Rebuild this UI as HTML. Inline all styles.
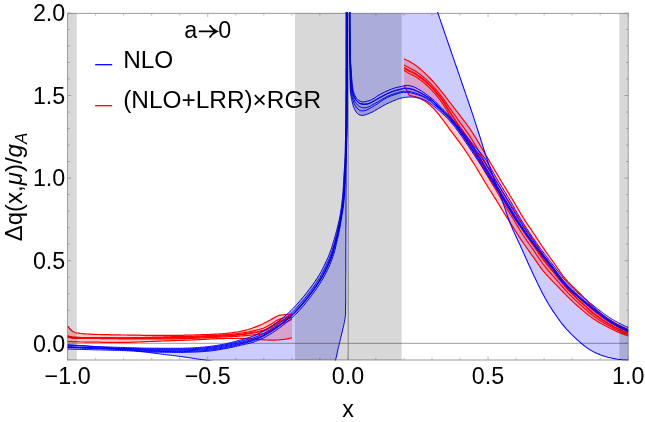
<!DOCTYPE html>
<html><head><meta charset="utf-8"><title>plot</title>
<style>html,body{margin:0;padding:0;background:#fff;width:645px;height:422px;overflow:hidden}</style></head>
<body>
<svg width="645" height="422" viewBox="0 0 645 422" style="position:absolute;left:0;top:0;will-change:transform">
<defs><clipPath id="cp"><rect x="67.50" y="12.10" width="560.80" height="348.30"/></clipPath><clipPath id="cf"><rect x="67.50" y="13.40" width="560.80" height="346.60"/></clipPath></defs>
<rect x="0" y="0" width="645" height="422" fill="#fff"/>
<line x1="67.50" y1="343.30" x2="628.30" y2="343.30" stroke="#909090" stroke-width="0.9"/>
<line x1="348.20" y1="13.40" x2="348.20" y2="360.00" stroke="#909090" stroke-width="0.9"/>
<path d="M67.10 13.40 H628.70 M67.10 360.00 H628.70" fill="none" stroke="#909090" stroke-width="0.9"/>
<path d="M67.50 13.40 V360.00 M628.30 13.40 V360.00" fill="none" stroke="#909090" stroke-width="0.75"/>
<line x1="67.60" y1="360.00" x2="67.60" y2="356.40" stroke="#a8a8a8" stroke-width="0.8"/>
<line x1="67.60" y1="13.40" x2="67.60" y2="17.00" stroke="#a8a8a8" stroke-width="0.8"/>
<line x1="95.63" y1="360.00" x2="95.63" y2="357.80" stroke="#a8a8a8" stroke-width="0.8"/>
<line x1="95.63" y1="13.40" x2="95.63" y2="15.60" stroke="#a8a8a8" stroke-width="0.8"/>
<line x1="123.66" y1="360.00" x2="123.66" y2="357.80" stroke="#a8a8a8" stroke-width="0.8"/>
<line x1="123.66" y1="13.40" x2="123.66" y2="15.60" stroke="#a8a8a8" stroke-width="0.8"/>
<line x1="151.69" y1="360.00" x2="151.69" y2="357.80" stroke="#a8a8a8" stroke-width="0.8"/>
<line x1="151.69" y1="13.40" x2="151.69" y2="15.60" stroke="#a8a8a8" stroke-width="0.8"/>
<line x1="179.72" y1="360.00" x2="179.72" y2="357.80" stroke="#a8a8a8" stroke-width="0.8"/>
<line x1="179.72" y1="13.40" x2="179.72" y2="15.60" stroke="#a8a8a8" stroke-width="0.8"/>
<line x1="207.75" y1="360.00" x2="207.75" y2="356.40" stroke="#a8a8a8" stroke-width="0.8"/>
<line x1="207.75" y1="13.40" x2="207.75" y2="17.00" stroke="#a8a8a8" stroke-width="0.8"/>
<line x1="235.78" y1="360.00" x2="235.78" y2="357.80" stroke="#a8a8a8" stroke-width="0.8"/>
<line x1="235.78" y1="13.40" x2="235.78" y2="15.60" stroke="#a8a8a8" stroke-width="0.8"/>
<line x1="263.81" y1="360.00" x2="263.81" y2="357.80" stroke="#a8a8a8" stroke-width="0.8"/>
<line x1="263.81" y1="13.40" x2="263.81" y2="15.60" stroke="#a8a8a8" stroke-width="0.8"/>
<line x1="291.84" y1="360.00" x2="291.84" y2="357.80" stroke="#a8a8a8" stroke-width="0.8"/>
<line x1="291.84" y1="13.40" x2="291.84" y2="15.60" stroke="#a8a8a8" stroke-width="0.8"/>
<line x1="319.87" y1="360.00" x2="319.87" y2="357.80" stroke="#a8a8a8" stroke-width="0.8"/>
<line x1="319.87" y1="13.40" x2="319.87" y2="15.60" stroke="#a8a8a8" stroke-width="0.8"/>
<line x1="347.90" y1="360.00" x2="347.90" y2="356.40" stroke="#a8a8a8" stroke-width="0.8"/>
<line x1="347.90" y1="13.40" x2="347.90" y2="17.00" stroke="#a8a8a8" stroke-width="0.8"/>
<line x1="375.93" y1="360.00" x2="375.93" y2="357.80" stroke="#a8a8a8" stroke-width="0.8"/>
<line x1="375.93" y1="13.40" x2="375.93" y2="15.60" stroke="#a8a8a8" stroke-width="0.8"/>
<line x1="403.96" y1="360.00" x2="403.96" y2="357.80" stroke="#a8a8a8" stroke-width="0.8"/>
<line x1="403.96" y1="13.40" x2="403.96" y2="15.60" stroke="#a8a8a8" stroke-width="0.8"/>
<line x1="431.99" y1="360.00" x2="431.99" y2="357.80" stroke="#a8a8a8" stroke-width="0.8"/>
<line x1="431.99" y1="13.40" x2="431.99" y2="15.60" stroke="#a8a8a8" stroke-width="0.8"/>
<line x1="460.02" y1="360.00" x2="460.02" y2="357.80" stroke="#a8a8a8" stroke-width="0.8"/>
<line x1="460.02" y1="13.40" x2="460.02" y2="15.60" stroke="#a8a8a8" stroke-width="0.8"/>
<line x1="488.05" y1="360.00" x2="488.05" y2="356.40" stroke="#a8a8a8" stroke-width="0.8"/>
<line x1="488.05" y1="13.40" x2="488.05" y2="17.00" stroke="#a8a8a8" stroke-width="0.8"/>
<line x1="516.08" y1="360.00" x2="516.08" y2="357.80" stroke="#a8a8a8" stroke-width="0.8"/>
<line x1="516.08" y1="13.40" x2="516.08" y2="15.60" stroke="#a8a8a8" stroke-width="0.8"/>
<line x1="544.11" y1="360.00" x2="544.11" y2="357.80" stroke="#a8a8a8" stroke-width="0.8"/>
<line x1="544.11" y1="13.40" x2="544.11" y2="15.60" stroke="#a8a8a8" stroke-width="0.8"/>
<line x1="572.14" y1="360.00" x2="572.14" y2="357.80" stroke="#a8a8a8" stroke-width="0.8"/>
<line x1="572.14" y1="13.40" x2="572.14" y2="15.60" stroke="#a8a8a8" stroke-width="0.8"/>
<line x1="600.17" y1="360.00" x2="600.17" y2="357.80" stroke="#a8a8a8" stroke-width="0.8"/>
<line x1="600.17" y1="13.40" x2="600.17" y2="15.60" stroke="#a8a8a8" stroke-width="0.8"/>
<line x1="628.20" y1="360.00" x2="628.20" y2="356.40" stroke="#a8a8a8" stroke-width="0.8"/>
<line x1="628.20" y1="13.40" x2="628.20" y2="17.00" stroke="#a8a8a8" stroke-width="0.8"/>
<line x1="67.50" y1="359.82" x2="69.70" y2="359.82" stroke="#a8a8a8" stroke-width="0.8"/>
<line x1="628.30" y1="359.82" x2="626.10" y2="359.82" stroke="#a8a8a8" stroke-width="0.8"/>
<line x1="67.50" y1="343.30" x2="71.10" y2="343.30" stroke="#a8a8a8" stroke-width="0.8"/>
<line x1="628.30" y1="343.30" x2="624.70" y2="343.30" stroke="#a8a8a8" stroke-width="0.8"/>
<line x1="67.50" y1="326.78" x2="69.70" y2="326.78" stroke="#a8a8a8" stroke-width="0.8"/>
<line x1="628.30" y1="326.78" x2="626.10" y2="326.78" stroke="#a8a8a8" stroke-width="0.8"/>
<line x1="67.50" y1="310.26" x2="69.70" y2="310.26" stroke="#a8a8a8" stroke-width="0.8"/>
<line x1="628.30" y1="310.26" x2="626.10" y2="310.26" stroke="#a8a8a8" stroke-width="0.8"/>
<line x1="67.50" y1="293.74" x2="69.70" y2="293.74" stroke="#a8a8a8" stroke-width="0.8"/>
<line x1="628.30" y1="293.74" x2="626.10" y2="293.74" stroke="#a8a8a8" stroke-width="0.8"/>
<line x1="67.50" y1="277.22" x2="69.70" y2="277.22" stroke="#a8a8a8" stroke-width="0.8"/>
<line x1="628.30" y1="277.22" x2="626.10" y2="277.22" stroke="#a8a8a8" stroke-width="0.8"/>
<line x1="67.50" y1="260.70" x2="71.10" y2="260.70" stroke="#a8a8a8" stroke-width="0.8"/>
<line x1="628.30" y1="260.70" x2="624.70" y2="260.70" stroke="#a8a8a8" stroke-width="0.8"/>
<line x1="67.50" y1="244.18" x2="69.70" y2="244.18" stroke="#a8a8a8" stroke-width="0.8"/>
<line x1="628.30" y1="244.18" x2="626.10" y2="244.18" stroke="#a8a8a8" stroke-width="0.8"/>
<line x1="67.50" y1="227.66" x2="69.70" y2="227.66" stroke="#a8a8a8" stroke-width="0.8"/>
<line x1="628.30" y1="227.66" x2="626.10" y2="227.66" stroke="#a8a8a8" stroke-width="0.8"/>
<line x1="67.50" y1="211.14" x2="69.70" y2="211.14" stroke="#a8a8a8" stroke-width="0.8"/>
<line x1="628.30" y1="211.14" x2="626.10" y2="211.14" stroke="#a8a8a8" stroke-width="0.8"/>
<line x1="67.50" y1="194.62" x2="69.70" y2="194.62" stroke="#a8a8a8" stroke-width="0.8"/>
<line x1="628.30" y1="194.62" x2="626.10" y2="194.62" stroke="#a8a8a8" stroke-width="0.8"/>
<line x1="67.50" y1="178.10" x2="71.10" y2="178.10" stroke="#a8a8a8" stroke-width="0.8"/>
<line x1="628.30" y1="178.10" x2="624.70" y2="178.10" stroke="#a8a8a8" stroke-width="0.8"/>
<line x1="67.50" y1="161.58" x2="69.70" y2="161.58" stroke="#a8a8a8" stroke-width="0.8"/>
<line x1="628.30" y1="161.58" x2="626.10" y2="161.58" stroke="#a8a8a8" stroke-width="0.8"/>
<line x1="67.50" y1="145.06" x2="69.70" y2="145.06" stroke="#a8a8a8" stroke-width="0.8"/>
<line x1="628.30" y1="145.06" x2="626.10" y2="145.06" stroke="#a8a8a8" stroke-width="0.8"/>
<line x1="67.50" y1="128.54" x2="69.70" y2="128.54" stroke="#a8a8a8" stroke-width="0.8"/>
<line x1="628.30" y1="128.54" x2="626.10" y2="128.54" stroke="#a8a8a8" stroke-width="0.8"/>
<line x1="67.50" y1="112.02" x2="69.70" y2="112.02" stroke="#a8a8a8" stroke-width="0.8"/>
<line x1="628.30" y1="112.02" x2="626.10" y2="112.02" stroke="#a8a8a8" stroke-width="0.8"/>
<line x1="67.50" y1="95.50" x2="71.10" y2="95.50" stroke="#a8a8a8" stroke-width="0.8"/>
<line x1="628.30" y1="95.50" x2="624.70" y2="95.50" stroke="#a8a8a8" stroke-width="0.8"/>
<line x1="67.50" y1="78.98" x2="69.70" y2="78.98" stroke="#a8a8a8" stroke-width="0.8"/>
<line x1="628.30" y1="78.98" x2="626.10" y2="78.98" stroke="#a8a8a8" stroke-width="0.8"/>
<line x1="67.50" y1="62.46" x2="69.70" y2="62.46" stroke="#a8a8a8" stroke-width="0.8"/>
<line x1="628.30" y1="62.46" x2="626.10" y2="62.46" stroke="#a8a8a8" stroke-width="0.8"/>
<line x1="67.50" y1="45.94" x2="69.70" y2="45.94" stroke="#a8a8a8" stroke-width="0.8"/>
<line x1="628.30" y1="45.94" x2="626.10" y2="45.94" stroke="#a8a8a8" stroke-width="0.8"/>
<line x1="67.50" y1="29.42" x2="69.70" y2="29.42" stroke="#a8a8a8" stroke-width="0.8"/>
<line x1="628.30" y1="29.42" x2="626.10" y2="29.42" stroke="#a8a8a8" stroke-width="0.8"/>
<line x1="67.50" y1="12.90" x2="71.10" y2="12.90" stroke="#a8a8a8" stroke-width="0.8"/>
<line x1="628.30" y1="12.90" x2="624.70" y2="12.90" stroke="#a8a8a8" stroke-width="0.8"/>
<g clip-path="url(#cp)" fill="none" stroke-linejoin="round">
<path d="M67.5 345.2L69.2 345.3L70.9 345.4L72.6 345.5L74.3 345.6L76.1 345.6L77.8 345.7L79.5 345.8L81.2 345.9L82.9 346.0L84.6 346.1L86.3 346.1L88.0 346.2L89.7 346.3L91.5 346.4L93.2 346.4L94.9 346.5L96.6 346.6L98.3 346.6L100.0 346.7L101.7 346.8L103.4 346.8L105.1 346.9L106.9 346.9L108.6 347.0L110.3 347.1L112.0 347.1L113.7 347.2L115.4 347.2L117.1 347.3L118.8 347.3L120.6 347.4L122.3 347.4L124.0 347.5L125.7 347.6L127.4 347.6L129.1 347.7L130.8 347.7L132.5 347.8L134.3 347.8L136.0 347.9L137.7 347.9L139.4 348.0L141.1 348.0L142.8 348.1L144.5 348.1L146.2 348.2L148.0 348.2L149.7 348.2L151.4 348.2L153.1 348.2L154.8 348.2L156.5 348.2L158.2 348.2L159.9 348.3L161.7 348.3L163.4 348.3L165.1 348.3L166.8 348.3L168.5 348.3L170.2 348.3L171.9 348.3L173.7 348.3L175.4 348.3L177.1 348.3L178.8 348.3L180.5 348.3L182.2 348.3L183.9 348.2L185.6 348.2L187.4 348.1L189.1 348.1L190.8 348.0L192.5 347.9L194.2 347.8L195.9 347.7L197.6 347.6L199.3 347.4L201.0 347.3L202.7 347.2L204.5 347.0L206.2 346.8L207.9 346.7L209.6 346.4L211.3 346.2L213.0 346.0L214.7 345.8L216.3 345.5L218.0 345.2L219.7 344.9L221.4 344.6L223.1 344.3L224.8 344.0L226.5 343.6L228.1 343.2L229.8 342.8L231.5 342.4L233.1 342.0L234.8 341.6L236.4 341.1L238.1 340.6L239.7 340.2L241.4 339.7L243.0 339.2L244.6 338.7L246.3 338.3L248.0 337.8L249.6 337.3L251.2 336.8L252.8 336.2L254.4 335.5L256.0 334.8L257.5 334.0L259.0 333.3L260.6 332.5L262.1 331.7L263.6 330.9L265.1 330.0L266.6 329.2L268.0 328.3L269.5 327.4L271.0 326.5L272.4 325.6L273.8 324.6L275.2 323.6L276.6 322.6L278.0 321.6L279.3 320.6L280.7 319.5L282.0 318.5L283.4 317.4L284.7 316.3L286.0 315.1L287.2 314.0L288.5 312.8L289.7 311.7L291.0 310.5L292.2 309.2L293.4 308.0L294.6 306.8L295.7 305.5L296.9 304.3L298.0 303.0L299.2 301.7L300.3 300.4L301.4 299.1L302.5 297.8L303.6 296.5L304.7 295.1L305.8 293.8L306.8 292.5L307.9 291.1L308.9 289.8L310.0 288.4L311.0 287.0L312.0 285.7L313.0 284.3L314.0 282.9L315.0 281.5L315.9 280.0L316.9 278.6L317.8 277.2L318.7 275.7L319.6 274.2L320.4 272.8L321.3 271.3L322.1 269.7L322.8 268.2L323.6 266.7L324.4 265.1L325.1 263.6L325.8 262.0L326.6 260.5L327.3 258.9L328.0 257.4L328.7 255.8L329.3 254.2L329.9 252.6L330.5 251.0L331.1 249.4L331.6 247.8L332.1 246.1L332.6 244.5L333.1 242.9L333.6 241.2L334.1 239.6L334.6 237.9L335.1 236.3L335.5 234.6L336.0 233.0L336.4 231.3L336.9 229.7L337.3 228.0L337.7 226.3L338.1 224.7L338.5 223.0L338.9 221.3L339.3 219.7L339.6 218.0L339.9 216.3L340.2 214.6L340.5 212.9L340.7 211.2L341.0 209.5L341.3 207.8L341.5 206.1L341.7 204.4L341.9 202.7L342.1 201.0L342.3 199.3L342.5 197.6L342.6 195.9L342.8 194.2L342.9 192.5L343.1 190.8L343.2 189.1L343.3 187.4L343.4 185.7L343.5 184.0L343.6 182.3L343.7 180.5L343.7 178.8L343.8 177.1L343.9 175.4L344.0 173.7L344.2 172.0L344.3 170.3L344.4 168.6L344.5 166.9L344.6 165.2L344.7 163.4L344.8 161.7L344.8 160.0L344.9 158.3L345.0 156.6L345.0 154.9L345.1 153.2L345.2 151.5L345.2 149.8L345.3 148.0L345.3 146.3L345.3 144.6L345.4 142.9L345.4 141.2L345.5 139.5L345.5 137.8L345.5 136.1L345.6 134.3L345.6 132.6L345.6 130.9L345.6 129.2L345.7 127.5L345.7 125.8L345.7 124.1L345.7 122.3L345.7 120.6L345.8 118.9L345.8 117.2L345.8 115.5L345.8 113.8L345.8 112.1L345.8 110.4L345.8 108.6L345.9 106.9L345.9 105.2L345.9 103.5L345.9 101.8L345.9 100.1L345.9 98.4L345.9 96.7L345.9 94.9L345.9 93.2L345.9 91.5L346.0 89.8L346.0 88.1L346.0 86.4L346.0 84.7L346.0 82.9L346.0 81.2L346.0 79.5L346.0 77.8L346.0 76.1L346.0 74.4L346.0 72.7L346.0 71.0L346.0 69.2L346.1 67.5L346.1 65.8L346.1 64.1L346.1 62.4L346.1 60.7L346.1 59.0L346.1 57.3L346.1 55.5L346.1 53.8L346.1 52.1L346.1 50.4L346.1 48.7L346.1 47.0L346.1 45.3L346.1 43.5L346.1 41.8L346.1 40.1L346.2 38.4L346.2 36.7L346.2 35.0L346.2 33.3L346.2 31.6L346.2 29.8L346.2 28.1L346.2 26.4L346.2 24.7L346.2 23.0L346.2 21.3L346.2 19.6L346.2 17.9L346.2 16.1L346.2 14.4L346.2 12.7L346.2 11.0L346.2 11.0L346.2 13.0L346.2 14.9L346.2 16.9L346.2 18.8L346.2 20.8L346.2 22.7L346.2 24.7L346.2 26.6L346.2 28.6L346.2 30.5L346.2 32.5L346.2 34.4L346.2 36.4L346.2 38.3L346.2 40.3L346.2 42.3L346.2 44.2L346.2 46.2L346.2 48.1L346.2 50.1L346.2 52.0L346.2 54.0L346.2 55.9L346.2 57.9L346.2 59.8L346.2 61.8L346.2 63.7L346.2 65.7L346.2 67.7L346.2 69.6L346.2 71.6L346.2 73.5L346.2 75.5L346.2 77.4L346.2 79.4L346.2 81.3L346.2 83.3L346.2 85.2L346.2 87.2L346.2 89.1L346.2 91.1L346.2 93.0L346.2 95.0L346.2 97.0L346.1 98.9L346.1 100.9L346.1 102.8L346.1 104.8L346.1 106.7L346.1 108.7L346.1 110.6L346.1 112.6L346.1 114.5L346.1 116.5L346.1 118.4L346.1 120.4L346.1 122.3L346.1 124.3L346.1 126.3L346.1 128.2L346.1 130.2L346.1 132.1L346.1 134.1L346.1 136.0L346.1 138.0L346.1 139.9L346.1 141.9L346.1 143.8L346.1 145.8L346.1 147.7L346.1 149.7L346.1 151.6L346.1 153.6L346.1 155.6L346.1 157.5L346.1 159.5L346.1 161.4L346.1 163.4L346.1 165.3L346.1 167.3L346.1 169.2L346.1 171.2L346.1 173.1L346.1 175.1L346.1 177.0L346.1 179.0L346.1 181.0L346.1 182.9L346.1 184.9L346.1 186.8L346.1 188.8L346.0 190.7L346.0 192.7L346.0 194.6L346.0 196.6L346.0 198.5L346.0 200.5L346.0 202.4L346.0 204.4L346.0 206.3L346.0 208.3L346.0 210.3L346.0 212.2L346.0 214.2L346.0 216.1L346.0 218.1L346.0 220.0L346.0 222.0L346.0 223.9L346.0 225.9L345.9 227.8L345.9 229.8L345.9 231.7L345.9 233.7L345.9 235.6L345.9 237.6L345.9 239.6L345.9 241.5L345.9 243.5L345.8 245.4L345.8 247.4L345.8 249.3L345.8 251.3L345.8 253.2L345.8 255.2L345.8 257.1L345.8 259.1L345.8 261.0L345.8 263.0L345.8 264.9L345.8 266.9L345.8 268.9L345.8 270.8L345.8 272.8L345.8 274.7L345.7 276.7L345.7 278.6L345.7 280.6L345.7 282.5L345.7 284.5L345.7 286.4L345.7 288.4L345.7 290.3L345.7 292.3L345.7 294.3L345.7 296.2L345.7 298.2L345.7 300.1L345.7 302.1L345.7 304.0L345.6 306.0L345.6 307.9L345.6 309.9L345.5 311.8L345.5 313.8L345.4 315.7L345.1 317.7L344.8 319.6L344.5 321.5L344.1 323.4L343.7 325.4L343.3 327.3L342.8 329.2L342.4 331.1L341.9 333.0L341.4 334.9L341.0 336.8L340.5 338.7L340.1 340.6L339.6 342.5L339.2 344.4L338.7 346.3L338.2 348.2L337.8 350.1L337.4 352.0L337.0 354.0L336.6 355.9L336.1 357.8L335.6 359.6L334.8 361.3L333.7 363.1L332.3 364.8L330.9 366.3L329.3 367.5L327.7 368.1L326.0 368.5L324.3 368.8L322.4 369.1L320.4 369.4L318.3 369.6L316.3 369.8L314.2 369.9L312.2 370.0L310.2 370.0L308.2 370.0L306.3 370.0L304.3 370.0L302.4 369.9L300.4 369.9L298.5 369.9L296.5 369.8L294.6 369.7L292.6 369.7L290.6 369.6L288.7 369.5L286.7 369.5L284.8 369.4L282.8 369.3L280.9 369.2L278.9 369.1L277.0 369.0L275.0 368.9L273.1 368.8L271.1 368.7L269.2 368.6L267.2 368.4L265.3 368.3L263.3 368.2L261.4 368.1L259.4 368.0L257.5 367.8L255.5 367.7L253.6 367.5L251.7 367.3L249.7 367.1L247.8 366.9L245.8 366.6L243.9 366.4L242.0 366.1L240.0 365.8L238.1 365.5L236.2 365.2L234.2 364.9L232.3 364.6L230.4 364.3L228.5 364.0L226.5 363.6L224.6 363.3L222.7 363.0L220.7 362.6L218.8 362.3L216.9 362.0L214.9 361.6L213.0 361.3L211.1 361.0L209.1 360.7L207.2 360.4L205.3 360.1L203.4 359.8L201.4 359.5L199.5 359.3L197.6 359.0L195.6 358.7L193.7 358.4L191.8 358.1L189.8 357.8L187.9 357.5L186.0 357.2L184.0 357.0L182.1 356.7L180.2 356.4L178.2 356.2L176.3 355.9L174.3 355.7L172.4 355.5L170.5 355.2L168.5 355.0L166.6 354.8L164.6 354.5L162.7 354.3L160.8 354.0L158.8 353.8L156.9 353.5L155.0 353.3L153.0 353.0L151.1 352.8L149.2 352.5L147.2 352.2L145.3 352.0L143.3 351.7L141.4 351.5L139.5 351.2L137.5 351.0L135.6 350.7L133.7 350.5L131.7 350.2L129.8 350.0L127.8 349.7L125.9 349.5L124.0 349.3L122.0 349.1L120.1 348.9L118.1 348.7L116.2 348.5L114.2 348.3L112.3 348.1L110.4 347.9L108.4 347.7L106.5 347.6L104.5 347.4L102.6 347.2L100.6 347.1L98.7 346.9L96.7 346.7L94.8 346.6L92.8 346.4L90.9 346.3L88.9 346.1L87.0 346.0L85.0 345.8L83.1 345.7L81.1 345.6L79.2 345.4L77.3 345.3L75.3 345.2L73.4 345.0L71.4 344.9L69.5 344.8L67.5 344.7 Z" fill="rgba(0,0,255,0.2)" stroke="none" clip-path="url(#cf)"/>
<path d="M349.4 11.0L349.4 12.5L349.4 14.1L349.4 15.6L349.4 17.1L349.4 18.7L349.4 20.2L349.5 21.7L349.5 23.2L349.5 24.8L349.5 26.3L349.5 27.8L349.5 29.4L349.5 30.9L349.5 32.4L349.5 34.0L349.6 35.5L349.6 37.0L349.6 38.6L349.6 40.1L349.6 41.6L349.6 43.1L349.6 44.7L349.7 46.2L349.7 47.7L349.7 49.3L349.7 50.8L349.7 52.3L349.7 53.9L349.8 55.4L349.8 56.9L349.8 58.5L349.8 60.0L349.8 61.5L349.8 63.1L349.8 64.6L349.8 66.1L349.9 67.7L349.9 69.2L349.9 70.7L349.9 72.3L349.9 73.8L350.0 75.3L350.0 76.9L350.0 78.4L350.0 79.9L350.1 81.4L350.1 83.0L350.1 84.5L350.2 86.0L350.2 87.5L350.3 89.1L350.3 90.6L350.4 92.1L350.6 93.6L350.9 95.2L351.1 96.7L351.4 98.2L351.7 99.7L352.0 101.2L352.4 102.7L352.8 104.2L353.2 105.7L353.7 107.1L354.3 108.5L354.9 109.9L355.7 111.3L356.6 112.7L357.7 113.8L358.8 114.5L360.3 115.1L361.8 115.4L363.3 115.3L364.8 115.0L366.3 114.5L367.8 114.0L369.2 113.4L370.6 112.8L372.0 112.2L373.4 111.5L374.7 110.7L376.0 109.9L377.4 109.2L378.7 108.4L380.0 107.6L381.3 106.8L382.7 106.1L384.0 105.3L385.3 104.6L386.7 103.9L388.1 103.2L389.4 102.6L390.9 102.0L392.3 101.3L393.7 100.8L395.1 100.2L396.5 99.6L397.9 99.0L399.4 98.6L400.9 98.2L402.4 97.8L403.9 97.5L405.4 97.3L406.9 97.2L408.4 97.1L410.0 97.0L411.5 97.0L413.0 97.0L414.6 97.2L416.1 97.5L417.6 97.8L419.1 98.1L420.5 98.5L422.0 99.0L423.5 99.6L424.9 100.2L426.2 100.8L427.5 101.6L428.8 102.4L430.1 103.3L431.3 104.3L432.5 105.2L433.7 106.1L434.9 107.1L436.1 108.0L437.3 109.0L438.5 110.0L439.6 111.0L440.8 112.0L441.9 113.0L443.0 114.1L444.1 115.1L445.2 116.2L446.3 117.3L447.4 118.4L448.4 119.5L449.4 120.7L450.5 121.8L451.5 123.0L452.4 124.1L453.4 125.3L454.4 126.5L455.3 127.7L456.3 128.9L457.2 130.2L458.1 131.4L459.0 132.6L459.9 133.9L460.8 135.1L461.7 136.4L462.5 137.6L463.4 138.9L464.3 140.1L465.1 141.4L466.0 142.7L466.8 144.0L467.7 145.2L468.5 146.5L469.4 147.8L470.2 149.1L471.1 150.3L471.9 151.6L472.8 152.9L473.6 154.2L474.4 155.4L475.3 156.7L476.1 158.0L477.0 159.3L477.8 160.5L478.7 161.8L479.5 163.1L480.4 164.4L481.2 165.6L482.0 166.9L482.9 168.2L483.7 169.5L484.6 170.8L485.4 172.0L486.3 173.3L487.1 174.6L487.9 175.9L488.8 177.2L489.6 178.4L490.4 179.7L491.3 181.0L492.1 182.3L492.9 183.6L493.7 184.9L494.6 186.2L495.4 187.5L496.2 188.8L497.0 190.0L497.8 191.3L498.7 192.6L499.5 193.9L500.3 195.2L501.1 196.5L501.9 197.8L502.7 199.1L503.6 200.4L504.4 201.7L505.2 203.0L505.9 204.3L506.7 205.6L507.5 207.0L508.3 208.3L509.1 209.6L509.9 210.9L510.7 212.2L511.5 213.5L512.3 214.8L513.1 216.1L513.9 217.4L514.7 218.7L515.6 220.0L516.4 221.2L517.3 222.5L518.2 223.8L519.0 225.0L519.9 226.3L520.8 227.5L521.7 228.8L522.6 230.0L523.5 231.2L524.4 232.5L525.3 233.7L526.2 234.9L527.1 236.2L528.0 237.4L529.0 238.6L529.9 239.8L530.8 241.1L531.7 242.3L532.7 243.5L533.6 244.7L534.5 245.9L535.4 247.2L536.4 248.4L537.3 249.6L538.2 250.8L539.2 252.0L540.1 253.2L541.0 254.4L542.0 255.7L542.9 256.9L543.9 258.1L544.8 259.3L545.8 260.5L546.7 261.7L547.7 262.9L548.6 264.1L549.6 265.3L550.5 266.5L551.4 267.7L552.4 268.9L553.3 270.1L554.2 271.4L555.1 272.6L556.0 273.9L556.8 275.1L557.7 276.4L558.6 277.6L559.5 278.9L560.4 280.1L561.4 281.3L562.4 282.4L563.4 283.6L564.4 284.7L565.5 285.8L566.5 286.9L567.6 287.9L568.7 289.0L569.9 290.0L571.0 291.1L572.1 292.1L573.3 293.1L574.4 294.2L575.6 295.2L576.8 296.2L577.9 297.2L579.1 298.2L580.2 299.2L581.4 300.2L582.6 301.2L583.7 302.2L584.9 303.1L586.1 304.1L587.3 305.1L588.5 306.0L589.7 307.0L590.9 307.9L592.1 308.9L593.3 309.8L594.5 310.7L595.7 311.7L597.0 312.6L598.2 313.5L599.4 314.5L600.6 315.4L601.8 316.3L603.0 317.3L604.3 318.2L605.5 319.1L606.8 320.0L608.0 320.8L609.3 321.7L610.6 322.5L611.9 323.3L613.2 324.1L614.5 324.9L615.8 325.6L617.2 326.4L618.5 327.1L619.9 327.8L621.3 328.4L622.7 329.1L624.1 329.7L625.5 330.3L626.9 330.9L628.3 331.5L630.3 331.0L630.3 362.0L628.3 360.3L627.0 360.2L625.7 360.1L624.4 360.0L623.1 359.9L621.8 359.8L620.5 359.6L619.2 359.4L617.9 359.3L616.6 359.1L615.3 358.9L614.1 358.6L612.8 358.4L611.5 358.1L610.2 357.8L608.9 357.5L607.7 357.2L606.4 356.8L605.1 356.5L603.9 356.1L602.7 355.7L601.5 355.3L600.2 354.8L599.0 354.3L597.8 353.8L596.6 353.3L595.4 352.7L594.2 352.1L593.1 351.5L591.9 350.9L590.8 350.2L589.7 349.6L588.6 348.9L587.5 348.2L586.5 347.4L585.4 346.7L584.4 345.9L583.4 345.0L582.3 344.2L581.3 343.3L580.3 342.5L579.4 341.6L578.4 340.7L577.4 339.9L576.4 339.0L575.5 338.1L574.5 337.2L573.6 336.3L572.6 335.4L571.7 334.5L570.8 333.6L569.9 332.6L569.0 331.7L568.1 330.7L567.2 329.8L566.3 328.8L565.5 327.8L564.6 326.8L563.8 325.8L563.0 324.8L562.1 323.8L561.3 322.8L560.5 321.7L559.8 320.7L559.0 319.6L558.2 318.6L557.5 317.5L556.7 316.5L556.0 315.4L555.2 314.3L554.5 313.2L553.7 312.2L553.0 311.1L552.3 310.0L551.6 308.9L550.9 307.8L550.2 306.7L549.5 305.6L548.8 304.5L548.1 303.3L547.5 302.2L546.8 301.1L546.2 300.0L545.5 298.8L544.9 297.7L544.3 296.5L543.7 295.4L543.0 294.2L542.4 293.1L541.8 291.9L541.2 290.8L540.7 289.6L540.1 288.4L539.5 287.3L538.9 286.1L538.3 284.9L537.8 283.7L537.2 282.6L536.6 281.4L536.1 280.2L535.5 279.0L535.0 277.8L534.4 276.7L533.8 275.5L533.3 274.3L532.7 273.1L532.2 272.0L531.6 270.8L531.1 269.6L530.5 268.4L530.0 267.2L529.4 266.0L528.9 264.8L528.4 263.7L527.8 262.5L527.3 261.3L526.8 260.1L526.2 258.9L525.7 257.7L525.2 256.5L524.6 255.3L524.1 254.1L523.6 252.9L523.0 251.7L522.5 250.5L522.0 249.4L521.4 248.2L520.9 247.0L520.4 245.8L519.8 244.6L519.3 243.4L518.7 242.2L518.2 241.0L517.6 239.9L517.1 238.7L516.5 237.5L515.9 236.3L515.4 235.1L514.8 233.9L514.3 232.8L513.8 231.6L513.2 230.4L512.7 229.2L512.2 228.0L511.7 226.8L511.2 225.6L510.7 224.4L510.2 223.2L509.7 222.0L509.3 220.8L508.8 219.5L508.4 218.3L507.9 217.1L507.5 215.8L507.1 214.6L506.6 213.4L506.2 212.1L505.8 210.9L505.4 209.7L505.0 208.4L504.5 207.2L504.1 206.0L503.7 204.7L503.3 203.5L502.8 202.3L502.4 201.0L501.9 199.8L501.5 198.6L501.0 197.4L500.6 196.1L500.1 194.9L499.6 193.7L499.2 192.5L498.7 191.3L498.2 190.1L497.7 188.8L497.3 187.6L496.8 186.4L496.3 185.2L495.9 184.0L495.4 182.8L494.9 181.5L494.5 180.3L494.0 179.1L493.6 177.9L493.1 176.6L492.7 175.4L492.3 174.2L491.8 172.9L491.4 171.7L491.0 170.5L490.5 169.2L490.1 168.0L489.7 166.8L489.3 165.5L488.8 164.3L488.4 163.1L488.0 161.8L487.6 160.6L487.2 159.4L486.7 158.1L486.3 156.9L485.9 155.7L485.5 154.4L485.1 153.2L484.7 151.9L484.3 150.7L483.9 149.5L483.5 148.2L483.1 147.0L482.7 145.7L482.3 144.5L481.9 143.2L481.5 142.0L481.1 140.7L480.8 139.5L480.4 138.3L480.0 137.0L479.6 135.8L479.2 134.5L478.8 133.3L478.4 132.0L478.0 130.8L477.6 129.5L477.2 128.3L476.8 127.1L476.4 125.8L476.0 124.6L475.6 123.3L475.2 122.1L474.8 120.9L474.4 119.6L474.0 118.4L473.6 117.1L473.2 115.9L472.8 114.7L472.4 113.4L471.9 112.2L471.5 111.0L471.1 109.7L470.7 108.5L470.3 107.2L469.8 106.0L469.4 104.8L469.0 103.5L468.6 102.3L468.2 101.1L467.7 99.8L467.3 98.6L466.9 97.4L466.5 96.1L466.0 94.9L465.6 93.7L465.2 92.4L464.8 91.2L464.4 90.0L463.9 88.7L463.5 87.5L463.1 86.3L462.7 85.0L462.2 83.8L461.8 82.6L461.4 81.3L461.0 80.1L460.6 78.9L460.1 77.6L459.7 76.4L459.3 75.2L458.9 73.9L458.4 72.7L458.0 71.5L457.6 70.2L457.2 69.0L456.7 67.8L456.3 66.5L455.9 65.3L455.4 64.1L455.0 62.8L454.6 61.6L454.2 60.4L453.7 59.1L453.3 57.9L452.9 56.7L452.5 55.4L452.0 54.2L451.6 53.0L451.2 51.7L450.8 50.5L450.3 49.3L449.9 48.0L449.5 46.8L449.1 45.5L448.6 44.3L448.2 43.1L447.8 41.8L447.4 40.6L446.9 39.4L446.5 38.1L446.1 36.9L445.7 35.7L445.3 34.4L444.8 33.2L444.4 32.0L444.0 30.7L443.6 29.5L443.1 28.3L442.7 27.0L442.3 25.8L441.9 24.6L441.4 23.3L441.0 22.1L440.6 20.9L440.2 19.6L439.7 18.4L439.3 17.2L438.9 15.9L438.5 14.7L438.0 13.5L437.6 12.2L437.2 11.0L437.0 5.0L349.0 5.0 Z" fill="rgba(0,0,255,0.2)" stroke="none" fill-rule="nonzero" clip-path="url(#cf)"/>
<path d="M67.5 345.2L69.2 345.3L70.9 345.4L72.6 345.5L74.3 345.6L76.1 345.6L77.8 345.7L79.5 345.8L81.2 345.9L82.9 346.0L84.6 346.1L86.3 346.1L88.0 346.2L89.7 346.3L91.5 346.4L93.2 346.4L94.9 346.5L96.6 346.6L98.3 346.6L100.0 346.7L101.7 346.8L103.4 346.8L105.1 346.9L106.9 346.9L108.6 347.0L110.3 347.1L112.0 347.1L113.7 347.2L115.4 347.2L117.1 347.3L118.8 347.3L120.6 347.4L122.3 347.4L124.0 347.5L125.7 347.6L127.4 347.6L129.1 347.7L130.8 347.7L132.5 347.8L134.3 347.8L136.0 347.9L137.7 347.9L139.4 348.0L141.1 348.0L142.8 348.1L144.5 348.1L146.2 348.2L148.0 348.2L149.7 348.2L151.4 348.2L153.1 348.2L154.8 348.2L156.5 348.2L158.2 348.2L159.9 348.3L161.7 348.3L163.4 348.3L165.1 348.3L166.8 348.3L168.5 348.3L170.2 348.3L171.9 348.3L173.7 348.3L175.4 348.3L177.1 348.3L178.8 348.3L180.5 348.3L182.2 348.3L183.9 348.2L185.6 348.2L187.4 348.1L189.1 348.1L190.8 348.0L192.5 347.9L194.2 347.8L195.9 347.7L197.6 347.6L199.3 347.4L201.0 347.3L202.7 347.2L204.5 347.0L206.2 346.8L207.9 346.7L209.6 346.4L211.3 346.2L213.0 346.0L214.7 345.8L216.3 345.5L218.0 345.2L219.7 344.9L221.4 344.6L223.1 344.3L224.8 344.0L226.5 343.6L228.1 343.2L229.8 342.8L231.5 342.4L233.1 342.0L234.8 341.6L236.4 341.1L238.1 340.6L239.7 340.2L241.4 339.7L243.0 339.2L244.6 338.7L246.3 338.3L248.0 337.8L249.6 337.3L251.2 336.8L252.8 336.2L254.4 335.5L256.0 334.8L257.5 334.0L259.0 333.3L260.6 332.5L262.1 331.7L263.6 330.9L265.1 330.0L266.6 329.2L268.0 328.3L269.5 327.4L271.0 326.5L272.4 325.6L273.8 324.6L275.2 323.6L276.6 322.6L278.0 321.6L279.3 320.6L280.7 319.5L282.0 318.5L283.4 317.4L284.7 316.3L286.0 315.1L287.2 314.0L288.5 312.8L289.7 311.7L291.0 310.5L292.2 309.2L293.4 308.0L294.6 306.8L295.7 305.5L296.9 304.3L298.0 303.0L299.2 301.7L300.3 300.4L301.4 299.1L302.5 297.8L303.6 296.5L304.7 295.1L305.8 293.8L306.8 292.5L307.9 291.1L308.9 289.8L310.0 288.4L311.0 287.0L312.0 285.7L313.0 284.3L314.0 282.9L315.0 281.5L315.9 280.0L316.9 278.6L317.8 277.2L318.7 275.7L319.6 274.2L320.4 272.8L321.3 271.3L322.1 269.7L322.8 268.2L323.6 266.7L324.4 265.1L325.1 263.6L325.8 262.0L326.6 260.5L327.3 258.9L328.0 257.4L328.7 255.8L329.3 254.2L329.9 252.6L330.5 251.0L331.1 249.4L331.6 247.8L332.1 246.1L332.6 244.5L333.1 242.9L333.6 241.2L334.1 239.6L334.6 237.9L335.1 236.3L335.5 234.6L336.0 233.0L336.4 231.3L336.9 229.7L337.3 228.0L337.7 226.3L338.1 224.7L338.5 223.0L338.9 221.3L339.3 219.7L339.6 218.0L339.9 216.3L340.2 214.6L340.5 212.9L340.7 211.2L341.0 209.5L341.3 207.8L341.5 206.1L341.7 204.4L341.9 202.7L342.1 201.0L342.3 199.3L342.5 197.6L342.6 195.9L342.8 194.2L342.9 192.5L343.1 190.8L343.2 189.1L343.3 187.4L343.4 185.7L343.5 184.0L343.6 182.3L343.7 180.5L343.7 178.8L343.8 177.1L343.9 175.4L344.0 173.7L344.2 172.0L344.3 170.3L344.4 168.6L344.5 166.9L344.6 165.2L344.7 163.4L344.8 161.7L344.8 160.0L344.9 158.3L345.0 156.6L345.0 154.9L345.1 153.2L345.2 151.5L345.2 149.8L345.3 148.0L345.3 146.3L345.3 144.6L345.4 142.9L345.4 141.2L345.5 139.5L345.5 137.8L345.5 136.1L345.6 134.3L345.6 132.6L345.6 130.9L345.6 129.2L345.7 127.5L345.7 125.8L345.7 124.1L345.7 122.3L345.7 120.6L345.8 118.9L345.8 117.2L345.8 115.5L345.8 113.8L345.8 112.1L345.8 110.4L345.8 108.6L345.9 106.9L345.9 105.2L345.9 103.5L345.9 101.8L345.9 100.1L345.9 98.4L345.9 96.7L345.9 94.9L345.9 93.2L345.9 91.5L346.0 89.8L346.0 88.1L346.0 86.4L346.0 84.7L346.0 82.9L346.0 81.2L346.0 79.5L346.0 77.8L346.0 76.1L346.0 74.4L346.0 72.7L346.0 71.0L346.0 69.2L346.1 67.5L346.1 65.8L346.1 64.1L346.1 62.4L346.1 60.7L346.1 59.0L346.1 57.3L346.1 55.5L346.1 53.8L346.1 52.1L346.1 50.4L346.1 48.7L346.1 47.0L346.1 45.3L346.1 43.5L346.1 41.8L346.1 40.1L346.2 38.4L346.2 36.7L346.2 35.0L346.2 33.3L346.2 31.6L346.2 29.8L346.2 28.1L346.2 26.4L346.2 24.7L346.2 23.0L346.2 21.3L346.2 19.6L346.2 17.9L346.2 16.1L346.2 14.4L346.2 12.7L346.2 11.0L347.6 11.0L347.6 12.7L347.6 14.5L347.6 16.2L347.6 17.9L347.6 19.7L347.6 21.4L347.6 23.2L347.6 24.9L347.6 26.6L347.6 28.4L347.6 30.1L347.6 31.8L347.5 33.6L347.5 35.3L347.5 37.0L347.5 38.8L347.5 40.5L347.5 42.3L347.5 44.0L347.5 45.7L347.5 47.5L347.5 49.2L347.5 50.9L347.5 52.7L347.5 54.4L347.5 56.1L347.5 57.9L347.5 59.6L347.5 61.4L347.5 63.1L347.5 64.8L347.4 66.6L347.4 68.3L347.4 70.0L347.4 71.8L347.4 73.5L347.4 75.3L347.4 77.0L347.4 78.7L347.4 80.5L347.4 82.2L347.4 83.9L347.4 85.7L347.4 87.4L347.4 89.1L347.4 90.9L347.4 92.6L347.4 94.4L347.3 96.1L347.3 97.8L347.3 99.6L347.3 101.3L347.3 103.0L347.3 104.8L347.3 106.5L347.3 108.2L347.3 110.0L347.3 111.7L347.3 113.5L347.3 115.2L347.3 116.9L347.2 118.7L347.2 120.4L347.2 122.1L347.2 123.9L347.2 125.6L347.2 127.3L347.1 129.1L347.1 130.8L347.1 132.6L347.0 134.3L347.0 136.0L346.9 137.8L346.8 139.5L346.8 141.2L346.7 143.0L346.7 144.7L346.6 146.4L346.6 148.2L346.5 149.9L346.5 151.6L346.4 153.4L346.4 155.1L346.3 156.9L346.2 158.6L346.2 160.3L346.1 162.1L346.1 163.8L346.0 165.5L345.9 167.3L345.8 169.0L345.8 170.7L345.7 172.5L345.6 174.2L345.5 175.9L345.4 177.7L345.3 179.4L345.2 181.1L345.1 182.9L345.1 184.6L345.0 186.3L344.9 188.1L344.8 189.8L344.6 191.5L344.5 193.3L344.4 195.0L344.3 196.7L344.2 198.5L344.1 200.2L343.9 201.9L343.7 203.7L343.5 205.4L343.3 207.1L343.1 208.8L342.8 210.5L342.5 212.3L342.2 214.0L341.9 215.7L341.7 217.4L341.4 219.1L341.1 220.8L340.8 222.5L340.5 224.3L340.2 226.0L339.9 227.7L339.6 229.4L339.3 231.1L338.9 232.8L338.6 234.5L338.2 236.2L337.8 237.9L337.4 239.6L337.0 241.3L336.6 242.9L336.2 244.6L335.8 246.3L335.4 248.0L335.0 249.7L334.5 251.4L334.0 253.1L333.5 254.7L333.0 256.4L332.4 258.0L331.8 259.6L331.2 261.2L330.6 262.9L329.9 264.5L329.3 266.1L328.6 267.7L327.8 269.3L327.1 270.8L326.3 272.4L325.5 273.9L324.7 275.4L323.8 277.0L323.0 278.5L322.1 280.0L321.2 281.5L320.3 282.9L319.4 284.4L318.4 285.9L317.4 287.3L316.5 288.7L315.5 290.2L314.5 291.6L313.4 293.0L312.4 294.4L311.4 295.8L310.3 297.2L309.3 298.5L308.2 299.9L307.1 301.3L306.0 302.6L304.9 304.0L303.8 305.3L302.7 306.6L301.6 307.9L300.4 309.3L299.3 310.5L298.1 311.8L296.9 313.1L295.7 314.3L294.4 315.5L293.2 316.7L291.9 317.9L290.6 319.1L289.3 320.2L288.0 321.3L286.6 322.4L285.3 323.5L283.9 324.6L282.5 325.6L281.1 326.7L279.7 327.7L278.3 328.7L276.9 329.7L275.5 330.7L274.0 331.7L272.6 332.6L271.1 333.6L269.6 334.5L268.1 335.4L266.6 336.3L265.1 337.1L263.6 337.9L262.0 338.6L260.4 339.3L258.8 340.0L257.2 340.7L255.6 341.3L254.0 342.0L252.3 342.5L250.7 343.0L249.0 343.4L247.3 343.8L245.6 344.1L243.9 344.5L242.2 344.9L240.5 345.3L238.8 345.7L237.1 346.1L235.4 346.5L233.7 346.9L232.0 347.3L230.3 347.6L228.6 348.0L226.9 348.3L225.2 348.6L223.5 348.9L221.8 349.2L220.1 349.5L218.4 349.8L216.7 350.1L215.0 350.3L213.2 350.6L211.5 350.8L209.8 351.0L208.1 351.2L206.3 351.3L204.6 351.5L202.9 351.6L201.1 351.7L199.4 351.8L197.7 351.9L195.9 352.0L194.2 352.1L192.5 352.1L190.7 352.2L189.0 352.2L187.3 352.3L185.5 352.3L183.8 352.4L182.0 352.4L180.3 352.4L178.6 352.4L176.8 352.4L175.1 352.4L173.4 352.4L171.6 352.4L169.9 352.3L168.2 352.3L166.4 352.3L164.7 352.3L162.9 352.2L161.2 352.2L159.5 352.2L157.7 352.2L156.0 352.1L154.3 352.1L152.5 352.1L150.8 352.0L149.1 352.0L147.3 351.9L145.6 351.8L143.9 351.8L142.1 351.7L140.4 351.6L138.7 351.5L136.9 351.3L135.2 351.2L133.5 351.1L131.7 351.0L130.0 350.9L128.3 350.8L126.5 350.7L124.8 350.6L123.0 350.6L121.3 350.5L119.6 350.4L117.8 350.4L116.1 350.3L114.4 350.3L112.6 350.3L110.9 350.2L109.2 350.2L107.4 350.1L105.7 350.1L104.0 350.0L102.2 350.0L100.5 349.9L98.7 349.9L97.0 349.9L95.3 349.8L93.5 349.8L91.8 349.7L90.1 349.7L88.3 349.6L86.6 349.6L84.9 349.5L83.1 349.5L81.4 349.4L79.7 349.4L77.9 349.3L76.2 349.3L74.4 349.2L72.7 349.2L71.0 349.1L69.2 349.1L67.5 349.0 Z" fill="rgba(0,0,255,0.10)" stroke="none" clip-path="url(#cf)"/>
<path d="M349.9 11.0L349.9 12.5L349.9 14.0L349.9 15.5L349.9 17.0L349.9 18.5L349.9 20.0L349.9 21.5L349.9 23.0L349.9 24.5L349.9 26.0L350.0 27.5L350.0 29.0L350.0 30.5L350.0 31.9L350.0 33.4L350.0 34.9L350.0 36.4L350.1 37.9L350.1 39.4L350.1 40.9L350.1 42.4L350.1 43.9L350.1 45.4L350.2 46.9L350.2 48.4L350.2 49.9L350.2 51.4L350.3 52.9L350.3 54.4L350.4 55.9L350.4 57.4L350.5 58.9L350.6 60.4L350.6 61.9L350.7 63.3L350.8 64.8L350.9 66.3L351.0 67.8L351.1 69.3L351.2 70.8L351.3 72.3L351.4 73.8L351.5 75.3L351.6 76.8L351.7 78.3L351.9 79.8L352.0 81.3L352.1 82.8L352.3 84.3L352.5 85.8L352.7 87.2L352.9 88.7L353.1 90.2L353.5 91.6L353.9 93.1L354.5 94.5L355.1 95.8L355.8 97.1L356.7 98.4L357.7 99.5L358.8 100.4L360.2 101.2L361.6 101.8L363.0 102.0L364.5 101.8L366.0 101.5L367.4 101.1L368.9 100.7L370.3 100.2L371.6 99.6L372.9 98.9L374.2 98.1L375.5 97.3L376.7 96.4L378.0 95.6L379.3 94.8L380.6 94.1L382.0 93.4L383.3 92.7L384.6 92.0L386.0 91.4L387.3 90.8L388.7 90.2L390.1 89.6L391.5 89.1L392.9 88.6L394.3 88.1L395.7 87.7L397.2 87.3L398.7 87.0L400.1 86.7L401.6 86.4L403.1 86.0L404.5 85.7L406.0 85.4L407.5 85.4L409.0 85.6L410.5 85.9L411.9 86.2L413.3 86.6L414.7 87.2L416.0 87.9L417.4 88.6L418.7 89.4L420.0 90.1L421.3 90.9L422.5 91.7L423.8 92.5L425.0 93.4L426.2 94.3L427.4 95.1L428.6 96.0L429.8 96.9L431.0 97.8L432.2 98.8L433.3 99.7L434.4 100.7L435.5 101.8L436.5 102.8L437.6 103.9L438.6 105.0L439.6 106.1L440.7 107.2L441.7 108.2L442.8 109.3L443.9 110.3L444.9 111.4L446.0 112.5L447.0 113.5L448.1 114.6L449.1 115.7L450.1 116.8L451.1 117.9L452.1 119.0L453.1 120.1L454.1 121.2L455.1 122.3L456.1 123.5L457.1 124.6L458.0 125.8L459.0 126.9L459.9 128.1L460.9 129.2L461.8 130.4L462.7 131.6L463.7 132.8L464.6 133.9L465.5 135.1L466.4 136.3L467.4 137.5L468.3 138.6L469.2 139.8L470.2 141.0L471.1 142.1L472.1 143.3L473.0 144.4L474.0 145.5L475.0 146.6L476.1 147.8L477.1 148.9L478.1 150.0L479.1 151.1L480.1 152.2L481.0 153.4L482.0 154.5L482.9 155.7L483.8 156.9L484.7 158.1L485.5 159.3L486.3 160.5L487.1 161.8L487.9 163.1L488.7 164.3L489.4 165.6L490.2 166.9L490.9 168.2L491.6 169.5L492.4 170.9L493.1 172.2L493.8 173.5L494.6 174.8L495.3 176.1L496.1 177.4L496.8 178.7L497.6 180.0L498.4 181.3L499.1 182.5L499.9 183.8L500.7 185.1L501.5 186.4L502.3 187.6L503.1 188.9L503.8 190.2L504.6 191.5L505.4 192.7L506.2 194.0L507.0 195.3L507.7 196.6L508.5 197.8L509.3 199.1L510.0 200.4L510.8 201.7L511.5 203.0L512.3 204.3L513.0 205.6L513.8 206.9L514.5 208.2L515.2 209.5L515.9 210.8L516.7 212.1L517.4 213.4L518.2 214.7L518.9 216.0L519.7 217.3L520.4 218.6L521.2 219.9L522.0 221.1L522.8 222.4L523.6 223.7L524.4 224.9L525.2 226.2L526.0 227.4L526.8 228.7L527.7 229.9L528.5 231.2L529.3 232.4L530.2 233.7L531.0 234.9L531.8 236.2L532.7 237.4L533.5 238.6L534.4 239.9L535.3 241.1L536.1 242.3L537.0 243.5L537.8 244.8L538.7 246.0L539.6 247.2L540.4 248.4L541.3 249.6L542.2 250.8L543.1 252.0L544.0 253.2L544.9 254.4L545.8 255.6L546.7 256.8L547.6 258.0L548.5 259.2L549.4 260.4L550.3 261.5L551.3 262.7L552.2 263.9L553.1 265.1L554.0 266.2L555.0 267.4L555.9 268.6L556.8 269.8L557.7 271.0L558.7 272.1L559.6 273.3L560.5 274.5L561.4 275.7L562.3 276.9L563.2 278.1L564.2 279.2L565.2 280.4L566.2 281.5L567.2 282.6L568.2 283.6L569.2 284.7L570.3 285.8L571.3 286.8L572.4 287.9L573.5 288.9L574.6 289.9L575.7 291.0L576.8 292.0L577.9 293.0L579.0 294.0L580.2 294.9L581.3 295.9L582.5 296.9L583.6 297.8L584.8 298.7L586.0 299.7L587.1 300.6L588.3 301.5L589.5 302.5L590.6 303.4L591.8 304.3L593.0 305.3L594.2 306.2L595.3 307.1L596.5 308.0L597.7 309.0L598.9 309.9L600.1 310.8L601.3 311.7L602.4 312.6L603.6 313.5L604.8 314.4L606.1 315.3L607.3 316.1L608.5 316.9L609.8 317.8L611.0 318.6L612.3 319.4L613.6 320.1L614.9 320.9L616.2 321.6L617.5 322.3L618.8 323.0L620.2 323.7L621.5 324.4L622.8 325.0L624.2 325.7L625.5 326.3L626.9 326.9L628.3 327.5L628.3 331.5L626.9 330.9L625.5 330.3L624.1 329.7L622.7 329.1L621.3 328.4L619.9 327.8L618.5 327.1L617.2 326.4L615.8 325.6L614.5 324.9L613.2 324.1L611.9 323.3L610.6 322.5L609.3 321.7L608.0 320.8L606.8 320.0L605.5 319.1L604.3 318.2L603.0 317.3L601.8 316.3L600.6 315.4L599.4 314.5L598.2 313.5L597.0 312.6L595.7 311.7L594.5 310.7L593.3 309.8L592.1 308.9L590.9 307.9L589.7 307.0L588.5 306.0L587.3 305.1L586.1 304.1L584.9 303.1L583.7 302.2L582.6 301.2L581.4 300.2L580.2 299.2L579.1 298.2L577.9 297.2L576.8 296.2L575.6 295.2L574.4 294.2L573.3 293.1L572.1 292.1L571.0 291.1L569.9 290.0L568.7 289.0L567.6 287.9L566.5 286.9L565.5 285.8L564.4 284.7L563.4 283.6L562.4 282.4L561.4 281.3L560.4 280.1L559.5 278.9L558.6 277.6L557.7 276.4L556.8 275.1L556.0 273.9L555.1 272.6L554.2 271.4L553.3 270.1L552.4 268.9L551.4 267.7L550.5 266.5L549.6 265.3L548.6 264.1L547.7 262.9L546.7 261.7L545.8 260.5L544.8 259.3L543.9 258.1L542.9 256.9L542.0 255.7L541.0 254.4L540.1 253.2L539.2 252.0L538.2 250.8L537.3 249.6L536.4 248.4L535.4 247.2L534.5 245.9L533.6 244.7L532.7 243.5L531.7 242.3L530.8 241.1L529.9 239.8L529.0 238.6L528.0 237.4L527.1 236.2L526.2 234.9L525.3 233.7L524.4 232.5L523.5 231.2L522.6 230.0L521.7 228.8L520.8 227.5L519.9 226.3L519.0 225.0L518.2 223.8L517.3 222.5L516.4 221.2L515.6 220.0L514.7 218.7L513.9 217.4L513.1 216.1L512.3 214.8L511.5 213.5L510.7 212.2L509.9 210.9L509.1 209.6L508.3 208.3L507.5 207.0L506.7 205.6L505.9 204.3L505.2 203.0L504.4 201.7L503.6 200.4L502.7 199.1L501.9 197.8L501.1 196.5L500.3 195.2L499.5 193.9L498.7 192.6L497.8 191.3L497.0 190.0L496.2 188.8L495.4 187.5L494.6 186.2L493.7 184.9L492.9 183.6L492.1 182.3L491.3 181.0L490.4 179.7L489.6 178.4L488.8 177.2L487.9 175.9L487.1 174.6L486.3 173.3L485.4 172.0L484.6 170.8L483.7 169.5L482.9 168.2L482.0 166.9L481.2 165.6L480.4 164.4L479.5 163.1L478.7 161.8L477.8 160.5L477.0 159.3L476.1 158.0L475.3 156.7L474.4 155.4L473.6 154.2L472.8 152.9L471.9 151.6L471.1 150.3L470.2 149.1L469.4 147.8L468.5 146.5L467.7 145.2L466.8 144.0L466.0 142.7L465.1 141.4L464.3 140.1L463.4 138.9L462.5 137.6L461.7 136.4L460.8 135.1L459.9 133.9L459.0 132.6L458.1 131.4L457.2 130.2L456.3 128.9L455.3 127.7L454.4 126.5L453.4 125.3L452.4 124.1L451.5 123.0L450.5 121.8L449.4 120.7L448.4 119.5L447.4 118.4L446.3 117.3L445.2 116.2L444.1 115.1L443.0 114.1L441.9 113.0L440.8 112.0L439.6 111.0L438.5 110.0L437.3 109.0L436.1 108.0L434.9 107.1L433.7 106.1L432.5 105.2L431.3 104.3L430.1 103.3L428.8 102.4L427.5 101.6L426.2 100.8L424.9 100.2L423.5 99.6L422.0 99.0L420.5 98.5L419.1 98.1L417.6 97.8L416.1 97.5L414.6 97.2L413.0 97.0L411.5 97.0L410.0 97.0L408.4 97.1L406.9 97.2L405.4 97.3L403.9 97.5L402.4 97.8L400.9 98.2L399.4 98.6L397.9 99.0L396.5 99.6L395.1 100.2L393.7 100.8L392.3 101.3L390.9 102.0L389.4 102.6L388.1 103.2L386.7 103.9L385.3 104.6L384.0 105.3L382.7 106.1L381.3 106.8L380.0 107.6L378.7 108.4L377.4 109.2L376.0 109.9L374.7 110.7L373.4 111.5L372.0 112.2L370.6 112.8L369.2 113.4L367.8 114.0L366.3 114.5L364.8 115.0L363.3 115.3L361.8 115.4L360.3 115.1L358.8 114.5L357.7 113.8L356.6 112.7L355.7 111.3L354.9 109.9L354.3 108.5L353.7 107.1L353.2 105.7L352.8 104.2L352.4 102.7L352.0 101.2L351.7 99.7L351.4 98.2L351.1 96.7L350.9 95.2L350.6 93.6L350.4 92.1L350.3 90.6L350.3 89.1L350.2 87.5L350.2 86.0L350.1 84.5L350.1 83.0L350.1 81.4L350.0 79.9L350.0 78.4L350.0 76.9L350.0 75.3L349.9 73.8L349.9 72.3L349.9 70.7L349.9 69.2L349.9 67.7L349.8 66.1L349.8 64.6L349.8 63.1L349.8 61.5L349.8 60.0L349.8 58.5L349.8 56.9L349.8 55.4L349.7 53.9L349.7 52.3L349.7 50.8L349.7 49.3L349.7 47.7L349.7 46.2L349.6 44.7L349.6 43.1L349.6 41.6L349.6 40.1L349.6 38.6L349.6 37.0L349.6 35.5L349.5 34.0L349.5 32.4L349.5 30.9L349.5 29.4L349.5 27.8L349.5 26.3L349.5 24.8L349.5 23.2L349.5 21.7L349.4 20.2L349.4 18.7L349.4 17.1L349.4 15.6L349.4 14.1L349.4 12.5L349.4 11.0 Z" fill="rgba(0,0,255,0.10)" stroke="none" clip-path="url(#cf)"/>
<path d="M67.5 326.1L68.8 327.7L70.0 329.0L71.3 330.2L72.5 331.3L73.8 332.0L75.0 332.5L76.3 332.8L77.5 333.0L78.8 333.2L80.0 333.4L81.3 333.5L82.6 333.7L83.8 333.8L85.1 333.9L86.3 334.0L87.6 334.0L88.8 334.1L90.1 334.2L91.3 334.2L92.6 334.3L93.8 334.3L95.1 334.4L96.3 334.4L97.6 334.5L98.9 334.5L100.1 334.5L101.4 334.6L102.6 334.6L103.9 334.6L105.1 334.7L106.4 334.7L107.6 334.7L108.9 334.7L110.1 334.8L111.4 334.8L112.7 334.8L113.9 334.8L115.2 334.9L116.4 334.9L117.7 334.9L118.9 334.9L120.2 334.9L121.4 335.0L122.7 335.0L123.9 335.0L125.2 335.0L126.4 335.0L127.7 335.1L129.0 335.1L130.2 335.1L131.5 335.1L132.7 335.1L134.0 335.1L135.2 335.2L136.5 335.2L137.7 335.2L139.0 335.2L140.2 335.2L141.5 335.3L142.8 335.3L144.0 335.3L145.3 335.3L146.5 335.3L147.8 335.3L149.0 335.3L150.3 335.3L151.5 335.4L152.8 335.4L154.0 335.4L155.3 335.4L156.5 335.4L157.8 335.4L159.1 335.4L160.3 335.4L161.6 335.4L162.8 335.4L164.1 335.4L165.3 335.4L166.6 335.4L167.8 335.4L169.1 335.4L170.3 335.4L171.6 335.4L172.9 335.4L174.1 335.3L175.4 335.3L176.6 335.3L177.9 335.3L179.1 335.3L180.4 335.3L181.6 335.3L182.9 335.3L184.1 335.2L185.4 335.2L186.6 335.2L187.9 335.2L189.2 335.1L190.4 335.1L191.7 335.1L192.9 335.0L194.2 335.0L195.4 334.9L196.7 334.9L197.9 334.9L199.2 334.8L200.4 334.8L201.7 334.7L203.0 334.7L204.2 334.7L205.5 334.6L206.7 334.6L208.0 334.5L209.2 334.5L210.5 334.4L211.7 334.4L213.0 334.3L214.2 334.2L215.5 334.2L216.7 334.1L218.0 334.0L219.3 333.9L220.5 333.9L221.8 333.8L223.0 333.7L224.3 333.6L225.5 333.5L226.8 333.3L228.0 333.2L229.3 333.1L230.5 332.9L231.8 332.8L233.1 332.6L234.3 332.4L235.6 332.2L236.8 332.0L238.1 331.8L239.3 331.5L240.6 331.3L241.8 331.0L243.1 330.7L244.3 330.5L245.6 330.2L246.8 329.8L248.1 329.5L249.4 329.1L250.6 328.7L251.9 328.3L253.1 327.8L254.4 327.4L255.6 326.9L256.9 326.4L258.1 325.9L259.4 325.4L260.6 324.9L261.9 324.3L263.2 323.7L264.4 323.0L265.7 322.4L266.9 321.8L268.2 321.1L269.4 320.5L270.7 319.8L271.9 319.1L273.2 318.4L274.4 317.6L275.7 316.9L276.9 316.2L278.2 315.7L279.5 315.4L280.7 315.1L282.0 315.0L283.2 314.8L284.5 314.7L285.7 314.6L287.0 314.5L288.2 314.4L289.5 314.3L290.7 314.3L292.0 314.2L292.0 337.7L290.7 338.0L289.5 338.3L288.2 338.6L287.0 338.9L285.7 339.1L284.5 339.3L283.2 339.5L282.0 339.6L280.7 339.7L279.5 339.8L278.2 340.0L276.9 340.0L275.7 340.1L274.4 340.2L273.2 340.2L271.9 340.2L270.7 340.2L269.4 340.1L268.2 340.1L266.9 340.0L265.7 340.0L264.4 339.9L263.2 339.8L261.9 339.7L260.6 339.6L259.4 339.6L258.1 339.5L256.9 339.4L255.6 339.2L254.4 339.1L253.1 339.0L251.9 338.9L250.6 338.8L249.4 338.7L248.1 338.6L246.8 338.6L245.6 338.6L244.3 338.6L243.1 338.6L241.8 338.5L240.6 338.5L239.3 338.5L238.1 338.5L236.8 338.5L235.6 338.5L234.3 338.5L233.1 338.5L231.8 338.5L230.5 338.5L229.3 338.5L228.0 338.5L226.8 338.5L225.5 338.5L224.3 338.6L223.0 338.6L221.8 338.6L220.5 338.6L219.3 338.7L218.0 338.7L216.7 338.7L215.5 338.8L214.2 338.8L213.0 338.9L211.7 338.9L210.5 339.0L209.2 339.1L208.0 339.1L206.7 339.2L205.5 339.3L204.2 339.4L203.0 339.4L201.7 339.5L200.4 339.6L199.2 339.6L197.9 339.7L196.7 339.7L195.4 339.8L194.2 339.9L192.9 339.9L191.7 340.0L190.4 340.0L189.2 340.1L187.9 340.1L186.6 340.2L185.4 340.2L184.1 340.2L182.9 340.3L181.6 340.3L180.4 340.4L179.1 340.4L177.9 340.5L176.6 340.5L175.4 340.6L174.1 340.6L172.9 340.6L171.6 340.7L170.3 340.7L169.1 340.8L167.8 340.8L166.6 340.8L165.3 340.9L164.1 340.9L162.8 341.0L161.6 341.0L160.3 341.1L159.1 341.1L157.8 341.2L156.5 341.2L155.3 341.3L154.0 341.3L152.8 341.4L151.5 341.4L150.3 341.5L149.0 341.5L147.8 341.6L146.5 341.7L145.3 341.7L144.0 341.8L142.8 341.8L141.5 341.9L140.2 341.9L139.0 342.0L137.7 342.0L136.5 342.1L135.2 342.1L134.0 342.1L132.7 342.2L131.5 342.2L130.2 342.2L129.0 342.3L127.7 342.3L126.4 342.3L125.2 342.3L123.9 342.3L122.7 342.3L121.4 342.3L120.2 342.3L118.9 342.3L117.7 342.3L116.4 342.3L115.2 342.3L113.9 342.3L112.7 342.3L111.4 342.3L110.1 342.3L108.9 342.3L107.6 342.3L106.4 342.3L105.1 342.3L103.9 342.3L102.6 342.3L101.4 342.3L100.1 342.2L98.9 342.2L97.6 342.2L96.3 342.2L95.1 342.2L93.8 342.2L92.6 342.2L91.3 342.2L90.1 342.1L88.8 342.1L87.6 342.1L86.3 342.1L85.1 342.1L83.8 342.0L82.6 342.0L81.3 342.0L80.0 342.0L78.8 341.9L77.5 341.9L76.3 341.9L75.0 341.8L73.8 341.8L72.5 341.8L71.3 341.7L70.0 341.7L68.8 341.6L67.5 341.6 Z" fill="rgba(255,0,0,0.2)" stroke="none" clip-path="url(#cf)"/>
<path d="M404.0 58.9L404.9 59.3L405.9 59.8L406.8 60.2L407.8 60.6L408.7 61.1L409.6 61.6L410.6 62.1L411.5 62.7L412.4 63.2L413.4 63.8L414.3 64.4L415.3 65.1L416.2 65.7L417.1 66.4L418.1 67.2L419.0 68.0L420.0 68.8L420.9 69.6L421.8 70.4L422.8 71.2L423.7 72.1L424.6 72.9L425.6 73.8L426.5 74.7L427.5 75.6L428.4 76.6L429.3 77.5L430.3 78.5L431.2 79.5L432.2 80.5L433.1 81.5L434.0 82.6L435.0 83.6L435.9 84.7L436.8 85.8L437.8 87.0L438.7 88.1L439.7 89.3L440.6 90.5L441.5 91.6L442.5 92.8L443.4 94.0L444.4 95.2L445.3 96.4L446.2 97.6L447.2 98.8L448.1 100.0L449.0 101.3L450.0 102.5L450.9 103.7L451.9 105.0L452.8 106.2L453.7 107.4L454.7 108.6L455.6 109.8L456.6 111.0L457.5 112.2L458.4 113.4L459.4 114.6L460.3 115.9L461.2 117.1L462.2 118.3L463.1 119.6L464.1 120.8L465.0 122.0L465.9 123.2L466.9 124.5L467.8 125.8L468.8 127.1L469.7 128.4L470.6 129.8L471.6 131.2L472.5 132.7L473.4 134.1L474.4 135.6L475.3 137.2L476.3 138.7L477.2 140.3L478.1 141.9L479.1 143.4L480.0 145.1L481.0 146.7L481.9 148.3L482.8 149.9L483.8 151.5L484.7 153.1L485.6 154.7L486.6 156.3L487.5 157.9L488.5 159.5L489.4 161.1L490.3 162.7L491.3 164.3L492.2 165.8L493.2 167.4L494.1 169.0L495.0 170.6L496.0 172.2L496.9 173.8L497.8 175.4L498.8 177.0L499.7 178.5L500.7 180.1L501.6 181.7L502.5 183.2L503.5 184.7L504.4 186.3L505.4 187.8L506.3 189.3L507.2 190.9L508.2 192.4L509.1 193.9L510.0 195.5L511.0 197.0L511.9 198.5L512.9 200.1L513.8 201.7L514.7 203.3L515.7 204.9L516.6 206.5L517.6 208.2L518.5 209.8L519.4 211.4L520.4 213.0L521.3 214.6L522.3 216.1L523.2 217.7L524.1 219.1L525.1 220.6L526.0 222.0L526.9 223.4L527.9 224.8L528.8 226.1L529.8 227.5L530.7 228.9L531.6 230.3L532.6 231.7L533.5 233.1L534.5 234.5L535.4 235.9L536.3 237.4L537.3 238.8L538.2 240.3L539.1 241.7L540.1 243.1L541.0 244.5L542.0 246.0L542.9 247.4L543.8 248.7L544.8 250.1L545.7 251.5L546.7 252.8L547.6 254.1L548.5 255.4L549.5 256.7L550.4 258.0L551.3 259.3L552.3 260.6L553.2 261.9L554.2 263.2L555.1 264.5L556.0 265.9L557.0 267.2L557.9 268.6L558.9 269.9L559.8 271.3L560.7 272.6L561.7 274.0L562.6 275.3L563.5 276.5L564.5 277.7L565.4 278.9L566.4 280.0L567.3 281.0L568.2 282.1L569.2 283.0L570.1 284.0L571.1 285.0L572.0 285.9L572.9 286.8L573.9 287.7L574.8 288.6L575.7 289.5L576.7 290.4L577.6 291.3L578.6 292.2L579.5 293.1L580.4 294.0L581.4 295.0L582.3 295.9L583.3 296.9L584.2 297.8L585.1 298.8L586.1 299.7L587.0 300.6L587.9 301.6L588.9 302.5L589.8 303.5L590.8 304.4L591.7 305.3L592.6 306.2L593.6 307.1L594.5 307.9L595.5 308.8L596.4 309.6L597.3 310.4L598.3 311.2L599.2 312.0L600.1 312.8L601.1 313.5L602.0 314.3L603.0 315.0L603.9 315.7L604.8 316.4L605.8 317.1L606.7 317.7L607.7 318.4L608.6 319.0L609.5 319.6L610.5 320.2L611.4 320.8L612.3 321.4L613.3 321.9L614.2 322.5L615.2 323.0L616.1 323.6L617.0 324.1L618.0 324.6L618.9 325.1L619.9 325.6L620.8 326.0L621.7 326.5L622.7 327.0L623.6 327.4L624.5 327.8L625.5 328.3L626.4 328.7L627.4 329.1L628.3 329.5L628.3 336.0L627.4 335.7L626.4 335.3L625.5 335.0L624.5 334.6L623.6 334.3L622.7 333.9L621.7 333.5L620.8 333.2L619.9 332.8L618.9 332.4L618.0 332.0L617.0 331.6L616.1 331.2L615.2 330.7L614.2 330.3L613.3 329.8L612.3 329.4L611.4 328.9L610.5 328.5L609.5 328.0L608.6 327.5L607.7 327.0L606.7 326.5L605.8 326.0L604.8 325.5L603.9 325.0L603.0 324.5L602.0 324.0L601.1 323.5L600.1 323.0L599.2 322.4L598.3 321.9L597.3 321.3L596.4 320.7L595.5 320.1L594.5 319.5L593.6 318.9L592.6 318.2L591.7 317.5L590.8 316.9L589.8 316.1L588.9 315.4L587.9 314.7L587.0 313.9L586.1 313.2L585.1 312.4L584.2 311.6L583.3 310.9L582.3 310.1L581.4 309.3L580.4 308.5L579.5 307.7L578.6 306.8L577.6 306.0L576.7 305.2L575.7 304.3L574.8 303.5L573.9 302.6L572.9 301.7L572.0 300.8L571.1 300.0L570.1 299.1L569.2 298.1L568.2 297.2L567.3 296.3L566.4 295.4L565.4 294.4L564.5 293.4L563.5 292.5L562.6 291.5L561.7 290.5L560.7 289.6L559.8 288.6L558.9 287.6L557.9 286.6L557.0 285.7L556.0 284.7L555.1 283.8L554.2 282.8L553.2 281.8L552.3 280.9L551.3 279.9L550.4 278.9L549.5 277.9L548.5 276.9L547.6 275.9L546.7 274.9L545.7 273.8L544.8 272.7L543.8 271.6L542.9 270.5L542.0 269.3L541.0 268.1L540.1 266.8L539.1 265.5L538.2 264.2L537.3 262.8L536.3 261.4L535.4 260.1L534.5 258.7L533.5 257.4L532.6 256.1L531.6 254.8L530.7 253.5L529.8 252.1L528.8 250.8L527.9 249.5L526.9 248.2L526.0 246.9L525.1 245.5L524.1 244.2L523.2 242.8L522.3 241.4L521.3 240.1L520.4 238.7L519.4 237.2L518.5 235.8L517.6 234.3L516.6 232.8L515.7 231.3L514.7 229.8L513.8 228.3L512.9 226.8L511.9 225.3L511.0 223.8L510.0 222.4L509.1 220.9L508.2 219.5L507.2 218.0L506.3 216.6L505.4 215.1L504.4 213.6L503.5 212.0L502.5 210.5L501.6 208.9L500.7 207.4L499.7 205.8L498.8 204.2L497.8 202.7L496.9 201.2L496.0 199.6L495.0 198.1L494.1 196.7L493.2 195.2L492.2 193.7L491.3 192.2L490.3 190.8L489.4 189.3L488.5 187.8L487.5 186.3L486.6 184.8L485.6 183.2L484.7 181.7L483.8 180.1L482.8 178.5L481.9 176.9L481.0 175.3L480.0 173.8L479.1 172.2L478.1 170.6L477.2 169.1L476.3 167.5L475.3 166.0L474.4 164.5L473.4 163.0L472.5 161.6L471.6 160.1L470.6 158.6L469.7 157.2L468.8 155.7L467.8 154.3L466.9 152.9L465.9 151.5L465.0 150.1L464.1 148.7L463.1 147.4L462.2 146.0L461.2 144.7L460.3 143.4L459.4 142.2L458.4 140.9L457.5 139.6L456.6 138.4L455.6 137.1L454.7 135.9L453.7 134.6L452.8 133.4L451.9 132.1L450.9 130.9L450.0 129.6L449.0 128.3L448.1 127.0L447.2 125.7L446.2 124.4L445.3 123.1L444.4 121.8L443.4 120.5L442.5 119.3L441.5 118.1L440.6 116.9L439.7 115.7L438.7 114.4L437.8 113.3L436.8 112.1L435.9 111.0L435.0 110.0L434.0 108.9L433.1 108.0L432.2 107.1L431.2 106.2L430.3 105.3L429.3 104.5L428.4 103.7L427.5 102.9L426.5 102.2L425.6 101.5L424.6 100.9L423.7 100.4L422.8 99.9L421.8 99.4L420.9 98.9L420.0 98.5L419.0 98.1L418.1 97.7L417.1 97.4L416.2 97.0L415.3 96.7L414.3 96.5L413.4 96.3L412.4 96.0L411.5 95.9L410.6 95.7L409.6 95.6L408.7 94.5L407.8 92.6L406.8 90.6L405.9 88.9L404.9 87.3L404.0 85.6 Z" fill="rgba(255,0,0,0.2)" stroke="none" clip-path="url(#cf)"/>
<path d="M67.5 326.1L68.8 327.7L70.0 329.0L71.3 330.2L72.5 331.3L73.8 332.0L75.0 332.5L76.3 332.8L77.5 333.0L78.8 333.2L80.0 333.4L81.3 333.5L82.6 333.7L83.8 333.8L85.1 333.9L86.3 334.0L87.6 334.0L88.8 334.1L90.1 334.2L91.3 334.2L92.6 334.3L93.8 334.3L95.1 334.4L96.3 334.4L97.6 334.5L98.9 334.5L100.1 334.5L101.4 334.6L102.6 334.6L103.9 334.6L105.1 334.7L106.4 334.7L107.6 334.7L108.9 334.7L110.1 334.8L111.4 334.8L112.7 334.8L113.9 334.8L115.2 334.9L116.4 334.9L117.7 334.9L118.9 334.9L120.2 334.9L121.4 335.0L122.7 335.0L123.9 335.0L125.2 335.0L126.4 335.0L127.7 335.1L129.0 335.1L130.2 335.1L131.5 335.1L132.7 335.1L134.0 335.1L135.2 335.2L136.5 335.2L137.7 335.2L139.0 335.2L140.2 335.2L141.5 335.3L142.8 335.3L144.0 335.3L145.3 335.3L146.5 335.3L147.8 335.3L149.0 335.3L150.3 335.3L151.5 335.4L152.8 335.4L154.0 335.4L155.3 335.4L156.5 335.4L157.8 335.4L159.1 335.4L160.3 335.4L161.6 335.4L162.8 335.4L164.1 335.4L165.3 335.4L166.6 335.4L167.8 335.4L169.1 335.4L170.3 335.4L171.6 335.4L172.9 335.4L174.1 335.3L175.4 335.3L176.6 335.3L177.9 335.3L179.1 335.3L180.4 335.3L181.6 335.3L182.9 335.3L184.1 335.2L185.4 335.2L186.6 335.2L187.9 335.2L189.2 335.1L190.4 335.1L191.7 335.1L192.9 335.0L194.2 335.0L195.4 334.9L196.7 334.9L197.9 334.9L199.2 334.8L200.4 334.8L201.7 334.7L203.0 334.7L204.2 334.7L205.5 334.6L206.7 334.6L208.0 334.5L209.2 334.5L210.5 334.4L211.7 334.4L213.0 334.3L214.2 334.2L215.5 334.2L216.7 334.1L218.0 334.0L219.3 333.9L220.5 333.9L221.8 333.8L223.0 333.7L224.3 333.6L225.5 333.5L226.8 333.3L228.0 333.2L229.3 333.1L230.5 332.9L231.8 332.8L233.1 332.6L234.3 332.4L235.6 332.2L236.8 332.0L238.1 331.8L239.3 331.5L240.6 331.3L241.8 331.0L243.1 330.7L244.3 330.5L245.6 330.2L246.8 329.8L248.1 329.5L249.4 329.1L250.6 328.7L251.9 328.3L253.1 327.8L254.4 327.4L255.6 326.9L256.9 326.4L258.1 325.9L259.4 325.4L260.6 324.9L261.9 324.3L263.2 323.7L264.4 323.0L265.7 322.4L266.9 321.8L268.2 321.1L269.4 320.5L270.7 319.8L271.9 319.1L273.2 318.4L274.4 317.6L275.7 316.9L276.9 316.2L278.2 315.7L279.5 315.4L280.7 315.1L282.0 315.0L283.2 314.8L284.5 314.7L285.7 314.6L287.0 314.5L288.2 314.4L289.5 314.3L290.7 314.3L292.0 314.2" stroke="#ff0000" stroke-width="1.20"/>
<path d="M67.5 341.6L68.8 341.6L70.0 341.7L71.3 341.7L72.5 341.8L73.8 341.8L75.0 341.8L76.3 341.9L77.5 341.9L78.8 341.9L80.0 342.0L81.3 342.0L82.6 342.0L83.8 342.0L85.1 342.1L86.3 342.1L87.6 342.1L88.8 342.1L90.1 342.1L91.3 342.2L92.6 342.2L93.8 342.2L95.1 342.2L96.3 342.2L97.6 342.2L98.9 342.2L100.1 342.2L101.4 342.3L102.6 342.3L103.9 342.3L105.1 342.3L106.4 342.3L107.6 342.3L108.9 342.3L110.1 342.3L111.4 342.3L112.7 342.3L113.9 342.3L115.2 342.3L116.4 342.3L117.7 342.3L118.9 342.3L120.2 342.3L121.4 342.3L122.7 342.3L123.9 342.3L125.2 342.3L126.4 342.3L127.7 342.3L129.0 342.3L130.2 342.2L131.5 342.2L132.7 342.2L134.0 342.1L135.2 342.1L136.5 342.1L137.7 342.0L139.0 342.0L140.2 341.9L141.5 341.9L142.8 341.8L144.0 341.8L145.3 341.7L146.5 341.7L147.8 341.6L149.0 341.5L150.3 341.5L151.5 341.4L152.8 341.4L154.0 341.3L155.3 341.3L156.5 341.2L157.8 341.2L159.1 341.1L160.3 341.1L161.6 341.0L162.8 341.0L164.1 340.9L165.3 340.9L166.6 340.8L167.8 340.8L169.1 340.8L170.3 340.7L171.6 340.7L172.9 340.6L174.1 340.6L175.4 340.6L176.6 340.5L177.9 340.5L179.1 340.4L180.4 340.4L181.6 340.3L182.9 340.3L184.1 340.2L185.4 340.2L186.6 340.2L187.9 340.1L189.2 340.1L190.4 340.0L191.7 340.0L192.9 339.9L194.2 339.9L195.4 339.8L196.7 339.7L197.9 339.7L199.2 339.6L200.4 339.6L201.7 339.5L203.0 339.4L204.2 339.4L205.5 339.3L206.7 339.2L208.0 339.1L209.2 339.1L210.5 339.0L211.7 338.9L213.0 338.9L214.2 338.8L215.5 338.8L216.7 338.7L218.0 338.7L219.3 338.7L220.5 338.6L221.8 338.6L223.0 338.6L224.3 338.6L225.5 338.5L226.8 338.5L228.0 338.5L229.3 338.5L230.5 338.5L231.8 338.5L233.1 338.5L234.3 338.5L235.6 338.5L236.8 338.5L238.1 338.5L239.3 338.5L240.6 338.5L241.8 338.5L243.1 338.6L244.3 338.6L245.6 338.6L246.8 338.6L248.1 338.6L249.4 338.7L250.6 338.8L251.9 338.9L253.1 339.0L254.4 339.1L255.6 339.2L256.9 339.4L258.1 339.5L259.4 339.6L260.6 339.6L261.9 339.7L263.2 339.8L264.4 339.9L265.7 340.0L266.9 340.0L268.2 340.1L269.4 340.1L270.7 340.2L271.9 340.2L273.2 340.2L274.4 340.2L275.7 340.1L276.9 340.0L278.2 340.0L279.5 339.8L280.7 339.7L282.0 339.6L283.2 339.5L284.5 339.3L285.7 339.1L287.0 338.9L288.2 338.6L289.5 338.3L290.7 338.0L292.0 337.7" stroke="#ff0000" stroke-width="1.20"/>
<path d="M67.5 335.9L68.8 336.2L70.0 336.5L71.3 336.7L72.5 337.0L73.8 337.2L75.0 337.2L76.3 337.2L77.5 337.3L78.8 337.4L80.0 337.4L81.3 337.5L82.6 337.5L83.8 337.5L85.1 337.5L86.3 337.5L87.6 337.6L88.8 337.6L90.1 337.6L91.3 337.5L92.6 337.5L93.8 337.5L95.1 337.6L96.3 337.6L97.6 337.6L98.9 337.6L100.1 337.6L101.4 337.7L102.6 337.7L103.9 337.7L105.1 337.7L106.4 337.7L107.6 337.7L108.9 337.7L110.1 337.7L111.4 337.8L112.7 337.8L113.9 337.8L115.2 337.8L116.4 337.8L117.7 337.8L118.9 337.8L120.2 337.8L121.4 337.8L122.7 337.8L123.9 337.8L125.2 337.8L126.4 337.8L127.7 337.8L129.0 337.8L130.2 337.8L131.5 337.8L132.7 337.7L134.0 337.7L135.2 337.7L136.5 337.7L137.7 337.6L139.0 337.6L140.2 337.6L141.5 337.5L142.8 337.5L144.0 337.5L145.3 337.4L146.5 337.4L147.8 337.4L149.0 337.3L150.3 337.3L151.5 337.3L152.8 337.2L154.0 337.2L155.3 337.2L156.5 337.1L157.8 337.1L159.1 337.1L160.3 337.0L161.6 337.0L162.8 337.0L164.1 336.9L165.3 336.9L166.6 336.9L167.8 336.8L169.1 336.8L170.3 336.8L171.6 336.7L172.9 336.7L174.1 336.7L175.4 336.7L176.6 336.7L177.9 336.7L179.1 336.6L180.4 336.6L181.6 336.6L182.9 336.6L184.1 336.5L185.4 336.5L186.6 336.5L187.9 336.4L189.2 336.4L190.4 336.3L191.7 336.3L192.9 336.3L194.2 336.2L195.4 336.2L196.7 336.1L197.9 336.1L199.2 336.0L200.4 336.0L201.7 336.0L203.0 335.9L204.2 335.9L205.5 335.8L206.7 335.7L208.0 335.7L209.2 335.6L210.5 335.6L211.7 335.5L213.0 335.4L214.2 335.4L215.5 335.3L216.7 335.3L218.0 335.2L219.3 335.1L220.5 335.1L221.8 335.0L223.0 334.9L224.3 334.8L225.5 334.8L226.8 334.7L228.0 334.6L229.3 334.5L230.5 334.4L231.8 334.3L233.1 334.1L234.3 334.0L235.6 333.9L236.8 333.7L238.1 333.6L239.3 333.4L240.6 333.2L241.8 333.0L243.1 332.8L244.3 332.6L245.6 332.4L246.8 332.2L248.1 332.0L249.4 331.7L250.6 331.4L251.9 331.2L253.1 330.9L254.4 330.6L255.6 330.3L256.9 330.0L258.1 329.7L259.4 329.3L260.6 329.0L261.9 328.6L263.2 328.2L264.4 327.7L265.7 327.1L266.9 326.4L268.2 325.8L269.4 325.1L270.7 324.4L271.9 323.7L273.2 322.8L274.4 322.0L275.7 321.1L276.9 320.4L278.2 319.7L279.5 319.1L280.7 318.7L282.0 318.3L283.2 317.9L284.5 317.5L285.7 317.1L287.0 316.8L288.2 316.4L289.5 316.1L290.7 315.7L292.0 315.4" stroke="#ff0000" stroke-width="1.20"/>
<path d="M67.5 336.3L68.8 336.6L70.0 336.9L71.3 337.1L72.5 337.4L73.8 337.6L75.0 337.6L76.3 337.6L77.5 337.7L78.8 337.7L80.0 337.8L81.3 337.8L82.6 337.8L83.8 337.8L85.1 337.9L86.3 337.9L87.6 337.9L88.8 337.9L90.1 337.9L91.3 337.9L92.6 337.9L93.8 337.9L95.1 337.9L96.3 337.9L97.6 337.9L98.9 338.0L100.1 338.0L101.4 338.0L102.6 338.0L103.9 338.0L105.1 338.1L106.4 338.1L107.6 338.1L108.9 338.1L110.1 338.1L111.4 338.1L112.7 338.1L113.9 338.2L115.2 338.2L116.4 338.2L117.7 338.2L118.9 338.2L120.2 338.2L121.4 338.2L122.7 338.2L123.9 338.2L125.2 338.2L126.4 338.2L127.7 338.2L129.0 338.2L130.2 338.2L131.5 338.2L132.7 338.2L134.0 338.2L135.2 338.2L136.5 338.2L137.7 338.2L139.0 338.2L140.2 338.1L141.5 338.1L142.8 338.1L144.0 338.1L145.3 338.1L146.5 338.0L147.8 338.0L149.0 338.0L150.3 338.0L151.5 338.0L152.8 337.9L154.0 337.9L155.3 337.9L156.5 337.9L157.8 337.8L159.1 337.8L160.3 337.8L161.6 337.8L162.8 337.8L164.1 337.7L165.3 337.7L166.6 337.7L167.8 337.7L169.1 337.6L170.3 337.6L171.6 337.6L172.9 337.6L174.1 337.6L175.4 337.5L176.6 337.5L177.9 337.5L179.1 337.5L180.4 337.4L181.6 337.4L182.9 337.4L184.1 337.3L185.4 337.3L186.6 337.3L187.9 337.2L189.2 337.2L190.4 337.2L191.7 337.1L192.9 337.1L194.2 337.0L195.4 337.0L196.7 336.9L197.9 336.9L199.2 336.8L200.4 336.8L201.7 336.7L203.0 336.7L204.2 336.6L205.5 336.6L206.7 336.5L208.0 336.5L209.2 336.4L210.5 336.3L211.7 336.3L213.0 336.2L214.2 336.2L215.5 336.1L216.7 336.1L218.0 336.0L219.3 335.9L220.5 335.9L221.8 335.8L223.0 335.7L224.3 335.7L225.5 335.6L226.8 335.5L228.0 335.4L229.3 335.3L230.5 335.3L231.8 335.2L233.1 335.1L234.3 335.0L235.6 334.8L236.8 334.7L238.1 334.6L239.3 334.4L240.6 334.3L241.8 334.1L243.1 334.0L244.3 333.8L245.6 333.6L246.8 333.5L248.1 333.3L249.4 333.1L250.6 332.9L251.9 332.7L253.1 332.4L254.4 332.2L255.6 332.0L256.9 331.8L258.1 331.5L259.4 331.2L260.6 330.9L261.9 330.6L263.2 330.3L264.4 329.9L265.7 329.3L266.9 328.7L268.2 328.1L269.4 327.4L270.7 326.7L271.9 326.0L273.2 325.2L274.4 324.3L275.7 323.5L276.9 322.7L278.2 322.0L279.5 321.4L280.7 320.8L282.0 320.4L283.2 319.9L284.5 319.5L285.7 319.0L287.0 318.6L288.2 318.1L289.5 317.7L290.7 317.2L292.0 316.8" stroke="#ff0000" stroke-width="1.20"/>
<path d="M67.5 336.8L68.8 337.1L70.0 337.3L71.3 337.5L72.5 337.7L73.8 337.8L75.0 337.9L76.3 337.9L77.5 337.9L78.8 338.0L80.0 338.0L81.3 338.1L82.6 338.1L83.8 338.1L85.1 338.1L86.3 338.1L87.6 338.1L88.8 338.1L90.1 338.1L91.3 338.1L92.6 338.1L93.8 338.1L95.1 338.1L96.3 338.2L97.6 338.2L98.9 338.2L100.1 338.2L101.4 338.2L102.6 338.3L103.9 338.3L105.1 338.3L106.4 338.3L107.6 338.3L108.9 338.3L110.1 338.3L111.4 338.4L112.7 338.4L113.9 338.4L115.2 338.4L116.4 338.4L117.7 338.4L118.9 338.4L120.2 338.4L121.4 338.4L122.7 338.4L123.9 338.4L125.2 338.4L126.4 338.5L127.7 338.5L129.0 338.5L130.2 338.4L131.5 338.4L132.7 338.4L134.0 338.4L135.2 338.4L136.5 338.4L137.7 338.4L139.0 338.4L140.2 338.4L141.5 338.4L142.8 338.3L144.0 338.3L145.3 338.3L146.5 338.3L147.8 338.3L149.0 338.3L150.3 338.2L151.5 338.2L152.8 338.2L154.0 338.2L155.3 338.1L156.5 338.1L157.8 338.1L159.1 338.1L160.3 338.1L161.6 338.0L162.8 338.0L164.1 338.0L165.3 338.0L166.6 338.0L167.8 337.9L169.1 337.9L170.3 337.9L171.6 337.9L172.9 337.8L174.1 337.8L175.4 337.8L176.6 337.8L177.9 337.8L179.1 337.7L180.4 337.7L181.6 337.7L182.9 337.6L184.1 337.6L185.4 337.6L186.6 337.5L187.9 337.5L189.2 337.5L190.4 337.4L191.7 337.4L192.9 337.3L194.2 337.3L195.4 337.3L196.7 337.2L197.9 337.2L199.2 337.1L200.4 337.1L201.7 337.0L203.0 337.0L204.2 336.9L205.5 336.9L206.7 336.8L208.0 336.7L209.2 336.7L210.5 336.6L211.7 336.6L213.0 336.5L214.2 336.4L215.5 336.4L216.7 336.3L218.0 336.3L219.3 336.2L220.5 336.1L221.8 336.1L223.0 336.0L224.3 335.9L225.5 335.9L226.8 335.8L228.0 335.7L229.3 335.6L230.5 335.6L231.8 335.5L233.1 335.4L234.3 335.3L235.6 335.2L236.8 335.1L238.1 335.0L239.3 334.8L240.6 334.7L241.8 334.5L243.1 334.4L244.3 334.3L245.6 334.1L246.8 333.9L248.1 333.7L249.4 333.6L250.6 333.4L251.9 333.2L253.1 333.0L254.4 332.8L255.6 332.6L256.9 332.4L258.1 332.2L259.4 332.0L260.6 331.7L261.9 331.4L263.2 331.1L264.4 330.7L265.7 330.1L266.9 329.5L268.2 328.9L269.4 328.3L270.7 327.6L271.9 326.9L273.2 326.1L274.4 325.2L275.7 324.4L276.9 323.6L278.2 322.8L279.5 322.2L280.7 321.6L282.0 321.1L283.2 320.6L284.5 320.1L285.7 319.7L287.0 319.2L288.2 318.7L289.5 318.2L290.7 317.8L292.0 317.3" stroke="#ff0000" stroke-width="1.20"/>
<path d="M67.5 337.3L68.8 337.5L70.0 337.7L71.3 337.9L72.5 338.1L73.8 338.2L75.0 338.2L76.3 338.2L77.5 338.3L78.8 338.3L80.0 338.4L81.3 338.4L82.6 338.4L83.8 338.4L85.1 338.4L86.3 338.4L87.6 338.4L88.8 338.4L90.1 338.4L91.3 338.4L92.6 338.4L93.8 338.4L95.1 338.4L96.3 338.5L97.6 338.5L98.9 338.5L100.1 338.5L101.4 338.6L102.6 338.6L103.9 338.6L105.1 338.6L106.4 338.6L107.6 338.7L108.9 338.7L110.1 338.7L111.4 338.7L112.7 338.7L113.9 338.7L115.2 338.7L116.4 338.7L117.7 338.7L118.9 338.8L120.2 338.8L121.4 338.8L122.7 338.8L123.9 338.8L125.2 338.8L126.4 338.8L127.7 338.8L129.0 338.8L130.2 338.8L131.5 338.8L132.7 338.9L134.0 338.9L135.2 338.9L136.5 338.9L137.7 338.9L139.0 338.9L140.2 339.0L141.5 339.0L142.8 339.0L144.0 339.0L145.3 339.0L146.5 339.0L147.8 339.0L149.0 339.0L150.3 339.0L151.5 339.0L152.8 339.0L154.0 339.0L155.3 339.0L156.5 339.0L157.8 339.0L159.1 338.9L160.3 338.9L161.6 338.9L162.8 338.9L164.1 338.9L165.3 338.9L166.6 338.9L167.8 338.9L169.1 338.9L170.3 338.9L171.6 338.9L172.9 338.9L174.1 338.8L175.4 338.8L176.6 338.8L177.9 338.7L179.1 338.7L180.4 338.7L181.6 338.6L182.9 338.6L184.1 338.6L185.4 338.5L186.6 338.5L187.9 338.5L189.2 338.4L190.4 338.4L191.7 338.3L192.9 338.3L194.2 338.3L195.4 338.2L196.7 338.2L197.9 338.1L199.2 338.1L200.4 338.0L201.7 338.0L203.0 337.9L204.2 337.8L205.5 337.8L206.7 337.7L208.0 337.6L209.2 337.6L210.5 337.5L211.7 337.5L213.0 337.4L214.2 337.4L215.5 337.3L216.7 337.3L218.0 337.2L219.3 337.1L220.5 337.1L221.8 337.0L223.0 337.0L224.3 336.9L225.5 336.8L226.8 336.8L228.0 336.7L229.3 336.7L230.5 336.6L231.8 336.6L233.1 336.5L234.3 336.4L235.6 336.3L236.8 336.3L238.1 336.2L239.3 336.1L240.6 336.0L241.8 335.9L243.1 335.8L244.3 335.7L245.6 335.6L246.8 335.5L248.1 335.3L249.4 335.2L250.6 335.1L251.9 335.0L253.1 334.9L254.4 334.8L255.6 334.7L256.9 334.6L258.1 334.4L259.4 334.3L260.6 334.1L261.9 333.9L263.2 333.7L264.4 333.4L265.7 332.9L266.9 332.3L268.2 331.8L269.4 331.2L270.7 330.5L271.9 329.8L273.2 329.1L274.4 328.2L275.7 327.4L276.9 326.6L278.2 325.9L279.5 325.2L280.7 324.6L282.0 324.0L283.2 323.4L284.5 322.8L285.7 322.3L287.0 321.7L288.2 321.1L289.5 320.5L290.7 320.0L292.0 319.4" stroke="#ff0000" stroke-width="1.20"/>
<path d="M404.0 58.9L404.9 59.3L405.9 59.8L406.8 60.2L407.8 60.6L408.7 61.1L409.6 61.6L410.6 62.1L411.5 62.7L412.4 63.2L413.4 63.8L414.3 64.4L415.3 65.1L416.2 65.7L417.1 66.4L418.1 67.2L419.0 68.0L420.0 68.8L420.9 69.6L421.8 70.4L422.8 71.2L423.7 72.1L424.6 72.9L425.6 73.8L426.5 74.7L427.5 75.6L428.4 76.6L429.3 77.5L430.3 78.5L431.2 79.5L432.2 80.5L433.1 81.5L434.0 82.6L435.0 83.6L435.9 84.7L436.8 85.8L437.8 87.0L438.7 88.1L439.7 89.3L440.6 90.5L441.5 91.6L442.5 92.8L443.4 94.0L444.4 95.2L445.3 96.4L446.2 97.6L447.2 98.8L448.1 100.0L449.0 101.3L450.0 102.5L450.9 103.7L451.9 105.0L452.8 106.2L453.7 107.4L454.7 108.6L455.6 109.8L456.6 111.0L457.5 112.2L458.4 113.4L459.4 114.6L460.3 115.9L461.2 117.1L462.2 118.3L463.1 119.6L464.1 120.8L465.0 122.0L465.9 123.2L466.9 124.5L467.8 125.8L468.8 127.1L469.7 128.4L470.6 129.8L471.6 131.2L472.5 132.7L473.4 134.1L474.4 135.6L475.3 137.2L476.3 138.7L477.2 140.3L478.1 141.9L479.1 143.4L480.0 145.1L481.0 146.7L481.9 148.3L482.8 149.9L483.8 151.5L484.7 153.1L485.6 154.7L486.6 156.3L487.5 157.9L488.5 159.5L489.4 161.1L490.3 162.7L491.3 164.3L492.2 165.8L493.2 167.4L494.1 169.0L495.0 170.6L496.0 172.2L496.9 173.8L497.8 175.4L498.8 177.0L499.7 178.5L500.7 180.1L501.6 181.7L502.5 183.2L503.5 184.7L504.4 186.3L505.4 187.8L506.3 189.3L507.2 190.9L508.2 192.4L509.1 193.9L510.0 195.5L511.0 197.0L511.9 198.5L512.9 200.1L513.8 201.7L514.7 203.3L515.7 204.9L516.6 206.5L517.6 208.2L518.5 209.8L519.4 211.4L520.4 213.0L521.3 214.6L522.3 216.1L523.2 217.7L524.1 219.1L525.1 220.6L526.0 222.0L526.9 223.4L527.9 224.8L528.8 226.1L529.8 227.5L530.7 228.9L531.6 230.3L532.6 231.7L533.5 233.1L534.5 234.5L535.4 235.9L536.3 237.4L537.3 238.8L538.2 240.3L539.1 241.7L540.1 243.1L541.0 244.5L542.0 246.0L542.9 247.4L543.8 248.7L544.8 250.1L545.7 251.5L546.7 252.8L547.6 254.1L548.5 255.4L549.5 256.7L550.4 258.0L551.3 259.3L552.3 260.6L553.2 261.9L554.2 263.2L555.1 264.5L556.0 265.9L557.0 267.2L557.9 268.6L558.9 269.9L559.8 271.3L560.7 272.6L561.7 274.0L562.6 275.3L563.5 276.5L564.5 277.7L565.4 278.9L566.4 280.0L567.3 281.0L568.2 282.1L569.2 283.0L570.1 284.0L571.1 285.0L572.0 285.9L572.9 286.8L573.9 287.7L574.8 288.6L575.7 289.5L576.7 290.4L577.6 291.3L578.6 292.2L579.5 293.1L580.4 294.0L581.4 295.0L582.3 295.9L583.3 296.9L584.2 297.8L585.1 298.8L586.1 299.7L587.0 300.6L587.9 301.6L588.9 302.5L589.8 303.5L590.8 304.4L591.7 305.3L592.6 306.2L593.6 307.1L594.5 307.9L595.5 308.8L596.4 309.6L597.3 310.4L598.3 311.2L599.2 312.0L600.1 312.8L601.1 313.5L602.0 314.3L603.0 315.0L603.9 315.7L604.8 316.4L605.8 317.1L606.7 317.7L607.7 318.4L608.6 319.0L609.5 319.6L610.5 320.2L611.4 320.8L612.3 321.4L613.3 321.9L614.2 322.5L615.2 323.0L616.1 323.6L617.0 324.1L618.0 324.6L618.9 325.1L619.9 325.6L620.8 326.0L621.7 326.5L622.7 327.0L623.6 327.4L624.5 327.8L625.5 328.3L626.4 328.7L627.4 329.1L628.3 329.5" stroke="#ff0000" stroke-width="1.20"/>
<path d="M404.0 85.6L404.9 87.3L405.9 88.9L406.8 90.6L407.8 92.6L408.7 94.5L409.6 95.6L410.6 95.7L411.5 95.9L412.4 96.0L413.4 96.3L414.3 96.5L415.3 96.7L416.2 97.0L417.1 97.4L418.1 97.7L419.0 98.1L420.0 98.5L420.9 98.9L421.8 99.4L422.8 99.9L423.7 100.4L424.6 100.9L425.6 101.5L426.5 102.2L427.5 102.9L428.4 103.7L429.3 104.5L430.3 105.3L431.2 106.2L432.2 107.1L433.1 108.0L434.0 108.9L435.0 110.0L435.9 111.0L436.8 112.1L437.8 113.3L438.7 114.4L439.7 115.7L440.6 116.9L441.5 118.1L442.5 119.3L443.4 120.5L444.4 121.8L445.3 123.1L446.2 124.4L447.2 125.7L448.1 127.0L449.0 128.3L450.0 129.6L450.9 130.9L451.9 132.1L452.8 133.4L453.7 134.6L454.7 135.9L455.6 137.1L456.6 138.4L457.5 139.6L458.4 140.9L459.4 142.2L460.3 143.4L461.2 144.7L462.2 146.0L463.1 147.4L464.1 148.7L465.0 150.1L465.9 151.5L466.9 152.9L467.8 154.3L468.8 155.7L469.7 157.2L470.6 158.6L471.6 160.1L472.5 161.6L473.4 163.0L474.4 164.5L475.3 166.0L476.3 167.5L477.2 169.1L478.1 170.6L479.1 172.2L480.0 173.8L481.0 175.3L481.9 176.9L482.8 178.5L483.8 180.1L484.7 181.7L485.6 183.2L486.6 184.8L487.5 186.3L488.5 187.8L489.4 189.3L490.3 190.8L491.3 192.2L492.2 193.7L493.2 195.2L494.1 196.7L495.0 198.1L496.0 199.6L496.9 201.2L497.8 202.7L498.8 204.2L499.7 205.8L500.7 207.4L501.6 208.9L502.5 210.5L503.5 212.0L504.4 213.6L505.4 215.1L506.3 216.6L507.2 218.0L508.2 219.5L509.1 220.9L510.0 222.4L511.0 223.8L511.9 225.3L512.9 226.8L513.8 228.3L514.7 229.8L515.7 231.3L516.6 232.8L517.6 234.3L518.5 235.8L519.4 237.2L520.4 238.7L521.3 240.1L522.3 241.4L523.2 242.8L524.1 244.2L525.1 245.5L526.0 246.9L526.9 248.2L527.9 249.5L528.8 250.8L529.8 252.1L530.7 253.5L531.6 254.8L532.6 256.1L533.5 257.4L534.5 258.7L535.4 260.1L536.3 261.4L537.3 262.8L538.2 264.2L539.1 265.5L540.1 266.8L541.0 268.1L542.0 269.3L542.9 270.5L543.8 271.6L544.8 272.7L545.7 273.8L546.7 274.9L547.6 275.9L548.5 276.9L549.5 277.9L550.4 278.9L551.3 279.9L552.3 280.9L553.2 281.8L554.2 282.8L555.1 283.8L556.0 284.7L557.0 285.7L557.9 286.6L558.9 287.6L559.8 288.6L560.7 289.6L561.7 290.5L562.6 291.5L563.5 292.5L564.5 293.4L565.4 294.4L566.4 295.4L567.3 296.3L568.2 297.2L569.2 298.1L570.1 299.1L571.1 300.0L572.0 300.8L572.9 301.7L573.9 302.6L574.8 303.5L575.7 304.3L576.7 305.2L577.6 306.0L578.6 306.8L579.5 307.7L580.4 308.5L581.4 309.3L582.3 310.1L583.3 310.9L584.2 311.6L585.1 312.4L586.1 313.2L587.0 313.9L587.9 314.7L588.9 315.4L589.8 316.1L590.8 316.9L591.7 317.5L592.6 318.2L593.6 318.9L594.5 319.5L595.5 320.1L596.4 320.7L597.3 321.3L598.3 321.9L599.2 322.4L600.1 323.0L601.1 323.5L602.0 324.0L603.0 324.5L603.9 325.0L604.8 325.5L605.8 326.0L606.7 326.5L607.7 327.0L608.6 327.5L609.5 328.0L610.5 328.5L611.4 328.9L612.3 329.4L613.3 329.8L614.2 330.3L615.2 330.7L616.1 331.2L617.0 331.6L618.0 332.0L618.9 332.4L619.9 332.8L620.8 333.2L621.7 333.5L622.7 333.9L623.6 334.3L624.5 334.6L625.5 335.0L626.4 335.3L627.4 335.7L628.3 336.0" stroke="#ff0000" stroke-width="1.20"/>
<path d="M404.0 65.1L404.9 65.6L405.9 66.0L406.8 66.5L407.8 67.0L408.7 67.5L409.6 68.0L410.6 68.5L411.5 68.9L412.4 69.4L413.4 69.9L414.3 70.4L415.3 71.0L416.2 71.6L417.1 72.2L418.1 72.9L419.0 73.6L420.0 74.3L420.9 75.0L421.8 75.8L422.8 76.5L423.7 77.3L424.6 78.1L425.6 78.9L426.5 79.8L427.5 80.6L428.4 81.5L429.3 82.5L430.3 83.4L431.2 84.4L432.2 85.3L433.1 86.3L434.0 87.4L435.0 88.4L435.9 89.5L436.8 90.6L437.8 91.7L438.7 92.9L439.7 94.0L440.6 95.2L441.5 96.4L442.5 97.6L443.4 98.9L444.4 100.2L445.3 101.6L446.2 102.9L447.2 104.3L448.1 105.6L449.0 107.0L450.0 108.3L450.9 109.7L451.9 111.0L452.8 112.3L453.7 113.7L454.7 115.0L455.6 116.3L456.6 117.7L457.5 119.0L458.4 120.3L459.4 121.6L460.3 122.9L461.2 124.1L462.2 125.4L463.1 126.7L464.1 128.0L465.0 129.3L465.9 130.6L466.9 132.0L467.8 133.3L468.8 134.7L469.7 136.1L470.6 137.6L471.6 139.0L472.5 140.5L473.4 142.1L474.4 143.6L475.3 145.2L476.3 146.7L477.2 148.3L478.1 150.0L479.1 151.6L480.0 153.2L481.0 154.9L481.9 156.5L482.8 158.2L483.8 159.8L484.7 161.5L485.6 163.1L486.6 164.7L487.5 166.3L488.5 167.9L489.4 169.5L490.3 171.1L491.3 172.6L492.2 174.2L493.2 175.8L494.1 177.3L495.0 178.9L496.0 180.4L496.9 182.0L497.8 183.6L498.8 185.2L499.7 186.7L500.7 188.3L501.6 189.8L502.5 191.4L503.5 192.9L504.4 194.5L505.4 196.0L506.3 197.5L507.2 199.0L508.2 200.5L509.1 202.0L510.0 203.5L511.0 205.0L511.9 206.6L512.9 208.1L513.8 209.7L514.7 211.2L515.7 212.8L516.6 214.4L517.6 216.0L518.5 217.6L519.4 219.2L520.4 220.7L521.3 222.2L522.3 223.7L523.2 225.2L524.1 226.6L525.1 228.1L526.0 229.4L526.9 230.8L527.9 232.2L528.8 233.5L529.8 234.9L530.7 236.2L531.6 237.6L532.6 239.0L533.5 240.4L534.5 241.8L535.4 243.2L536.3 244.6L537.3 246.0L538.2 247.4L539.1 248.8L540.1 250.2L541.0 251.6L542.0 253.0L542.9 254.3L543.8 255.6L544.8 256.9L545.7 258.2L546.7 259.4L547.6 260.7L548.5 261.9L549.5 263.1L550.4 264.3L551.3 265.5L552.3 266.7L553.2 267.9L554.2 269.1L555.1 270.3L556.0 271.5L557.0 272.8L557.9 274.0L558.9 275.2L559.8 276.5L560.7 277.7L561.7 278.9L562.6 280.1L563.5 281.3L564.5 282.4L565.4 283.5L566.4 284.6L567.3 285.6L568.2 286.6L569.2 287.6L570.1 288.5L571.1 289.5L572.0 290.4L572.9 291.3L573.9 292.2L574.8 293.1L575.7 293.9L576.7 294.8L577.6 295.7L578.6 296.6L579.5 297.5L580.4 298.4L581.4 299.3L582.3 300.2L583.3 301.1L584.2 302.0L585.1 302.8L586.1 303.7L587.0 304.6L587.9 305.5L588.9 306.4L589.8 307.3L590.8 308.1L591.7 309.0L592.6 309.8L593.6 310.6L594.5 311.4L595.5 312.2L596.4 312.9L597.3 313.7L598.3 314.4L599.2 315.1L600.1 315.8L601.1 316.5L602.0 317.2L603.0 317.8L603.9 318.5L604.8 319.1L605.8 319.8L606.7 320.4L607.7 321.0L608.6 321.5L609.5 322.1L610.5 322.7L611.4 323.2L612.3 323.8L613.3 324.3L614.2 324.8L615.2 325.3L616.1 325.8L617.0 326.3L618.0 326.8L618.9 327.3L619.9 327.7L620.8 328.2L621.7 328.6L622.7 329.1L623.6 329.5L624.5 329.9L625.5 330.3L626.4 330.7L627.4 331.1L628.3 331.4" stroke="#ff0000" stroke-width="1.20"/>
<path d="M404.0 67.6L404.9 68.0L405.9 68.5L406.8 69.1L407.8 69.6L408.7 70.1L409.6 70.6L410.6 71.0L411.5 71.4L412.4 71.9L413.4 72.4L414.3 72.9L415.3 73.4L416.2 74.0L417.1 74.6L418.1 75.2L419.0 75.9L420.0 76.6L420.9 77.3L421.8 78.0L422.8 78.8L423.7 79.5L424.6 80.3L425.6 81.1L426.5 81.9L427.5 82.8L428.4 83.7L429.3 84.6L430.3 85.5L431.2 86.5L432.2 87.4L433.1 88.4L434.0 89.4L435.0 90.5L435.9 91.6L436.8 92.7L437.8 93.8L438.7 95.0L439.7 96.2L440.6 97.3L441.5 98.5L442.5 99.8L443.4 101.2L444.4 102.7L445.3 104.1L446.2 105.6L447.2 107.1L448.1 108.6L449.0 110.1L450.0 111.6L450.9 113.1L451.9 114.5L452.8 116.0L453.7 117.5L454.7 118.9L455.6 120.4L456.6 121.9L457.5 123.3L458.4 124.7L459.4 126.0L460.3 127.3L461.2 128.6L462.2 129.9L463.1 131.2L464.1 132.5L465.0 133.8L465.9 135.2L466.9 136.5L467.8 137.9L468.8 139.3L469.7 140.7L470.6 142.2L471.6 143.7L472.5 145.2L473.4 146.7L474.4 148.2L475.3 149.8L476.3 151.3L477.2 152.9L478.1 154.6L479.1 156.2L480.0 157.8L481.0 159.5L481.9 161.1L482.8 162.7L483.8 164.4L484.7 166.0L485.6 167.7L486.6 169.3L487.5 170.9L488.5 172.4L489.4 174.0L490.3 175.6L491.3 177.2L492.2 178.7L493.2 180.3L494.1 181.8L495.0 183.4L496.0 185.0L496.9 186.6L497.8 188.1L498.8 189.7L499.7 191.3L500.7 192.9L501.6 194.5L502.5 196.0L503.5 197.6L504.4 199.2L505.4 200.7L506.3 202.2L507.2 203.7L508.2 205.3L509.1 206.8L510.0 208.3L511.0 209.8L511.9 211.3L512.9 212.9L513.8 214.5L514.7 216.0L515.7 217.6L516.6 219.2L517.6 220.8L518.5 222.4L519.4 224.0L520.4 225.5L521.3 227.0L522.3 228.5L523.2 229.9L524.1 231.4L525.1 232.8L526.0 234.2L526.9 235.5L527.9 236.8L528.8 238.2L529.8 239.5L530.7 240.8L531.6 242.2L532.6 243.5L533.5 244.9L534.5 246.2L535.4 247.6L536.3 249.0L537.3 250.4L538.2 251.8L539.1 253.2L540.1 254.5L541.0 255.9L542.0 257.2L542.9 258.5L543.8 259.7L544.8 260.9L545.7 262.1L546.7 263.3L547.6 264.5L548.5 265.7L549.5 266.8L550.4 268.0L551.3 269.1L552.3 270.2L553.2 271.4L554.2 272.5L555.1 273.6L556.0 274.8L557.0 275.9L557.9 277.1L558.9 278.3L559.8 279.4L560.7 280.6L561.7 281.8L562.6 282.9L563.5 284.1L564.5 285.2L565.4 286.3L566.4 287.3L567.3 288.3L568.2 289.3L569.2 290.3L570.1 291.3L571.1 292.2L572.0 293.1L572.9 294.0L573.9 294.9L574.8 295.8L575.7 296.7L576.7 297.6L577.6 298.5L578.6 299.4L579.5 300.3L580.4 301.2L581.4 302.1L582.3 302.9L583.3 303.8L584.2 304.7L585.1 305.6L586.1 306.4L587.0 307.3L587.9 308.2L588.9 309.0L589.8 309.9L590.8 310.7L591.7 311.5L592.6 312.3L593.6 313.1L594.5 313.8L595.5 314.6L596.4 315.3L597.3 316.0L598.3 316.7L599.2 317.4L600.1 318.0L601.1 318.7L602.0 319.3L603.0 319.9L603.9 320.6L604.8 321.2L605.8 321.8L606.7 322.3L607.7 322.9L608.6 323.5L609.5 324.0L610.5 324.6L611.4 325.1L612.3 325.6L613.3 326.2L614.2 326.7L615.2 327.2L616.1 327.6L617.0 328.1L618.0 328.6L618.9 329.0L619.9 329.5L620.8 329.9L621.7 330.3L622.7 330.7L623.6 331.2L624.5 331.6L625.5 331.9L626.4 332.3L627.4 332.7L628.3 333.1" stroke="#ff0000" stroke-width="1.20"/>
<path d="M404.0 68.4L404.9 68.9L405.9 69.4L406.8 69.9L407.8 70.4L408.7 71.0L409.6 71.5L410.6 71.9L411.5 72.3L412.4 72.7L413.4 73.2L414.3 73.7L415.3 74.2L416.2 74.8L417.1 75.4L418.1 76.0L419.0 76.7L420.0 77.4L420.9 78.1L421.8 78.8L422.8 79.5L423.7 80.3L424.6 81.1L425.6 81.9L426.5 82.7L427.5 83.5L428.4 84.4L429.3 85.3L430.3 86.3L431.2 87.2L432.2 88.2L433.1 89.2L434.0 90.2L435.0 91.3L435.9 92.4L436.8 93.5L437.8 94.6L438.7 95.8L439.7 96.9L440.6 98.1L441.5 99.3L442.5 100.6L443.4 102.1L444.4 103.5L445.3 105.0L446.2 106.5L447.2 108.0L448.1 109.5L449.0 111.0L450.0 112.5L450.9 114.0L451.9 115.5L452.8 117.0L453.7 118.5L454.7 120.0L455.6 121.4L456.6 122.9L457.5 124.4L458.4 125.8L459.4 127.1L460.3 128.4L461.2 129.7L462.2 131.0L463.1 132.3L464.1 133.6L465.0 134.9L465.9 136.3L466.9 137.7L467.8 139.0L468.8 140.4L469.7 141.9L470.6 143.3L471.6 144.8L472.5 146.3L473.4 147.8L474.4 149.4L475.3 150.9L476.3 152.5L477.2 154.1L478.1 155.7L479.1 157.3L480.0 159.0L481.0 160.6L481.9 162.2L482.8 163.9L483.8 165.5L484.7 167.2L485.6 168.8L486.6 170.4L487.5 172.0L488.5 173.6L489.4 175.2L490.3 176.7L491.3 178.3L492.2 179.8L493.2 181.4L494.1 182.9L495.0 184.5L496.0 186.1L496.9 187.6L497.8 189.2L498.8 190.8L499.7 192.4L500.7 194.0L501.6 195.6L502.5 197.1L503.5 198.7L504.4 200.3L505.4 201.8L506.3 203.3L507.2 204.8L508.2 206.3L509.1 207.9L510.0 209.4L511.0 210.9L511.9 212.4L512.9 214.0L513.8 215.5L514.7 217.1L515.7 218.7L516.6 220.3L517.6 221.9L518.5 223.4L519.4 225.0L520.4 226.5L521.3 228.0L522.3 229.5L523.2 231.0L524.1 232.4L525.1 233.8L526.0 235.2L526.9 236.5L527.9 237.8L528.8 239.2L529.8 240.5L530.7 241.8L531.6 243.2L532.6 244.5L533.5 245.9L534.5 247.2L535.4 248.6L536.3 250.0L537.3 251.4L538.2 252.7L539.1 254.1L540.1 255.5L541.0 256.8L542.0 258.1L542.9 259.4L543.8 260.6L544.8 261.8L545.7 263.0L546.7 264.2L547.6 265.4L548.5 266.5L549.5 267.7L550.4 268.8L551.3 269.9L552.3 271.0L553.2 272.2L554.2 273.3L555.1 274.4L556.0 275.5L557.0 276.7L557.9 277.8L558.9 279.0L559.8 280.1L560.7 281.3L561.7 282.5L562.6 283.6L563.5 284.7L564.5 285.8L565.4 286.9L566.4 288.0L567.3 289.0L568.2 290.0L569.2 291.0L570.1 291.9L571.1 292.9L572.0 293.8L572.9 294.7L573.9 295.6L574.8 296.5L575.7 297.4L576.7 298.3L577.6 299.2L578.6 300.1L579.5 301.0L580.4 301.9L581.4 302.8L582.3 303.6L583.3 304.5L584.2 305.4L585.1 306.3L586.1 307.1L587.0 308.0L587.9 308.9L588.9 309.7L589.8 310.5L590.8 311.4L591.7 312.2L592.6 313.0L593.6 313.7L594.5 314.5L595.5 315.2L596.4 315.9L597.3 316.6L598.3 317.3L599.2 318.0L600.1 318.6L601.1 319.3L602.0 319.9L603.0 320.5L603.9 321.1L604.8 321.7L605.8 322.3L606.7 322.9L607.7 323.4L608.6 324.0L609.5 324.6L610.5 325.1L611.4 325.6L612.3 326.1L613.3 326.7L614.2 327.2L615.2 327.6L616.1 328.1L617.0 328.6L618.0 329.1L618.9 329.5L619.9 329.9L620.8 330.4L621.7 330.8L622.7 331.2L623.6 331.6L624.5 332.0L625.5 332.4L626.4 332.8L627.4 333.2L628.3 333.5" stroke="#ff0000" stroke-width="1.20"/>
<path d="M404.0 70.3L404.9 70.9L405.9 71.4L406.8 72.0L407.8 72.6L408.7 73.2L409.6 73.7L410.6 74.1L411.5 74.6L412.4 75.0L413.4 75.5L414.3 76.0L415.3 76.5L416.2 77.1L417.1 77.7L418.1 78.3L419.0 79.0L420.0 79.7L420.9 80.4L421.8 81.1L422.8 81.8L423.7 82.6L424.6 83.3L425.6 84.2L426.5 85.0L427.5 85.9L428.4 86.8L429.3 87.7L430.3 88.6L431.2 89.6L432.2 90.6L433.1 91.6L434.0 92.6L435.0 93.7L435.9 94.8L436.8 96.0L437.8 97.1L438.7 98.3L439.7 99.5L440.6 100.7L441.5 101.9L442.5 103.3L443.4 104.8L444.4 106.3L445.3 107.8L446.2 109.4L447.2 110.9L448.1 112.5L449.0 114.1L450.0 115.6L450.9 117.2L451.9 118.7L452.8 120.3L453.7 121.8L454.7 123.3L455.6 124.9L456.6 126.4L457.5 128.0L458.4 129.4L459.4 130.7L460.3 132.0L461.2 133.3L462.2 134.6L463.1 136.0L464.1 137.3L465.0 138.7L465.9 140.0L466.9 141.4L467.8 142.8L468.8 144.3L469.7 145.7L470.6 147.2L471.6 148.7L472.5 150.2L473.4 151.7L474.4 153.3L475.3 154.8L476.3 156.4L477.2 158.0L478.1 159.6L479.1 161.3L480.0 162.9L481.0 164.5L481.9 166.2L482.8 167.8L483.8 169.5L484.7 171.1L485.6 172.7L486.6 174.4L487.5 176.0L488.5 177.5L489.4 179.1L490.3 180.7L491.3 182.2L492.2 183.8L493.2 185.3L494.1 186.9L495.0 188.5L496.0 190.0L496.9 191.6L497.8 193.2L498.8 194.8L499.7 196.4L500.7 198.1L501.6 199.7L502.5 201.3L503.5 202.8L504.4 204.4L505.4 206.0L506.3 207.5L507.2 209.0L508.2 210.6L509.1 212.1L510.0 213.6L511.0 215.1L511.9 216.7L512.9 218.2L513.8 219.8L514.7 221.4L515.7 223.0L516.6 224.6L517.6 226.1L518.5 227.7L519.4 229.3L520.4 230.8L521.3 232.3L522.3 233.7L523.2 235.2L524.1 236.6L525.1 238.0L526.0 239.4L526.9 240.8L527.9 242.1L528.8 243.5L529.8 244.8L530.7 246.2L531.6 247.5L532.6 248.9L533.5 250.2L534.5 251.6L535.4 253.0L536.3 254.4L537.3 255.8L538.2 257.2L539.1 258.6L540.1 259.9L541.0 261.2L542.0 262.5L542.9 263.8L543.8 265.0L544.8 266.2L545.7 267.4L546.7 268.5L547.6 269.6L548.5 270.8L549.5 271.9L550.4 273.0L551.3 274.0L552.3 275.1L553.2 276.2L554.2 277.3L555.1 278.3L556.0 279.4L557.0 280.5L557.9 281.6L558.9 282.7L559.8 283.7L560.7 284.8L561.7 285.9L562.6 287.0L563.5 288.1L564.5 289.1L565.4 290.1L566.4 291.2L567.3 292.1L568.2 293.1L569.2 294.1L570.1 295.0L571.1 295.9L572.0 296.9L572.9 297.8L573.9 298.7L574.8 299.6L575.7 300.4L576.7 301.3L577.6 302.2L578.6 303.1L579.5 303.9L580.4 304.8L581.4 305.6L582.3 306.5L583.3 307.3L584.2 308.2L585.1 309.0L586.1 309.8L587.0 310.6L587.9 311.4L588.9 312.2L589.8 313.0L590.8 313.8L591.7 314.6L592.6 315.3L593.6 316.0L594.5 316.7L595.5 317.4L596.4 318.1L597.3 318.7L598.3 319.4L599.2 320.0L600.1 320.6L601.1 321.2L602.0 321.8L603.0 322.3L603.9 322.9L604.8 323.5L605.8 324.0L606.7 324.5L607.7 325.1L608.6 325.6L609.5 326.1L610.5 326.6L611.4 327.1L612.3 327.6L613.3 328.1L614.2 328.6L615.2 329.1L616.1 329.5L617.0 330.0L618.0 330.4L618.9 330.8L619.9 331.3L620.8 331.7L621.7 332.1L622.7 332.5L623.6 332.9L624.5 333.3L625.5 333.6L626.4 334.0L627.4 334.4L628.3 334.7" stroke="#ff0000" stroke-width="1.20"/>
<path d="M67.5 344.7L69.5 344.8L71.4 344.9L73.4 345.0L75.3 345.2L77.3 345.3L79.2 345.4L81.1 345.6L83.1 345.7L85.0 345.8L87.0 346.0L88.9 346.1L90.9 346.3L92.8 346.4L94.8 346.6L96.7 346.7L98.7 346.9L100.6 347.1L102.6 347.2L104.5 347.4L106.5 347.6L108.4 347.7L110.4 347.9L112.3 348.1L114.2 348.3L116.2 348.5L118.1 348.7L120.1 348.9L122.0 349.1L124.0 349.3L125.9 349.5L127.8 349.7L129.8 350.0L131.7 350.2L133.7 350.5L135.6 350.7L137.5 351.0L139.5 351.2L141.4 351.5L143.3 351.7L145.3 352.0L147.2 352.2L149.2 352.5L151.1 352.8L153.0 353.0L155.0 353.3L156.9 353.5L158.8 353.8L160.8 354.0L162.7 354.3L164.6 354.5L166.6 354.8L168.5 355.0L170.5 355.2L172.4 355.5L174.3 355.7L176.3 355.9L178.2 356.2L180.2 356.4L182.1 356.7L184.0 357.0L186.0 357.2L187.9 357.5L189.8 357.8L191.8 358.1L193.7 358.4L195.6 358.7L197.6 359.0L199.5 359.3L201.4 359.5L203.4 359.8L205.3 360.1L207.2 360.4L209.1 360.7L211.1 361.0L213.0 361.3L214.9 361.6L216.9 362.0L218.8 362.3L220.7 362.6L222.7 363.0L224.6 363.3L226.5 363.6L228.5 364.0L230.4 364.3L232.3 364.6L234.2 364.9L236.2 365.2L238.1 365.5L240.0 365.8L242.0 366.1L243.9 366.4L245.8 366.6L247.8 366.9L249.7 367.1L251.7 367.3L253.6 367.5L255.5 367.7L257.5 367.8L259.4 368.0L261.4 368.1L263.3 368.2L265.3 368.3L267.2 368.4L269.2 368.6L271.1 368.7L273.1 368.8L275.0 368.9L277.0 369.0L278.9 369.1L280.9 369.2L282.8 369.3L284.8 369.4L286.7 369.5L288.7 369.5L290.6 369.6L292.6 369.7L294.6 369.7L296.5 369.8L298.5 369.9L300.4 369.9L302.4 369.9L304.3 370.0L306.3 370.0L308.2 370.0L310.2 370.0L312.2 370.0L314.2 369.9L316.3 369.8L318.3 369.6L320.4 369.4L322.4 369.1L324.3 368.8L326.0 368.5L327.7 368.1L329.3 367.5L330.9 366.3L332.3 364.8L333.7 363.1L334.8 361.3L335.6 359.6L336.1 357.8L336.6 355.9L337.0 354.0L337.4 352.0L337.8 350.1L338.2 348.2L338.7 346.3L339.2 344.4L339.6 342.5L340.1 340.6L340.5 338.7L341.0 336.8L341.4 334.9L341.9 333.0L342.4 331.1L342.8 329.2L343.3 327.3L343.7 325.4L344.1 323.4L344.5 321.5L344.8 319.6L345.1 317.7L345.4 315.7L345.5 313.8L345.5 311.8L345.6 309.9L345.6 307.9L345.6 306.0L345.7 304.0L345.7 302.1L345.7 300.1L345.7 298.2L345.7 296.2L345.7 294.3L345.7 292.3L345.7 290.3L345.7 288.4L345.7 286.4L345.7 284.5L345.7 282.5L345.7 280.6L345.7 278.6L345.7 276.7L345.8 274.7L345.8 272.8L345.8 270.8L345.8 268.9L345.8 266.9L345.8 264.9L345.8 263.0L345.8 261.0L345.8 259.1L345.8 257.1L345.8 255.2L345.8 253.2L345.8 251.3L345.8 249.3L345.8 247.4L345.8 245.4L345.9 243.5L345.9 241.5L345.9 239.6L345.9 237.6L345.9 235.6L345.9 233.7L345.9 231.7L345.9 229.8L345.9 227.8L346.0 225.9L346.0 223.9L346.0 222.0L346.0 220.0L346.0 218.1L346.0 216.1L346.0 214.2L346.0 212.2L346.0 210.3L346.0 208.3L346.0 206.3L346.0 204.4L346.0 202.4L346.0 200.5L346.0 198.5L346.0 196.6L346.0 194.6L346.0 192.7L346.0 190.7L346.1 188.8L346.1 186.8L346.1 184.9L346.1 182.9L346.1 181.0L346.1 179.0L346.1 177.0L346.1 175.1L346.1 173.1L346.1 171.2L346.1 169.2L346.1 167.3L346.1 165.3L346.1 163.4L346.1 161.4L346.1 159.5L346.1 157.5L346.1 155.6L346.1 153.6L346.1 151.6L346.1 149.7L346.1 147.7L346.1 145.8L346.1 143.8L346.1 141.9L346.1 139.9L346.1 138.0L346.1 136.0L346.1 134.1L346.1 132.1L346.1 130.2L346.1 128.2L346.1 126.3L346.1 124.3L346.1 122.3L346.1 120.4L346.1 118.4L346.1 116.5L346.1 114.5L346.1 112.6L346.1 110.6L346.1 108.7L346.1 106.7L346.1 104.8L346.1 102.8L346.1 100.9L346.1 98.9L346.2 97.0L346.2 95.0L346.2 93.0L346.2 91.1L346.2 89.1L346.2 87.2L346.2 85.2L346.2 83.3L346.2 81.3L346.2 79.4L346.2 77.4L346.2 75.5L346.2 73.5L346.2 71.6L346.2 69.6L346.2 67.7L346.2 65.7L346.2 63.7L346.2 61.8L346.2 59.8L346.2 57.9L346.2 55.9L346.2 54.0L346.2 52.0L346.2 50.1L346.2 48.1L346.2 46.2L346.2 44.2L346.2 42.3L346.2 40.3L346.2 38.3L346.2 36.4L346.2 34.4L346.2 32.5L346.2 30.5L346.2 28.6L346.2 26.6L346.2 24.7L346.2 22.7L346.2 20.8L346.2 18.8L346.2 16.9L346.2 14.9L346.2 13.0L346.2 11.0" stroke="#0000ff" stroke-width="1.00"/>
<path d="M437.2 11.0L437.6 12.2L438.0 13.5L438.5 14.7L438.9 15.9L439.3 17.2L439.7 18.4L440.2 19.6L440.6 20.9L441.0 22.1L441.4 23.3L441.9 24.6L442.3 25.8L442.7 27.0L443.1 28.3L443.6 29.5L444.0 30.7L444.4 32.0L444.8 33.2L445.3 34.4L445.7 35.7L446.1 36.9L446.5 38.1L446.9 39.4L447.4 40.6L447.8 41.8L448.2 43.1L448.6 44.3L449.1 45.5L449.5 46.8L449.9 48.0L450.3 49.3L450.8 50.5L451.2 51.7L451.6 53.0L452.0 54.2L452.5 55.4L452.9 56.7L453.3 57.9L453.7 59.1L454.2 60.4L454.6 61.6L455.0 62.8L455.4 64.1L455.9 65.3L456.3 66.5L456.7 67.8L457.2 69.0L457.6 70.2L458.0 71.5L458.4 72.7L458.9 73.9L459.3 75.2L459.7 76.4L460.1 77.6L460.6 78.9L461.0 80.1L461.4 81.3L461.8 82.6L462.2 83.8L462.7 85.0L463.1 86.3L463.5 87.5L463.9 88.7L464.4 90.0L464.8 91.2L465.2 92.4L465.6 93.7L466.0 94.9L466.5 96.1L466.9 97.4L467.3 98.6L467.7 99.8L468.2 101.1L468.6 102.3L469.0 103.5L469.4 104.8L469.8 106.0L470.3 107.2L470.7 108.5L471.1 109.7L471.5 111.0L471.9 112.2L472.4 113.4L472.8 114.7L473.2 115.9L473.6 117.1L474.0 118.4L474.4 119.6L474.8 120.9L475.2 122.1L475.6 123.3L476.0 124.6L476.4 125.8L476.8 127.1L477.2 128.3L477.6 129.5L478.0 130.8L478.4 132.0L478.8 133.3L479.2 134.5L479.6 135.8L480.0 137.0L480.4 138.3L480.8 139.5L481.1 140.7L481.5 142.0L481.9 143.2L482.3 144.5L482.7 145.7L483.1 147.0L483.5 148.2L483.9 149.5L484.3 150.7L484.7 151.9L485.1 153.2L485.5 154.4L485.9 155.7L486.3 156.9L486.7 158.1L487.2 159.4L487.6 160.6L488.0 161.8L488.4 163.1L488.8 164.3L489.3 165.5L489.7 166.8L490.1 168.0L490.5 169.2L491.0 170.5L491.4 171.7L491.8 172.9L492.3 174.2L492.7 175.4L493.1 176.6L493.6 177.9L494.0 179.1L494.5 180.3L494.9 181.5L495.4 182.8L495.9 184.0L496.3 185.2L496.8 186.4L497.3 187.6L497.7 188.8L498.2 190.1L498.7 191.3L499.2 192.5L499.6 193.7L500.1 194.9L500.6 196.1L501.0 197.4L501.5 198.6L501.9 199.8L502.4 201.0L502.8 202.3L503.3 203.5L503.7 204.7L504.1 206.0L504.5 207.2L505.0 208.4L505.4 209.7L505.8 210.9L506.2 212.1L506.6 213.4L507.1 214.6L507.5 215.8L507.9 217.1L508.4 218.3L508.8 219.5L509.3 220.8L509.7 222.0L510.2 223.2L510.7 224.4L511.2 225.6L511.7 226.8L512.2 228.0L512.7 229.2L513.2 230.4L513.8 231.6L514.3 232.8L514.8 233.9L515.4 235.1L515.9 236.3L516.5 237.5L517.1 238.7L517.6 239.9L518.2 241.0L518.7 242.2L519.3 243.4L519.8 244.6L520.4 245.8L520.9 247.0L521.4 248.2L522.0 249.4L522.5 250.5L523.0 251.7L523.6 252.9L524.1 254.1L524.6 255.3L525.2 256.5L525.7 257.7L526.2 258.9L526.8 260.1L527.3 261.3L527.8 262.5L528.4 263.7L528.9 264.8L529.4 266.0L530.0 267.2L530.5 268.4L531.1 269.6L531.6 270.8L532.2 272.0L532.7 273.1L533.3 274.3L533.8 275.5L534.4 276.7L535.0 277.8L535.5 279.0L536.1 280.2L536.6 281.4L537.2 282.6L537.8 283.7L538.3 284.9L538.9 286.1L539.5 287.3L540.1 288.4L540.7 289.6L541.2 290.8L541.8 291.9L542.4 293.1L543.0 294.2L543.7 295.4L544.3 296.5L544.9 297.7L545.5 298.8L546.2 300.0L546.8 301.1L547.5 302.2L548.1 303.3L548.8 304.5L549.5 305.6L550.2 306.7L550.9 307.8L551.6 308.9L552.3 310.0L553.0 311.1L553.7 312.2L554.5 313.2L555.2 314.3L556.0 315.4L556.7 316.5L557.5 317.5L558.2 318.6L559.0 319.6L559.8 320.7L560.5 321.7L561.3 322.8L562.1 323.8L563.0 324.8L563.8 325.8L564.6 326.8L565.5 327.8L566.3 328.8L567.2 329.8L568.1 330.7L569.0 331.7L569.9 332.6L570.8 333.6L571.7 334.5L572.6 335.4L573.6 336.3L574.5 337.2L575.5 338.1L576.4 339.0L577.4 339.9L578.4 340.7L579.4 341.6L580.3 342.5L581.3 343.3L582.3 344.2L583.4 345.0L584.4 345.9L585.4 346.7L586.5 347.4L587.5 348.2L588.6 348.9L589.7 349.6L590.8 350.2L591.9 350.9L593.1 351.5L594.2 352.1L595.4 352.7L596.6 353.3L597.8 353.8L599.0 354.3L600.2 354.8L601.5 355.3L602.7 355.7L603.9 356.1L605.1 356.5L606.4 356.8L607.7 357.2L608.9 357.5L610.2 357.8L611.5 358.1L612.8 358.4L614.1 358.6L615.3 358.9L616.6 359.1L617.9 359.3L619.2 359.4L620.5 359.6L621.8 359.8L623.1 359.9L624.4 360.0L625.7 360.1L627.0 360.2L628.3 360.3" stroke="#0000ff" stroke-width="1.05"/>
<path d="M67.5 345.2L69.2 345.3L70.9 345.4L72.6 345.5L74.3 345.6L76.1 345.6L77.8 345.7L79.5 345.8L81.2 345.9L82.9 346.0L84.6 346.1L86.3 346.1L88.0 346.2L89.7 346.3L91.5 346.4L93.2 346.4L94.9 346.5L96.6 346.6L98.3 346.6L100.0 346.7L101.7 346.8L103.4 346.8L105.1 346.9L106.9 346.9L108.6 347.0L110.3 347.1L112.0 347.1L113.7 347.2L115.4 347.2L117.1 347.3L118.8 347.3L120.6 347.4L122.3 347.4L124.0 347.5L125.7 347.6L127.4 347.6L129.1 347.7L130.8 347.7L132.5 347.8L134.3 347.8L136.0 347.9L137.7 347.9L139.4 348.0L141.1 348.0L142.8 348.1L144.5 348.1L146.2 348.2L148.0 348.2L149.7 348.2L151.4 348.2L153.1 348.2L154.8 348.2L156.5 348.2L158.2 348.2L159.9 348.3L161.7 348.3L163.4 348.3L165.1 348.3L166.8 348.3L168.5 348.3L170.2 348.3L171.9 348.3L173.7 348.3L175.4 348.3L177.1 348.3L178.8 348.3L180.5 348.3L182.2 348.3L183.9 348.2L185.6 348.2L187.4 348.1L189.1 348.1L190.8 348.0L192.5 347.9L194.2 347.8L195.9 347.7L197.6 347.6L199.3 347.4L201.0 347.3L202.7 347.2L204.5 347.0L206.2 346.8L207.9 346.7L209.6 346.4L211.3 346.2L213.0 346.0L214.7 345.8L216.3 345.5L218.0 345.2L219.7 344.9L221.4 344.6L223.1 344.3L224.8 344.0L226.5 343.6L228.1 343.2L229.8 342.8L231.5 342.4L233.1 342.0L234.8 341.6L236.4 341.1L238.1 340.6L239.7 340.2L241.4 339.7L243.0 339.2L244.6 338.7L246.3 338.3L248.0 337.8L249.6 337.3L251.2 336.8L252.8 336.2L254.4 335.5L256.0 334.8L257.5 334.0L259.0 333.3L260.6 332.5L262.1 331.7L263.6 330.9L265.1 330.0L266.6 329.2L268.0 328.3L269.5 327.4L271.0 326.5L272.4 325.6L273.8 324.6L275.2 323.6L276.6 322.6L278.0 321.6L279.3 320.6L280.7 319.5L282.0 318.5L283.4 317.4L284.7 316.3L286.0 315.1L287.2 314.0L288.5 312.8L289.7 311.7L291.0 310.5L292.2 309.2L293.4 308.0L294.6 306.8L295.7 305.5L296.9 304.3L298.0 303.0L299.2 301.7L300.3 300.4L301.4 299.1L302.5 297.8L303.6 296.5L304.7 295.1L305.8 293.8L306.8 292.5L307.9 291.1L308.9 289.8L310.0 288.4L311.0 287.0L312.0 285.7L313.0 284.3L314.0 282.9L315.0 281.5L315.9 280.0L316.9 278.6L317.8 277.2L318.7 275.7L319.6 274.2L320.4 272.8L321.3 271.3L322.1 269.7L322.8 268.2L323.6 266.7L324.4 265.1L325.1 263.6L325.8 262.0L326.6 260.5L327.3 258.9L328.0 257.4L328.7 255.8L329.3 254.2L329.9 252.6L330.5 251.0L331.1 249.4L331.6 247.8L332.1 246.1L332.6 244.5L333.1 242.9L333.6 241.2L334.1 239.6L334.6 237.9L335.1 236.3L335.5 234.6L336.0 233.0L336.4 231.3L336.9 229.7L337.3 228.0L337.7 226.3L338.1 224.7L338.5 223.0L338.9 221.3L339.3 219.7L339.6 218.0L339.9 216.3L340.2 214.6L340.5 212.9L340.7 211.2L341.0 209.5L341.3 207.8L341.5 206.1L341.7 204.4L341.9 202.7L342.1 201.0L342.3 199.3L342.5 197.6L342.6 195.9L342.8 194.2L342.9 192.5L343.1 190.8L343.2 189.1L343.3 187.4L343.4 185.7L343.5 184.0L343.6 182.3L343.7 180.5L343.7 178.8L343.8 177.1L343.9 175.4L344.0 173.7L344.2 172.0L344.3 170.3L344.4 168.6L344.5 166.9L344.6 165.2L344.7 163.4L344.8 161.7L344.8 160.0L344.9 158.3L345.0 156.6L345.0 154.9L345.1 153.2L345.2 151.5L345.2 149.8L345.3 148.0L345.3 146.3L345.3 144.6L345.4 142.9L345.4 141.2L345.5 139.5L345.5 137.8L345.5 136.1L345.6 134.3L345.6 132.6L345.6 130.9L345.6 129.2L345.7 127.5L345.7 125.8L345.7 124.1L345.7 122.3L345.7 120.6L345.8 118.9L345.8 117.2L345.8 115.5L345.8 113.8L345.8 112.1L345.8 110.4L345.8 108.6L345.9 106.9L345.9 105.2L345.9 103.5L345.9 101.8L345.9 100.1L345.9 98.4L345.9 96.7L345.9 94.9L345.9 93.2L345.9 91.5L346.0 89.8L346.0 88.1L346.0 86.4L346.0 84.7L346.0 82.9L346.0 81.2L346.0 79.5L346.0 77.8L346.0 76.1L346.0 74.4L346.0 72.7L346.0 71.0L346.0 69.2L346.1 67.5L346.1 65.8L346.1 64.1L346.1 62.4L346.1 60.7L346.1 59.0L346.1 57.3L346.1 55.5L346.1 53.8L346.1 52.1L346.1 50.4L346.1 48.7L346.1 47.0L346.1 45.3L346.1 43.5L346.1 41.8L346.1 40.1L346.2 38.4L346.2 36.7L346.2 35.0L346.2 33.3L346.2 31.6L346.2 29.8L346.2 28.1L346.2 26.4L346.2 24.7L346.2 23.0L346.2 21.3L346.2 19.6L346.2 17.9L346.2 16.1L346.2 14.4L346.2 12.7L346.2 11.0" stroke="#0000ff" stroke-width="1.00"/>
<path d="M67.5 346.7L69.2 346.8L70.9 346.8L72.7 346.9L74.4 347.0L76.1 347.1L77.8 347.1L79.5 347.2L81.3 347.3L83.0 347.3L84.7 347.4L86.4 347.5L88.1 347.5L89.9 347.6L91.6 347.6L93.3 347.7L95.0 347.8L96.7 347.8L98.5 347.9L100.2 347.9L101.9 348.0L103.6 348.0L105.3 348.0L107.1 348.0L108.8 348.1L110.5 348.1L112.2 348.1L113.9 348.2L115.6 348.2L117.3 348.2L119.1 348.3L120.8 348.3L122.5 348.3L124.2 348.3L125.9 348.4L127.6 348.4L129.3 348.5L131.0 348.5L132.8 348.6L134.5 348.6L136.2 348.6L137.9 348.7L139.6 348.7L141.3 348.8L143.0 348.8L144.7 348.9L146.5 348.9L148.2 348.9L149.9 349.0L151.6 349.0L153.3 349.0L155.0 349.0L156.8 349.0L158.5 349.0L160.2 349.0L161.9 349.1L163.6 349.1L165.4 349.1L167.1 349.1L168.8 349.1L170.5 349.1L172.2 349.1L173.9 349.1L175.7 349.1L177.4 349.1L179.1 349.1L180.8 349.1L182.5 349.1L184.2 349.1L186.0 349.0L187.7 349.0L189.4 348.9L191.1 348.8L192.8 348.7L194.5 348.6L196.3 348.5L198.0 348.4L199.7 348.3L201.4 348.2L203.1 348.0L204.8 347.9L206.5 347.7L208.2 347.5L210.0 347.3L211.7 347.1L213.4 346.9L215.1 346.6L216.8 346.4L218.5 346.1L220.1 345.8L221.8 345.5L223.5 345.2L225.2 344.8L226.9 344.5L228.6 344.1L230.3 343.8L231.9 343.4L233.6 343.0L235.3 342.6L237.0 342.2L238.7 341.8L240.3 341.4L242.0 340.9L243.7 340.5L245.4 340.1L247.1 339.7L248.8 339.3L250.4 338.9L252.1 338.4L253.7 337.8L255.3 337.2L256.9 336.6L258.5 335.9L260.1 335.2L261.6 334.4L263.2 333.7L264.7 332.9L266.2 332.0L267.7 331.1L269.2 330.3L270.6 329.4L272.1 328.4L273.5 327.5L275.0 326.5L276.4 325.5L277.8 324.5L279.1 323.5L280.5 322.5L281.9 321.4L283.2 320.3L284.6 319.2L285.9 318.1L287.2 317.0L288.5 315.9L289.8 314.7L291.0 313.5L292.3 312.3L293.5 311.1L294.7 309.9L295.9 308.6L297.0 307.4L298.2 306.1L299.3 304.8L300.5 303.5L301.6 302.2L302.7 300.9L303.8 299.6L304.9 298.3L306.0 296.9L307.1 295.6L308.1 294.2L309.2 292.8L310.2 291.5L311.3 290.1L312.3 288.7L313.3 287.3L314.3 285.9L315.3 284.5L316.3 283.1L317.2 281.7L318.1 280.2L319.1 278.8L320.0 277.3L320.8 275.8L321.7 274.3L322.5 272.8L323.3 271.3L324.1 269.8L324.9 268.2L325.6 266.7L326.4 265.1L327.1 263.5L327.8 262.0L328.5 260.4L329.2 258.8L329.8 257.2L330.5 255.6L331.1 254.0L331.6 252.4L332.2 250.7L332.7 249.1L333.2 247.4L333.7 245.8L334.1 244.1L334.6 242.5L335.1 240.8L335.5 239.2L335.9 237.5L336.4 235.8L336.8 234.2L337.2 232.5L337.6 230.8L338.0 229.1L338.4 227.5L338.8 225.8L339.2 224.1L339.5 222.4L339.8 220.7L340.1 219.0L340.4 217.3L340.7 215.6L341.0 213.9L341.3 212.2L341.6 210.5L341.8 208.8L342.1 207.1L342.3 205.4L342.5 203.7L342.7 202.0L342.9 200.3L343.1 198.6L343.2 196.9L343.4 195.2L343.5 193.4L343.6 191.7L343.7 190.0L343.8 188.3L343.9 186.6L344.0 184.8L344.1 183.1L344.2 181.4L344.3 179.7L344.4 178.0L344.5 176.3L344.6 174.5L344.7 172.8L344.8 171.1L344.9 169.4L345.0 167.7L345.1 165.9L345.2 164.2L345.2 162.5L345.3 160.8L345.4 159.1L345.4 157.3L345.5 155.6L345.6 153.9L345.6 152.2L345.7 150.5L345.7 148.7L345.8 147.0L345.8 145.3L345.9 143.6L345.9 141.8L346.0 140.1L346.0 138.4L346.0 136.7L346.1 135.0L346.1 133.2L346.2 131.5L346.2 129.8L346.2 128.1L346.2 126.4L346.3 124.6L346.3 122.9L346.3 121.2L346.3 119.5L346.3 117.7L346.3 116.0L346.3 114.3L346.4 112.6L346.4 110.9L346.4 109.1L346.4 107.4L346.4 105.7L346.4 104.0L346.4 102.3L346.4 100.5L346.4 98.8L346.4 97.1L346.5 95.4L346.5 93.6L346.5 91.9L346.5 90.2L346.5 88.5L346.5 86.8L346.5 85.0L346.5 83.3L346.5 81.6L346.5 79.9L346.5 78.1L346.5 76.4L346.5 74.7L346.5 73.0L346.6 71.3L346.6 69.5L346.6 67.8L346.6 66.1L346.6 64.4L346.6 62.7L346.6 60.9L346.6 59.2L346.6 57.5L346.6 55.8L346.6 54.0L346.6 52.3L346.6 50.6L346.6 48.9L346.6 47.2L346.6 45.4L346.6 43.7L346.7 42.0L346.7 40.3L346.7 38.5L346.7 36.8L346.7 35.1L346.7 33.4L346.7 31.7L346.7 29.9L346.7 28.2L346.7 26.5L346.7 24.8L346.7 23.1L346.7 21.3L346.7 19.6L346.7 17.9L346.7 16.2L346.7 14.4L346.7 12.7L346.7 11.0" stroke="#0000ff" stroke-width="1.00"/>
<path d="M67.5 347.0L69.2 347.0L70.9 347.1L72.7 347.2L74.4 347.3L76.1 347.3L77.8 347.4L79.6 347.5L81.3 347.5L83.0 347.6L84.7 347.7L86.4 347.7L88.2 347.8L89.9 347.8L91.6 347.9L93.3 348.0L95.1 348.0L96.8 348.1L98.5 348.1L100.2 348.2L101.9 348.2L103.7 348.3L105.4 348.3L107.1 348.4L108.8 348.4L110.6 348.5L112.3 348.5L114.0 348.5L115.7 348.6L117.4 348.6L119.2 348.7L120.9 348.7L122.6 348.8L124.3 348.8L126.0 348.9L127.8 348.9L129.5 349.0L131.2 349.1L132.9 349.1L134.6 349.2L136.4 349.3L138.1 349.4L139.8 349.4L141.5 349.5L143.2 349.6L145.0 349.6L146.7 349.7L148.4 349.7L150.1 349.7L151.8 349.7L153.6 349.8L155.3 349.8L157.0 349.8L158.7 349.8L160.5 349.8L162.2 349.9L163.9 349.9L165.6 349.9L167.3 349.9L169.1 349.9L170.8 349.9L172.5 349.9L174.2 349.9L176.0 349.9L177.7 349.9L179.4 349.9L181.1 349.9L182.8 349.9L184.6 349.9L186.3 349.8L188.0 349.8L189.7 349.7L191.5 349.6L193.2 349.5L194.9 349.5L196.6 349.4L198.3 349.3L200.1 349.2L201.8 349.0L203.5 348.9L205.2 348.7L206.9 348.6L208.6 348.4L210.3 348.2L212.1 348.0L213.8 347.7L215.5 347.5L217.2 347.2L218.9 346.9L220.6 346.6L222.3 346.3L223.9 346.0L225.6 345.7L227.3 345.4L229.0 345.0L230.7 344.6L232.4 344.3L234.1 343.9L235.8 343.5L237.5 343.2L239.2 342.8L240.9 342.4L242.6 342.0L244.3 341.6L245.9 341.2L247.7 340.8L249.3 340.4L251.0 340.0L252.7 339.5L254.3 339.0L256.0 338.4L257.6 337.7L259.2 337.1L260.8 336.4L262.3 335.7L263.9 334.9L265.4 334.1L266.9 333.3L268.4 332.4L269.9 331.5L271.3 330.6L272.8 329.6L274.2 328.7L275.7 327.7L277.1 326.7L278.5 325.7L279.9 324.7L281.3 323.6L282.6 322.6L284.0 321.5L285.3 320.4L286.7 319.3L288.0 318.2L289.3 317.0L290.5 315.9L291.8 314.7L293.1 313.5L294.3 312.3L295.5 311.1L296.7 309.8L297.8 308.5L299.0 307.3L300.2 306.0L301.3 304.7L302.4 303.4L303.5 302.0L304.6 300.7L305.7 299.4L306.8 298.0L307.9 296.7L308.9 295.3L310.0 293.9L311.0 292.5L312.1 291.2L313.1 289.8L314.1 288.4L315.1 286.9L316.1 285.5L317.0 284.1L318.0 282.7L318.9 281.2L319.8 279.7L320.7 278.3L321.6 276.8L322.5 275.3L323.3 273.8L324.1 272.2L324.9 270.7L325.7 269.2L326.4 267.6L327.2 266.0L327.9 264.5L328.6 262.9L329.3 261.3L329.9 259.7L330.6 258.1L331.2 256.5L331.8 254.9L332.3 253.2L332.8 251.6L333.3 249.9L333.8 248.3L334.3 246.6L334.7 244.9L335.2 243.3L335.6 241.6L336.1 239.9L336.5 238.3L336.9 236.6L337.3 234.9L337.7 233.2L338.1 231.5L338.5 229.9L338.8 228.2L339.2 226.5L339.5 224.8L339.9 223.1L340.2 221.4L340.5 219.7L340.8 218.0L341.1 216.3L341.4 214.6L341.6 212.9L341.9 211.2L342.2 209.5L342.4 207.8L342.7 206.0L342.9 204.3L343.1 202.6L343.3 200.9L343.4 199.2L343.6 197.5L343.7 195.7L343.8 194.0L344.0 192.3L344.1 190.6L344.2 188.8L344.3 187.1L344.4 185.4L344.5 183.7L344.6 181.9L344.6 180.2L344.7 178.5L344.8 176.8L344.9 175.0L345.0 173.3L345.1 171.6L345.2 169.9L345.3 168.1L345.4 166.4L345.5 164.7L345.5 163.0L345.6 161.2L345.7 159.5L345.7 157.8L345.8 156.1L345.9 154.3L345.9 152.6L346.0 150.9L346.0 149.2L346.1 147.4L346.1 145.7L346.2 144.0L346.2 142.3L346.3 140.5L346.3 138.8L346.4 137.1L346.4 135.4L346.4 133.6L346.5 131.9L346.5 130.2L346.6 128.4L346.6 126.7L346.6 125.0L346.6 123.3L346.6 121.5L346.6 119.8L346.7 118.1L346.7 116.4L346.7 114.6L346.7 112.9L346.7 111.2L346.7 109.4L346.7 107.7L346.7 106.0L346.7 104.3L346.8 102.5L346.8 100.8L346.8 99.1L346.8 97.4L346.8 95.6L346.8 93.9L346.8 92.2L346.8 90.4L346.8 88.7L346.8 87.0L346.8 85.3L346.8 83.5L346.8 81.8L346.8 80.1L346.8 78.4L346.9 76.6L346.9 74.9L346.9 73.2L346.9 71.4L346.9 69.7L346.9 68.0L346.9 66.3L346.9 64.5L346.9 62.8L346.9 61.1L346.9 59.4L346.9 57.6L346.9 55.9L346.9 54.2L346.9 52.5L346.9 50.7L346.9 49.0L347.0 47.3L347.0 45.5L347.0 43.8L347.0 42.1L347.0 40.4L347.0 38.6L347.0 36.9L347.0 35.2L347.0 33.5L347.0 31.7L347.0 30.0L347.0 28.3L347.0 26.5L347.0 24.8L347.0 23.1L347.0 21.4L347.0 19.6L347.0 17.9L347.0 16.2L347.0 14.5L347.0 12.7L347.0 11.0" stroke="#0000ff" stroke-width="1.00"/>
<path d="M67.5 347.2L69.2 347.3L70.9 347.4L72.7 347.4L74.4 347.5L76.1 347.6L77.8 347.6L79.6 347.7L81.3 347.8L83.0 347.8L84.7 347.9L86.5 348.0L88.2 348.0L89.9 348.1L91.6 348.2L93.4 348.2L95.1 348.3L96.8 348.3L98.5 348.4L100.3 348.5L102.0 348.5L103.7 348.6L105.4 348.6L107.2 348.7L108.9 348.8L110.6 348.8L112.4 348.9L114.1 348.9L115.8 349.0L117.5 349.0L119.3 349.1L121.0 349.2L122.7 349.2L124.4 349.3L126.2 349.4L127.9 349.5L129.6 349.6L131.4 349.6L133.1 349.7L134.8 349.8L136.5 349.9L138.3 350.0L140.0 350.1L141.7 350.2L143.4 350.3L145.2 350.4L146.9 350.4L148.6 350.5L150.3 350.5L152.1 350.5L153.8 350.5L155.5 350.6L157.2 350.6L159.0 350.6L160.7 350.6L162.4 350.7L164.2 350.7L165.9 350.7L167.6 350.7L169.3 350.7L171.1 350.7L172.8 350.7L174.5 350.7L176.2 350.8L178.0 350.8L179.7 350.8L181.4 350.8L183.2 350.7L184.9 350.7L186.6 350.7L188.3 350.6L190.1 350.5L191.8 350.5L193.5 350.4L195.2 350.3L197.0 350.2L198.7 350.1L200.4 350.0L202.1 349.9L203.9 349.8L205.6 349.6L207.3 349.4L209.0 349.2L210.7 349.0L212.4 348.8L214.2 348.6L215.9 348.4L217.6 348.1L219.3 347.8L221.0 347.5L222.7 347.2L224.4 346.9L226.1 346.6L227.8 346.2L229.5 345.9L231.2 345.5L232.8 345.1L234.5 344.8L236.2 344.4L237.9 344.0L239.6 343.6L241.3 343.1L243.0 342.7L244.6 342.3L246.3 341.9L248.0 341.5L249.7 341.1L251.4 340.7L253.0 340.2L254.7 339.6L256.3 338.9L257.9 338.3L259.4 337.6L261.0 336.9L262.6 336.1L264.1 335.3L265.7 334.5L267.2 333.7L268.7 332.8L270.1 331.9L271.6 331.0L273.0 330.0L274.5 329.1L275.9 328.1L277.3 327.1L278.7 326.1L280.1 325.1L281.5 324.0L282.9 323.0L284.2 321.9L285.6 320.8L286.9 319.7L288.2 318.6L289.5 317.5L290.8 316.3L292.1 315.1L293.3 313.9L294.6 312.7L295.8 311.5L297.0 310.2L298.1 308.9L299.3 307.7L300.4 306.4L301.6 305.1L302.7 303.7L303.8 302.4L304.9 301.1L306.0 299.7L307.1 298.4L308.2 297.0L309.2 295.7L310.3 294.3L311.3 292.9L312.3 291.5L313.4 290.1L314.4 288.7L315.4 287.3L316.3 285.9L317.3 284.4L318.3 283.0L319.2 281.6L320.1 280.1L321.0 278.6L321.9 277.1L322.8 275.6L323.6 274.1L324.4 272.6L325.2 271.0L326.0 269.5L326.7 267.9L327.5 266.4L328.2 264.8L328.8 263.2L329.5 261.6L330.2 260.0L330.8 258.4L331.4 256.8L332.0 255.2L332.6 253.5L333.1 251.9L333.6 250.2L334.0 248.6L334.5 246.9L335.0 245.2L335.4 243.5L335.8 241.9L336.2 240.2L336.7 238.5L337.1 236.8L337.5 235.2L337.9 233.5L338.3 231.8L338.6 230.1L339.0 228.4L339.3 226.7L339.7 225.0L340.0 223.3L340.3 221.6L340.6 219.9L340.9 218.2L341.2 216.5L341.5 214.8L341.8 213.1L342.0 211.4L342.3 209.7L342.6 208.0L342.8 206.3L343.0 204.5L343.2 202.8L343.4 201.1L343.5 199.4L343.7 197.7L343.8 195.9L344.0 194.2L344.1 192.5L344.2 190.8L344.3 189.0L344.4 187.3L344.5 185.6L344.6 183.9L344.7 182.1L344.8 180.4L344.9 178.7L344.9 177.0L345.0 175.2L345.1 173.5L345.2 171.8L345.3 170.0L345.4 168.3L345.5 166.6L345.6 164.9L345.7 163.1L345.7 161.4L345.8 159.7L345.8 158.0L345.9 156.2L346.0 154.5L346.0 152.8L346.1 151.0L346.1 149.3L346.2 147.6L346.2 145.9L346.3 144.1L346.3 142.4L346.4 140.7L346.4 138.9L346.5 137.2L346.5 135.5L346.6 133.8L346.6 132.0L346.6 130.3L346.7 128.6L346.7 126.8L346.7 125.1L346.7 123.4L346.7 121.7L346.8 119.9L346.8 118.2L346.8 116.5L346.8 114.7L346.8 113.0L346.8 111.3L346.8 109.6L346.8 107.8L346.8 106.1L346.9 104.4L346.9 102.6L346.9 100.9L346.9 99.2L346.9 97.5L346.9 95.7L346.9 94.0L346.9 92.3L346.9 90.5L346.9 88.8L346.9 87.1L346.9 85.3L346.9 83.6L346.9 81.9L347.0 80.2L347.0 78.4L347.0 76.7L347.0 75.0L347.0 73.2L347.0 71.5L347.0 69.8L347.0 68.1L347.0 66.3L347.0 64.6L347.0 62.9L347.0 61.1L347.0 59.4L347.0 57.7L347.0 56.0L347.0 54.2L347.0 52.5L347.1 50.8L347.1 49.0L347.1 47.3L347.1 45.6L347.1 43.9L347.1 42.1L347.1 40.4L347.1 38.7L347.1 36.9L347.1 35.2L347.1 33.5L347.1 31.7L347.1 30.0L347.1 28.3L347.1 26.6L347.1 24.8L347.1 23.1L347.1 21.4L347.1 19.6L347.1 17.9L347.1 16.2L347.1 14.5L347.1 12.7L347.2 11.0" stroke="#0000ff" stroke-width="1.00"/>
<path d="M67.5 347.5L69.2 347.6L71.0 347.6L72.7 347.7L74.4 347.8L76.1 347.8L77.9 347.9L79.6 348.0L81.3 348.0L83.0 348.1L84.8 348.2L86.5 348.2L88.2 348.3L89.9 348.4L91.7 348.4L93.4 348.5L95.1 348.5L96.8 348.6L98.6 348.7L100.3 348.7L102.0 348.8L103.8 348.9L105.5 348.9L107.2 349.0L109.0 349.1L110.7 349.2L112.4 349.2L114.2 349.3L115.9 349.4L117.6 349.5L119.4 349.5L121.1 349.6L122.8 349.7L124.6 349.8L126.3 349.9L128.0 350.0L129.8 350.1L131.5 350.2L133.2 350.3L135.0 350.5L136.7 350.6L138.5 350.7L140.2 350.9L141.9 350.9L143.6 351.0L145.4 351.1L147.1 351.2L148.8 351.2L150.6 351.3L152.3 351.3L154.0 351.3L155.8 351.3L157.5 351.4L159.2 351.4L161.0 351.4L162.7 351.5L164.4 351.5L166.2 351.5L167.9 351.5L169.6 351.5L171.3 351.5L173.1 351.6L174.8 351.6L176.5 351.6L178.3 351.6L180.0 351.6L181.7 351.6L183.5 351.6L185.2 351.5L186.9 351.5L188.7 351.4L190.4 351.4L192.1 351.3L193.9 351.2L195.6 351.1L197.3 351.1L199.0 351.0L200.8 350.9L202.5 350.8L204.2 350.6L206.0 350.5L207.7 350.3L209.4 350.1L211.1 349.9L212.8 349.7L214.6 349.5L216.3 349.2L218.0 349.0L219.7 348.7L221.4 348.4L223.1 348.1L224.8 347.8L226.5 347.4L228.2 347.1L229.9 346.7L231.6 346.4L233.3 346.0L234.9 345.6L236.6 345.1L238.3 344.7L240.0 344.3L241.6 343.8L243.3 343.4L245.0 343.0L246.7 342.6L248.3 342.1L250.0 341.7L251.6 341.2L253.3 340.6L254.9 340.0L256.5 339.3L258.1 338.6L259.6 337.9L261.2 337.2L262.7 336.4L264.3 335.6L265.8 334.7L267.3 333.9L268.8 333.0L270.3 332.1L271.7 331.2L273.2 330.2L274.6 329.3L276.0 328.3L277.5 327.3L278.9 326.3L280.3 325.3L281.6 324.2L283.0 323.2L284.4 322.1L285.7 321.0L287.0 319.9L288.4 318.8L289.7 317.7L291.0 316.5L292.2 315.3L293.5 314.1L294.7 312.9L295.9 311.7L297.1 310.4L298.3 309.1L299.4 307.9L300.6 306.6L301.7 305.3L302.8 303.9L304.0 302.6L305.1 301.3L306.1 299.9L307.2 298.6L308.3 297.2L309.3 295.8L310.4 294.5L311.4 293.1L312.5 291.7L313.5 290.3L314.5 288.9L315.5 287.5L316.5 286.1L317.5 284.6L318.4 283.2L319.3 281.7L320.2 280.3L321.1 278.8L322.0 277.3L322.9 275.8L323.7 274.3L324.6 272.7L325.3 271.2L326.1 269.7L326.9 268.1L327.6 266.5L328.3 265.0L329.0 263.4L329.6 261.8L330.3 260.2L330.9 258.6L331.6 256.9L332.1 255.3L332.7 253.7L333.2 252.0L333.7 250.4L334.2 248.7L334.6 247.0L335.1 245.4L335.5 243.7L335.9 242.0L336.3 240.3L336.8 238.6L337.2 237.0L337.6 235.3L338.0 233.6L338.3 231.9L338.7 230.2L339.1 228.5L339.4 226.8L339.8 225.1L340.1 223.4L340.4 221.7L340.7 220.0L341.0 218.3L341.2 216.6L341.5 214.9L341.8 213.2L342.1 211.5L342.4 209.8L342.6 208.1L342.9 206.4L343.1 204.6L343.3 202.9L343.5 201.2L343.6 199.5L343.8 197.8L343.9 196.0L344.0 194.3L344.1 192.6L344.2 190.9L344.3 189.1L344.4 187.4L344.5 185.7L344.6 184.0L344.7 182.2L344.8 180.5L344.9 178.8L345.0 177.0L345.1 175.3L345.2 173.6L345.3 171.9L345.4 170.1L345.5 168.4L345.5 166.7L345.6 164.9L345.7 163.2L345.8 161.5L345.8 159.8L345.9 158.0L345.9 156.3L346.0 154.6L346.1 152.8L346.1 151.1L346.2 149.4L346.2 147.7L346.3 145.9L346.3 144.2L346.4 142.5L346.4 140.7L346.5 139.0L346.5 137.3L346.6 135.6L346.6 133.8L346.7 132.1L346.7 130.4L346.7 128.6L346.8 126.9L346.8 125.2L346.8 123.4L346.8 121.7L346.8 120.0L346.8 118.3L346.8 116.5L346.9 114.8L346.9 113.1L346.9 111.3L346.9 109.6L346.9 107.9L346.9 106.1L346.9 104.4L346.9 102.7L346.9 101.0L346.9 99.2L346.9 97.5L347.0 95.8L347.0 94.0L347.0 92.3L347.0 90.6L347.0 88.8L347.0 87.1L347.0 85.4L347.0 83.7L347.0 81.9L347.0 80.2L347.0 78.5L347.0 76.7L347.0 75.0L347.0 73.3L347.0 71.5L347.0 69.8L347.1 68.1L347.1 66.4L347.1 64.6L347.1 62.9L347.1 61.2L347.1 59.4L347.1 57.7L347.1 56.0L347.1 54.2L347.1 52.5L347.1 50.8L347.1 49.1L347.1 47.3L347.1 45.6L347.1 43.9L347.1 42.1L347.1 40.4L347.1 38.7L347.2 36.9L347.2 35.2L347.2 33.5L347.2 31.8L347.2 30.0L347.2 28.3L347.2 26.6L347.2 24.8L347.2 23.1L347.2 21.4L347.2 19.6L347.2 17.9L347.2 16.2L347.2 14.5L347.2 12.7L347.2 11.0" stroke="#0000ff" stroke-width="1.00"/>
<path d="M67.5 349.0L69.2 349.1L71.0 349.1L72.7 349.2L74.4 349.2L76.2 349.3L77.9 349.3L79.7 349.4L81.4 349.4L83.1 349.5L84.9 349.5L86.6 349.6L88.3 349.6L90.1 349.7L91.8 349.7L93.5 349.8L95.3 349.8L97.0 349.9L98.7 349.9L100.5 349.9L102.2 350.0L104.0 350.0L105.7 350.1L107.4 350.1L109.2 350.2L110.9 350.2L112.6 350.3L114.4 350.3L116.1 350.3L117.8 350.4L119.6 350.4L121.3 350.5L123.0 350.6L124.8 350.6L126.5 350.7L128.3 350.8L130.0 350.9L131.7 351.0L133.5 351.1L135.2 351.2L136.9 351.3L138.7 351.5L140.4 351.6L142.1 351.7L143.9 351.8L145.6 351.8L147.3 351.9L149.1 352.0L150.8 352.0L152.5 352.1L154.3 352.1L156.0 352.1L157.7 352.2L159.5 352.2L161.2 352.2L162.9 352.2L164.7 352.3L166.4 352.3L168.2 352.3L169.9 352.3L171.6 352.4L173.4 352.4L175.1 352.4L176.8 352.4L178.6 352.4L180.3 352.4L182.0 352.4L183.8 352.4L185.5 352.3L187.3 352.3L189.0 352.2L190.7 352.2L192.5 352.1L194.2 352.1L195.9 352.0L197.7 351.9L199.4 351.8L201.1 351.7L202.9 351.6L204.6 351.5L206.3 351.3L208.1 351.2L209.8 351.0L211.5 350.8L213.2 350.6L215.0 350.3L216.7 350.1L218.4 349.8L220.1 349.5L221.8 349.2L223.5 348.9L225.2 348.6L226.9 348.3L228.6 348.0L230.3 347.6L232.0 347.3L233.7 346.9L235.4 346.5L237.1 346.1L238.8 345.7L240.5 345.3L242.2 344.9L243.9 344.5L245.6 344.1L247.3 343.8L249.0 343.4L250.7 343.0L252.3 342.5L254.0 342.0L255.6 341.3L257.2 340.7L258.8 340.0L260.4 339.3L262.0 338.6L263.6 337.9L265.1 337.1L266.6 336.3L268.1 335.4L269.6 334.5L271.1 333.6L272.6 332.6L274.0 331.7L275.5 330.7L276.9 329.7L278.3 328.7L279.7 327.7L281.1 326.7L282.5 325.6L283.9 324.6L285.3 323.5L286.6 322.4L288.0 321.3L289.3 320.2L290.6 319.1L291.9 317.9L293.2 316.7L294.4 315.5L295.7 314.3L296.9 313.1L298.1 311.8L299.3 310.5L300.4 309.3L301.6 307.9L302.7 306.6L303.8 305.3L304.9 304.0L306.0 302.6L307.1 301.3L308.2 299.9L309.3 298.5L310.3 297.2L311.4 295.8L312.4 294.4L313.4 293.0L314.5 291.6L315.5 290.2L316.5 288.7L317.4 287.3L318.4 285.9L319.4 284.4L320.3 282.9L321.2 281.5L322.1 280.0L323.0 278.5L323.8 277.0L324.7 275.4L325.5 273.9L326.3 272.4L327.1 270.8L327.8 269.3L328.6 267.7L329.3 266.1L329.9 264.5L330.6 262.9L331.2 261.2L331.8 259.6L332.4 258.0L333.0 256.4L333.5 254.7L334.0 253.1L334.5 251.4L335.0 249.7L335.4 248.0L335.8 246.3L336.2 244.6L336.6 242.9L337.0 241.3L337.4 239.6L337.8 237.9L338.2 236.2L338.6 234.5L338.9 232.8L339.3 231.1L339.6 229.4L339.9 227.7L340.2 226.0L340.5 224.3L340.8 222.5L341.1 220.8L341.4 219.1L341.7 217.4L341.9 215.7L342.2 214.0L342.5 212.3L342.8 210.5L343.1 208.8L343.3 207.1L343.5 205.4L343.7 203.7L343.9 201.9L344.1 200.2L344.2 198.5L344.3 196.7L344.4 195.0L344.5 193.3L344.6 191.5L344.8 189.8L344.9 188.1L345.0 186.3L345.1 184.6L345.1 182.9L345.2 181.1L345.3 179.4L345.4 177.7L345.5 175.9L345.6 174.2L345.7 172.5L345.8 170.7L345.8 169.0L345.9 167.3L346.0 165.5L346.1 163.8L346.1 162.1L346.2 160.3L346.2 158.6L346.3 156.9L346.4 155.1L346.4 153.4L346.5 151.6L346.5 149.9L346.6 148.2L346.6 146.4L346.7 144.7L346.7 143.0L346.8 141.2L346.8 139.5L346.9 137.8L347.0 136.0L347.0 134.3L347.1 132.6L347.1 130.8L347.1 129.1L347.2 127.3L347.2 125.6L347.2 123.9L347.2 122.1L347.2 120.4L347.2 118.7L347.3 116.9L347.3 115.2L347.3 113.5L347.3 111.7L347.3 110.0L347.3 108.2L347.3 106.5L347.3 104.8L347.3 103.0L347.3 101.3L347.3 99.6L347.3 97.8L347.3 96.1L347.4 94.4L347.4 92.6L347.4 90.9L347.4 89.1L347.4 87.4L347.4 85.7L347.4 83.9L347.4 82.2L347.4 80.5L347.4 78.7L347.4 77.0L347.4 75.3L347.4 73.5L347.4 71.8L347.4 70.0L347.4 68.3L347.4 66.6L347.5 64.8L347.5 63.1L347.5 61.4L347.5 59.6L347.5 57.9L347.5 56.1L347.5 54.4L347.5 52.7L347.5 50.9L347.5 49.2L347.5 47.5L347.5 45.7L347.5 44.0L347.5 42.3L347.5 40.5L347.5 38.8L347.5 37.0L347.5 35.3L347.5 33.6L347.6 31.8L347.6 30.1L347.6 28.4L347.6 26.6L347.6 24.9L347.6 23.2L347.6 21.4L347.6 19.7L347.6 17.9L347.6 16.2L347.6 14.5L347.6 12.7L347.6 11.0" stroke="#0000ff" stroke-width="1.00"/>
<path d="M349.9 11.0L349.9 12.5L349.9 14.0L349.9 15.5L349.9 17.0L349.9 18.5L349.9 20.0L349.9 21.5L349.9 23.0L349.9 24.5L349.9 26.0L350.0 27.5L350.0 29.0L350.0 30.5L350.0 31.9L350.0 33.4L350.0 34.9L350.0 36.4L350.1 37.9L350.1 39.4L350.1 40.9L350.1 42.4L350.1 43.9L350.1 45.4L350.2 46.9L350.2 48.4L350.2 49.9L350.2 51.4L350.3 52.9L350.3 54.4L350.4 55.9L350.4 57.4L350.5 58.9L350.6 60.4L350.6 61.9L350.7 63.3L350.8 64.8L350.9 66.3L351.0 67.8L351.1 69.3L351.2 70.8L351.3 72.3L351.4 73.8L351.5 75.3L351.6 76.8L351.7 78.3L351.9 79.8L352.0 81.3L352.1 82.8L352.3 84.3L352.5 85.8L352.7 87.2L352.9 88.7L353.1 90.2L353.5 91.6L353.9 93.1L354.5 94.5L355.1 95.8L355.8 97.1L356.7 98.4L357.7 99.5L358.8 100.4L360.2 101.2L361.6 101.8L363.0 102.0L364.5 101.8L366.0 101.5L367.4 101.1L368.9 100.7L370.3 100.2L371.6 99.6L372.9 98.9L374.2 98.1L375.5 97.3L376.7 96.4L378.0 95.6L379.3 94.8L380.6 94.1L382.0 93.4L383.3 92.7L384.6 92.0L386.0 91.4L387.3 90.8L388.7 90.2L390.1 89.6L391.5 89.1L392.9 88.6L394.3 88.1L395.7 87.7L397.2 87.3L398.7 87.0L400.1 86.7L401.6 86.4L403.1 86.0L404.5 85.7L406.0 85.4L407.5 85.4L409.0 85.6L410.5 85.9L411.9 86.2L413.3 86.6L414.7 87.2L416.0 87.9L417.4 88.6L418.7 89.4L420.0 90.1L421.3 90.9L422.5 91.7L423.8 92.5L425.0 93.4L426.2 94.3L427.4 95.1L428.6 96.0L429.8 96.9L431.0 97.8L432.2 98.8L433.3 99.7L434.4 100.7L435.5 101.8L436.5 102.8L437.6 103.9L438.6 105.0L439.6 106.1L440.7 107.2L441.7 108.2L442.8 109.3L443.9 110.3L444.9 111.4L446.0 112.5L447.0 113.5L448.1 114.6L449.1 115.7L450.1 116.8L451.1 117.9L452.1 119.0L453.1 120.1L454.1 121.2L455.1 122.3L456.1 123.5L457.1 124.6L458.0 125.8L459.0 126.9L459.9 128.1L460.9 129.2L461.8 130.4L462.7 131.6L463.7 132.8L464.6 133.9L465.5 135.1L466.4 136.3L467.4 137.5L468.3 138.6L469.2 139.8L470.2 141.0L471.1 142.1L472.1 143.3L473.0 144.4L474.0 145.5L475.0 146.6L476.1 147.8L477.1 148.9L478.1 150.0L479.1 151.1L480.1 152.2L481.0 153.4L482.0 154.5L482.9 155.7L483.8 156.9L484.7 158.1L485.5 159.3L486.3 160.5L487.1 161.8L487.9 163.1L488.7 164.3L489.4 165.6L490.2 166.9L490.9 168.2L491.6 169.5L492.4 170.9L493.1 172.2L493.8 173.5L494.6 174.8L495.3 176.1L496.1 177.4L496.8 178.7L497.6 180.0L498.4 181.3L499.1 182.5L499.9 183.8L500.7 185.1L501.5 186.4L502.3 187.6L503.1 188.9L503.8 190.2L504.6 191.5L505.4 192.7L506.2 194.0L507.0 195.3L507.7 196.6L508.5 197.8L509.3 199.1L510.0 200.4L510.8 201.7L511.5 203.0L512.3 204.3L513.0 205.6L513.8 206.9L514.5 208.2L515.2 209.5L515.9 210.8L516.7 212.1L517.4 213.4L518.2 214.7L518.9 216.0L519.7 217.3L520.4 218.6L521.2 219.9L522.0 221.1L522.8 222.4L523.6 223.7L524.4 224.9L525.2 226.2L526.0 227.4L526.8 228.7L527.7 229.9L528.5 231.2L529.3 232.4L530.2 233.7L531.0 234.9L531.8 236.2L532.7 237.4L533.5 238.6L534.4 239.9L535.3 241.1L536.1 242.3L537.0 243.5L537.8 244.8L538.7 246.0L539.6 247.2L540.4 248.4L541.3 249.6L542.2 250.8L543.1 252.0L544.0 253.2L544.9 254.4L545.8 255.6L546.7 256.8L547.6 258.0L548.5 259.2L549.4 260.4L550.3 261.5L551.3 262.7L552.2 263.9L553.1 265.1L554.0 266.2L555.0 267.4L555.9 268.6L556.8 269.8L557.7 271.0L558.7 272.1L559.6 273.3L560.5 274.5L561.4 275.7L562.3 276.9L563.2 278.1L564.2 279.2L565.2 280.4L566.2 281.5L567.2 282.6L568.2 283.6L569.2 284.7L570.3 285.8L571.3 286.8L572.4 287.9L573.5 288.9L574.6 289.9L575.7 291.0L576.8 292.0L577.9 293.0L579.0 294.0L580.2 294.9L581.3 295.9L582.5 296.9L583.6 297.8L584.8 298.7L586.0 299.7L587.1 300.6L588.3 301.5L589.5 302.5L590.6 303.4L591.8 304.3L593.0 305.3L594.2 306.2L595.3 307.1L596.5 308.0L597.7 309.0L598.9 309.9L600.1 310.8L601.3 311.7L602.4 312.6L603.6 313.5L604.8 314.4L606.1 315.3L607.3 316.1L608.5 316.9L609.8 317.8L611.0 318.6L612.3 319.4L613.6 320.1L614.9 320.9L616.2 321.6L617.5 322.3L618.8 323.0L620.2 323.7L621.5 324.4L622.8 325.0L624.2 325.7L625.5 326.3L626.9 326.9L628.3 327.5" stroke="#0000ff" stroke-width="1.00"/>
<path d="M349.8 11.0L349.8 12.5L349.8 14.0L349.8 15.5L349.8 17.0L349.8 18.5L349.8 20.0L349.8 21.5L349.8 23.0L349.8 24.5L349.8 26.1L349.8 27.6L349.9 29.1L349.9 30.6L349.9 32.1L349.9 33.6L349.9 35.1L349.9 36.6L349.9 38.1L350.0 39.6L350.0 41.1L350.0 42.6L350.0 44.1L350.0 45.6L350.0 47.1L350.1 48.6L350.1 50.1L350.1 51.6L350.1 53.1L350.2 54.6L350.2 56.1L350.3 57.6L350.3 59.1L350.4 60.6L350.4 62.2L350.5 63.7L350.6 65.2L350.6 66.7L350.7 68.2L350.8 69.7L350.9 71.2L351.0 72.7L351.0 74.2L351.1 75.7L351.2 77.2L351.3 78.7L351.4 80.2L351.5 81.7L351.6 83.2L351.8 84.7L351.9 86.2L352.1 87.7L352.2 89.2L352.5 90.6L352.8 92.1L353.2 93.6L353.6 95.0L354.2 96.4L354.8 97.8L355.5 99.1L356.4 100.3L357.3 101.3L358.4 102.3L359.6 103.2L360.8 103.6L362.1 103.8L363.4 104.0L364.7 104.0L366.1 103.9L367.5 103.7L368.9 103.3L370.3 102.8L371.7 102.1L373.0 101.3L374.4 100.5L375.7 99.7L377.1 98.9L378.5 98.2L379.8 97.4L381.2 96.6L382.6 95.9L384.0 95.2L385.4 94.5L386.8 93.8L388.2 93.1L389.6 92.5L391.0 91.9L392.4 91.4L393.8 90.9L395.2 90.5L396.6 90.1L398.1 89.7L399.6 89.3L401.0 89.0L402.5 88.5L403.9 88.2L405.4 88.1L406.9 88.2L408.3 88.3L409.8 88.5L411.2 88.8L412.6 89.2L414.0 89.7L415.3 90.3L416.7 90.9L418.0 91.5L419.3 92.1L420.6 92.7L421.9 93.5L423.2 94.2L424.5 95.0L425.7 95.7L427.0 96.5L428.3 97.3L429.5 98.2L430.7 99.1L431.9 100.0L433.0 100.9L434.1 101.9L435.2 102.9L436.3 104.0L437.3 105.1L438.4 106.1L439.5 107.2L440.6 108.2L441.7 109.2L442.7 110.3L443.8 111.3L444.9 112.4L445.9 113.4L447.0 114.5L448.0 115.6L449.0 116.7L450.0 117.8L451.0 118.9L452.0 120.0L453.0 121.1L454.0 122.2L455.0 123.4L455.9 124.5L456.9 125.6L457.8 126.8L458.8 128.0L459.7 129.2L460.6 130.3L461.5 131.5L462.4 132.7L463.3 133.9L464.2 135.1L465.1 136.3L466.0 137.5L466.9 138.7L467.8 139.9L468.7 141.1L469.6 142.3L470.5 143.5L471.5 144.6L472.4 145.8L473.4 147.0L474.3 148.2L475.2 149.3L476.2 150.5L477.1 151.7L478.0 152.8L479.0 154.0L479.9 155.2L480.7 156.4L481.6 157.6L482.4 158.9L483.3 160.1L484.1 161.4L484.9 162.6L485.7 163.9L486.4 165.2L487.2 166.5L488.0 167.8L488.7 169.1L489.5 170.4L490.2 171.7L491.0 173.0L491.8 174.3L492.5 175.6L493.3 176.9L494.0 178.2L494.8 179.5L495.6 180.8L496.4 182.1L497.2 183.4L498.0 184.7L498.8 186.0L499.5 187.2L500.3 188.5L501.1 189.8L501.9 191.1L502.7 192.4L503.5 193.7L504.3 195.0L505.1 196.2L505.8 197.5L506.6 198.8L507.4 200.1L508.2 201.4L508.9 202.7L509.7 204.0L510.4 205.3L511.2 206.6L511.9 208.0L512.7 209.3L513.4 210.6L514.2 211.9L514.9 213.2L515.7 214.5L516.5 215.8L517.2 217.1L518.0 218.4L518.8 219.7L519.6 220.9L520.4 222.2L521.2 223.5L522.1 224.7L522.9 226.0L523.7 227.3L524.6 228.5L525.4 229.8L526.3 231.0L527.1 232.3L528.0 233.5L528.9 234.7L529.7 236.0L530.6 237.2L531.5 238.5L532.4 239.7L533.2 240.9L534.1 242.1L535.0 243.4L535.9 244.6L536.8 245.8L537.7 247.0L538.6 248.3L539.4 249.5L540.3 250.7L541.2 251.9L542.2 253.1L543.1 254.3L544.0 255.5L544.9 256.7L545.8 257.9L546.8 259.1L547.7 260.3L548.6 261.5L549.6 262.7L550.5 263.9L551.4 265.1L552.3 266.3L553.3 267.5L554.2 268.7L555.1 269.9L556.0 271.1L556.9 272.3L557.8 273.5L558.7 274.8L559.6 276.0L560.5 277.2L561.4 278.4L562.4 279.6L563.3 280.7L564.3 281.9L565.3 283.0L566.4 284.1L567.4 285.2L568.5 286.3L569.5 287.3L570.6 288.4L571.7 289.4L572.8 290.5L574.0 291.5L575.1 292.5L576.2 293.5L577.4 294.5L578.5 295.5L579.6 296.5L580.8 297.5L581.9 298.5L583.1 299.5L584.3 300.4L585.4 301.4L586.6 302.3L587.8 303.3L589.0 304.2L590.2 305.2L591.4 306.1L592.5 307.1L593.7 308.0L594.9 308.9L596.1 309.9L597.3 310.8L598.5 311.7L599.7 312.7L600.9 313.6L602.1 314.5L603.3 315.4L604.5 316.3L605.8 317.2L607.0 318.1L608.3 319.0L609.5 319.8L610.8 320.6L612.1 321.4L613.4 322.2L614.7 323.0L616.0 323.7L617.3 324.5L618.7 325.2L620.0 325.9L621.4 326.5L622.7 327.2L624.1 327.8L625.5 328.5L626.9 329.1L628.3 329.7" stroke="#0000ff" stroke-width="1.00"/>
<path d="M349.8 11.0L349.8 12.5L349.8 14.0L349.8 15.5L349.8 17.0L349.8 18.5L349.8 20.0L349.8 21.5L349.8 23.1L349.8 24.6L349.8 26.1L349.8 27.6L349.8 29.1L349.8 30.6L349.9 32.1L349.9 33.6L349.9 35.1L349.9 36.6L349.9 38.1L349.9 39.6L349.9 41.1L350.0 42.6L350.0 44.1L350.0 45.6L350.0 47.1L350.0 48.6L350.1 50.2L350.1 51.7L350.1 53.2L350.1 54.7L350.2 56.2L350.2 57.7L350.3 59.2L350.3 60.7L350.4 62.2L350.5 63.7L350.5 65.2L350.6 66.7L350.7 68.2L350.8 69.7L350.8 71.2L350.9 72.7L351.0 74.2L351.1 75.7L351.2 77.2L351.2 78.8L351.3 80.3L351.4 81.8L351.6 83.3L351.7 84.8L351.8 86.3L352.0 87.8L352.1 89.2L352.4 90.7L352.6 92.2L353.0 93.7L353.5 95.1L354.0 96.5L354.6 97.9L355.4 99.2L356.2 100.4L357.1 101.5L358.2 102.5L359.3 103.4L360.5 103.9L361.7 104.2L363.0 104.4L364.3 104.5L365.7 104.4L367.1 104.2L368.5 103.9L369.9 103.4L371.3 102.7L372.6 102.0L374.0 101.2L375.4 100.3L376.8 99.5L378.1 98.8L379.5 98.0L380.9 97.3L382.3 96.5L383.6 95.8L385.0 95.0L386.4 94.3L387.9 93.6L389.3 93.0L390.6 92.4L392.0 91.9L393.5 91.4L394.9 91.0L396.3 90.6L397.8 90.2L399.2 89.8L400.7 89.4L402.1 89.0L403.6 88.7L405.1 88.5L406.5 88.6L408.0 88.7L409.4 88.9L410.9 89.1L412.3 89.5L413.6 90.0L415.0 90.6L416.4 91.1L417.7 91.7L419.0 92.3L420.3 92.9L421.6 93.6L422.9 94.3L424.2 95.1L425.5 95.8L426.7 96.6L428.0 97.4L429.2 98.3L430.4 99.1L431.6 100.0L432.8 100.9L433.9 101.9L435.0 103.0L436.0 104.0L437.1 105.1L438.2 106.1L439.3 107.2L440.4 108.2L441.4 109.2L442.5 110.3L443.6 111.3L444.6 112.3L445.7 113.4L446.7 114.5L447.7 115.5L448.7 116.6L449.7 117.7L450.7 118.8L451.7 119.9L452.6 121.0L453.6 122.2L454.5 123.3L455.5 124.4L456.4 125.6L457.3 126.8L458.3 127.9L459.2 129.1L460.1 130.3L461.0 131.5L461.8 132.7L462.7 133.9L463.6 135.1L464.5 136.3L465.3 137.5L466.2 138.7L467.1 139.9L468.0 141.2L468.8 142.4L469.7 143.6L470.6 144.8L471.5 146.0L472.4 147.2L473.3 148.4L474.2 149.6L475.0 150.8L475.9 152.0L476.8 153.2L477.7 154.4L478.5 155.7L479.4 156.9L480.2 158.1L481.0 159.4L481.8 160.7L482.6 161.9L483.4 163.2L484.1 164.5L484.9 165.8L485.7 167.1L486.4 168.4L487.2 169.7L488.0 171.0L488.7 172.3L489.5 173.6L490.3 174.9L491.1 176.2L491.8 177.5L492.6 178.8L493.4 180.1L494.2 181.4L495.0 182.7L495.8 184.0L496.6 185.3L497.4 186.6L498.2 187.8L499.0 189.1L499.8 190.4L500.6 191.7L501.4 193.0L502.2 194.3L503.0 195.6L503.8 196.9L504.6 198.2L505.3 199.5L506.1 200.8L506.9 202.1L507.7 203.4L508.4 204.7L509.2 206.0L510.0 207.3L510.7 208.7L511.5 210.0L512.2 211.3L513.0 212.6L513.8 213.9L514.6 215.2L515.3 216.5L516.1 217.8L516.9 219.1L517.8 220.4L518.6 221.6L519.4 222.9L520.3 224.2L521.1 225.4L522.0 226.7L522.8 227.9L523.7 229.2L524.5 230.4L525.4 231.7L526.3 232.9L527.2 234.2L528.1 235.4L528.9 236.6L529.8 237.9L530.7 239.1L531.6 240.3L532.5 241.6L533.4 242.8L534.3 244.0L535.2 245.2L536.1 246.5L537.0 247.7L537.9 248.9L538.8 250.1L539.8 251.4L540.7 252.6L541.6 253.8L542.5 255.0L543.5 256.2L544.4 257.4L545.3 258.6L546.3 259.8L547.2 261.0L548.2 262.2L549.1 263.4L550.0 264.6L551.0 265.8L551.9 267.0L552.8 268.2L553.8 269.4L554.7 270.6L555.6 271.8L556.5 273.1L557.4 274.3L558.2 275.5L559.1 276.8L560.0 278.0L561.0 279.2L561.9 280.4L562.9 281.5L563.9 282.7L564.9 283.8L565.9 284.9L567.0 286.0L568.1 287.0L569.2 288.1L570.3 289.1L571.4 290.2L572.5 291.2L573.7 292.3L574.8 293.3L575.9 294.3L577.1 295.3L578.2 296.3L579.4 297.3L580.5 298.3L581.7 299.3L582.9 300.2L584.0 301.2L585.2 302.2L586.4 303.1L587.6 304.1L588.8 305.0L590.0 306.0L591.2 306.9L592.4 307.9L593.6 308.8L594.8 309.7L596.0 310.7L597.2 311.6L598.4 312.5L599.6 313.4L600.8 314.4L602.0 315.3L603.2 316.2L604.4 317.1L605.7 318.0L606.9 318.9L608.2 319.7L609.4 320.6L610.7 321.4L612.0 322.2L613.3 323.0L614.6 323.8L615.9 324.5L617.3 325.2L618.6 325.9L620.0 326.6L621.3 327.3L622.7 328.0L624.1 328.6L625.5 329.2L626.9 329.8L628.3 330.4" stroke="#0000ff" stroke-width="1.00"/>
<path d="M349.6 11.0L349.6 12.5L349.6 14.0L349.6 15.5L349.6 17.1L349.7 18.6L349.7 20.1L349.7 21.6L349.7 23.1L349.7 24.6L349.7 26.2L349.7 27.7L349.7 29.2L349.7 30.7L349.7 32.2L349.8 33.7L349.8 35.2L349.8 36.8L349.8 38.3L349.8 39.8L349.8 41.3L349.8 42.8L349.9 44.3L349.9 45.8L349.9 47.4L349.9 48.9L349.9 50.4L349.9 51.9L350.0 53.4L350.0 54.9L350.0 56.5L350.1 58.0L350.1 59.5L350.1 61.0L350.2 62.5L350.2 64.0L350.3 65.5L350.3 67.1L350.4 68.6L350.4 70.1L350.5 71.6L350.6 73.1L350.6 74.6L350.7 76.1L350.7 77.7L350.8 79.2L350.9 80.7L351.0 82.2L351.0 83.7L351.1 85.2L351.2 86.7L351.3 88.2L351.5 89.7L351.7 91.2L351.9 92.7L352.2 94.2L352.6 95.7L353.1 97.1L353.6 98.5L354.1 99.9L354.8 101.3L355.5 102.5L356.4 103.7L357.3 104.8L358.2 105.6L359.2 106.3L360.3 106.9L361.5 107.5L362.8 107.8L364.2 107.8L365.7 107.8L367.2 107.4L368.7 106.9L370.1 106.2L371.6 105.4L373.0 104.5L374.5 103.7L375.9 102.9L377.4 102.1L378.8 101.2L380.2 100.4L381.6 99.5L383.0 98.7L384.5 97.9L385.9 97.1L387.3 96.4L388.7 95.7L390.1 95.1L391.5 94.6L392.9 94.1L394.3 93.6L395.7 93.2L397.2 92.8L398.6 92.3L400.1 91.9L401.5 91.5L403.0 91.2L404.4 91.1L405.9 91.2L407.3 91.2L408.8 91.3L410.2 91.5L411.6 91.8L413.0 92.2L414.3 92.6L415.7 93.1L417.1 93.5L418.4 94.0L419.8 94.5L421.1 95.2L422.5 95.8L423.8 96.4L425.1 97.1L426.4 97.8L427.7 98.6L428.9 99.4L430.2 100.2L431.4 101.1L432.5 102.1L433.6 103.1L434.7 104.1L435.9 105.1L437.0 106.1L438.1 107.1L439.2 108.1L440.3 109.2L441.4 110.2L442.5 111.2L443.6 112.2L444.6 113.3L445.7 114.3L446.7 115.4L447.7 116.5L448.7 117.6L449.7 118.7L450.7 119.8L451.7 120.9L452.7 122.1L453.6 123.2L454.6 124.4L455.5 125.5L456.5 126.7L457.4 127.9L458.3 129.1L459.2 130.3L460.1 131.5L461.0 132.7L461.8 133.9L462.7 135.1L463.6 136.3L464.5 137.6L465.3 138.8L466.2 140.0L467.1 141.2L467.9 142.5L468.8 143.7L469.7 144.9L470.5 146.2L471.4 147.4L472.3 148.6L473.1 149.8L474.0 151.1L474.9 152.3L475.7 153.5L476.6 154.8L477.4 156.0L478.3 157.3L479.1 158.5L479.9 159.8L480.7 161.1L481.5 162.3L482.3 163.6L483.1 164.9L483.9 166.2L484.7 167.5L485.5 168.8L486.2 170.1L487.0 171.4L487.8 172.7L488.6 174.0L489.4 175.3L490.2 176.6L491.0 177.9L491.8 179.2L492.6 180.4L493.4 181.7L494.2 183.0L495.0 184.3L495.8 185.6L496.7 186.9L497.5 188.2L498.3 189.5L499.1 190.8L499.9 192.1L500.7 193.3L501.5 194.6L502.3 195.9L503.1 197.2L503.9 198.5L504.7 199.8L505.5 201.1L506.3 202.4L507.0 203.7L507.8 205.1L508.6 206.4L509.4 207.7L510.1 209.0L510.9 210.3L511.7 211.6L512.4 212.9L513.2 214.2L514.0 215.5L514.8 216.8L515.6 218.1L516.4 219.4L517.3 220.7L518.1 221.9L519.0 223.2L519.8 224.5L520.7 225.7L521.5 227.0L522.4 228.2L523.3 229.5L524.2 230.7L525.0 232.0L525.9 233.2L526.8 234.4L527.7 235.7L528.6 236.9L529.5 238.1L530.4 239.4L531.3 240.6L532.2 241.8L533.1 243.0L534.1 244.3L535.0 245.5L535.9 246.7L536.8 247.9L537.7 249.2L538.6 250.4L539.5 251.6L540.5 252.8L541.4 254.0L542.3 255.2L543.3 256.4L544.2 257.6L545.2 258.8L546.1 260.0L547.0 261.2L548.0 262.4L548.9 263.6L549.9 264.8L550.8 266.0L551.7 267.2L552.7 268.4L553.6 269.6L554.5 270.9L555.4 272.1L556.3 273.3L557.2 274.6L558.1 275.8L558.9 277.1L559.9 278.3L560.8 279.5L561.7 280.7L562.7 281.9L563.7 283.0L564.7 284.1L565.8 285.2L566.8 286.3L567.9 287.4L569.0 288.4L570.1 289.5L571.3 290.5L572.4 291.5L573.5 292.6L574.7 293.6L575.8 294.6L577.0 295.6L578.1 296.6L579.3 297.6L580.4 298.6L581.6 299.6L582.8 300.6L583.9 301.5L585.1 302.5L586.3 303.5L587.5 304.4L588.7 305.4L589.9 306.3L591.1 307.3L592.3 308.2L593.5 309.2L594.7 310.1L595.9 311.0L597.1 311.9L598.3 312.9L599.5 313.8L600.7 314.7L601.9 315.7L603.1 316.6L604.4 317.5L605.6 318.4L606.9 319.3L608.1 320.1L609.4 321.0L610.7 321.8L612.0 322.6L613.3 323.4L614.6 324.2L615.9 324.9L617.2 325.6L618.6 326.3L619.9 327.0L621.3 327.7L622.7 328.4L624.1 329.0L625.5 329.6L626.9 330.2L628.3 330.8" stroke="#0000ff" stroke-width="1.00"/>
<path d="M349.5 11.0L349.5 12.5L349.5 14.0L349.5 15.6L349.5 17.1L349.5 18.6L349.6 20.1L349.6 21.7L349.6 23.2L349.6 24.7L349.6 26.2L349.6 27.8L349.6 29.3L349.6 30.8L349.6 32.3L349.7 33.8L349.7 35.4L349.7 36.9L349.7 38.4L349.7 39.9L349.7 41.5L349.7 43.0L349.8 44.5L349.8 46.0L349.8 47.5L349.8 49.1L349.8 50.6L349.8 52.1L349.9 53.6L349.9 55.2L349.9 56.7L349.9 58.2L349.9 59.7L350.0 61.3L350.0 62.8L350.0 64.3L350.1 65.8L350.1 67.4L350.1 68.9L350.2 70.4L350.2 71.9L350.3 73.4L350.3 75.0L350.3 76.5L350.4 78.0L350.4 79.5L350.5 81.1L350.5 82.6L350.6 84.1L350.7 85.6L350.7 87.1L350.8 88.6L350.9 90.2L351.1 91.7L351.3 93.2L351.6 94.7L351.9 96.2L352.3 97.6L352.7 99.1L353.1 100.5L353.6 102.0L354.2 103.3L354.8 104.7L355.5 105.9L356.3 107.0L357.1 108.0L358.1 109.1L359.1 110.0L360.4 110.6L361.8 110.8L363.4 110.8L365.1 110.6L366.7 110.0L368.2 109.3L369.8 108.4L371.4 107.5L372.9 106.6L374.5 105.7L376.0 104.7L377.5 103.7L379.0 102.7L380.4 101.7L381.9 100.7L383.4 99.8L385.0 98.8L386.4 98.0L387.8 97.3L389.1 96.7L390.5 96.1L391.9 95.6L393.4 95.1L394.8 94.6L396.2 94.2L397.7 93.7L399.1 93.2L400.5 92.8L402.0 92.5L403.4 92.4L404.8 92.4L406.2 92.4L407.7 92.4L409.1 92.6L410.4 92.8L411.8 93.2L413.2 93.5L414.6 93.8L416.0 94.2L417.3 94.6L418.7 95.1L420.0 95.7L421.4 96.2L422.7 96.8L424.0 97.4L425.4 98.1L426.7 98.8L427.9 99.6L429.2 100.4L430.4 101.2L431.5 102.2L432.7 103.1L433.8 104.1L435.0 105.1L436.1 106.1L437.2 107.1L438.3 108.1L439.4 109.1L440.5 110.1L441.6 111.1L442.7 112.2L443.8 113.2L444.9 114.3L445.9 115.3L446.9 116.4L448.0 117.5L449.0 118.6L450.0 119.7L451.0 120.9L452.0 122.0L452.9 123.1L453.9 124.3L454.8 125.5L455.8 126.6L456.7 127.8L457.6 129.0L458.5 130.2L459.4 131.4L460.3 132.7L461.2 133.9L462.0 135.1L462.9 136.3L463.8 137.6L464.6 138.8L465.5 140.1L466.3 141.3L467.2 142.5L468.0 143.8L468.9 145.0L469.7 146.3L470.6 147.5L471.4 148.8L472.3 150.0L473.1 151.3L474.0 152.5L474.8 153.8L475.7 155.0L476.5 156.3L477.3 157.6L478.2 158.8L479.0 160.1L479.8 161.4L480.6 162.7L481.4 164.0L482.2 165.3L483.0 166.5L483.8 167.8L484.6 169.1L485.4 170.4L486.2 171.7L487.0 173.0L487.8 174.3L488.6 175.6L489.5 176.9L490.3 178.2L491.1 179.5L491.9 180.7L492.7 182.0L493.5 183.3L494.4 184.6L495.2 185.9L496.0 187.2L496.8 188.5L497.6 189.8L498.4 191.1L499.2 192.4L500.1 193.7L500.9 194.9L501.7 196.2L502.5 197.5L503.3 198.8L504.1 200.1L504.9 201.4L505.7 202.7L506.5 204.0L507.2 205.4L508.0 206.7L508.8 208.0L509.6 209.3L510.4 210.6L511.1 211.9L511.9 213.2L512.7 214.5L513.5 215.8L514.3 217.1L515.1 218.4L516.0 219.7L516.8 221.0L517.7 222.2L518.5 223.5L519.4 224.8L520.3 226.0L521.1 227.3L522.0 228.5L522.9 229.8L523.8 231.0L524.7 232.2L525.6 233.5L526.5 234.7L527.4 235.9L528.3 237.2L529.2 238.4L530.1 239.6L531.0 240.8L532.0 242.1L532.9 243.3L533.8 244.5L534.7 245.7L535.6 247.0L536.6 248.2L537.5 249.4L538.4 250.6L539.3 251.8L540.3 253.0L541.2 254.3L542.1 255.5L543.1 256.7L544.0 257.9L545.0 259.1L545.9 260.3L546.9 261.5L547.8 262.7L548.8 263.9L549.7 265.1L550.6 266.3L551.6 267.5L552.5 268.7L553.4 269.9L554.3 271.1L555.2 272.4L556.1 273.6L557.0 274.9L557.9 276.1L558.8 277.4L559.7 278.6L560.6 279.8L561.5 281.0L562.5 282.2L563.5 283.3L564.6 284.4L565.6 285.5L566.7 286.6L567.8 287.7L568.9 288.7L570.0 289.8L571.1 290.8L572.2 291.9L573.4 292.9L574.5 293.9L575.7 294.9L576.9 295.9L578.0 296.9L579.2 297.9L580.3 298.9L581.5 299.9L582.6 300.9L583.8 301.9L585.0 302.9L586.2 303.8L587.4 304.8L588.6 305.7L589.8 306.7L591.0 307.6L592.2 308.6L593.4 309.5L594.6 310.4L595.8 311.4L597.0 312.3L598.2 313.2L599.4 314.2L600.7 315.1L601.9 316.0L603.1 317.0L604.3 317.9L605.6 318.8L606.8 319.6L608.1 320.5L609.3 321.3L610.6 322.2L611.9 323.0L613.2 323.8L614.5 324.6L615.9 325.3L617.2 326.0L618.6 326.8L619.9 327.4L621.3 328.1L622.7 328.8L624.1 329.4L625.5 330.0L626.9 330.6L628.3 331.2" stroke="#0000ff" stroke-width="1.00"/>
<path d="M349.4 11.0L349.4 12.5L349.4 14.1L349.4 15.6L349.4 17.1L349.4 18.7L349.4 20.2L349.5 21.7L349.5 23.2L349.5 24.8L349.5 26.3L349.5 27.8L349.5 29.4L349.5 30.9L349.5 32.4L349.5 34.0L349.6 35.5L349.6 37.0L349.6 38.6L349.6 40.1L349.6 41.6L349.6 43.1L349.6 44.7L349.7 46.2L349.7 47.7L349.7 49.3L349.7 50.8L349.7 52.3L349.7 53.9L349.8 55.4L349.8 56.9L349.8 58.5L349.8 60.0L349.8 61.5L349.8 63.1L349.8 64.6L349.8 66.1L349.9 67.7L349.9 69.2L349.9 70.7L349.9 72.3L349.9 73.8L350.0 75.3L350.0 76.9L350.0 78.4L350.0 79.9L350.1 81.4L350.1 83.0L350.1 84.5L350.2 86.0L350.2 87.5L350.3 89.1L350.3 90.6L350.4 92.1L350.6 93.6L350.9 95.2L351.1 96.7L351.4 98.2L351.7 99.7L352.0 101.2L352.4 102.7L352.8 104.2L353.2 105.7L353.7 107.1L354.3 108.5L354.9 109.9L355.7 111.3L356.6 112.7L357.7 113.8L358.8 114.5L360.3 115.1L361.8 115.4L363.3 115.3L364.8 115.0L366.3 114.5L367.8 114.0L369.2 113.4L370.6 112.8L372.0 112.2L373.4 111.5L374.7 110.7L376.0 109.9L377.4 109.2L378.7 108.4L380.0 107.6L381.3 106.8L382.7 106.1L384.0 105.3L385.3 104.6L386.7 103.9L388.1 103.2L389.4 102.6L390.9 102.0L392.3 101.3L393.7 100.8L395.1 100.2L396.5 99.6L397.9 99.0L399.4 98.6L400.9 98.2L402.4 97.8L403.9 97.5L405.4 97.3L406.9 97.2L408.4 97.1L410.0 97.0L411.5 97.0L413.0 97.0L414.6 97.2L416.1 97.5L417.6 97.8L419.1 98.1L420.5 98.5L422.0 99.0L423.5 99.6L424.9 100.2L426.2 100.8L427.5 101.6L428.8 102.4L430.1 103.3L431.3 104.3L432.5 105.2L433.7 106.1L434.9 107.1L436.1 108.0L437.3 109.0L438.5 110.0L439.6 111.0L440.8 112.0L441.9 113.0L443.0 114.1L444.1 115.1L445.2 116.2L446.3 117.3L447.4 118.4L448.4 119.5L449.4 120.7L450.5 121.8L451.5 123.0L452.4 124.1L453.4 125.3L454.4 126.5L455.3 127.7L456.3 128.9L457.2 130.2L458.1 131.4L459.0 132.6L459.9 133.9L460.8 135.1L461.7 136.4L462.5 137.6L463.4 138.9L464.3 140.1L465.1 141.4L466.0 142.7L466.8 144.0L467.7 145.2L468.5 146.5L469.4 147.8L470.2 149.1L471.1 150.3L471.9 151.6L472.8 152.9L473.6 154.2L474.4 155.4L475.3 156.7L476.1 158.0L477.0 159.3L477.8 160.5L478.7 161.8L479.5 163.1L480.4 164.4L481.2 165.6L482.0 166.9L482.9 168.2L483.7 169.5L484.6 170.8L485.4 172.0L486.3 173.3L487.1 174.6L487.9 175.9L488.8 177.2L489.6 178.4L490.4 179.7L491.3 181.0L492.1 182.3L492.9 183.6L493.7 184.9L494.6 186.2L495.4 187.5L496.2 188.8L497.0 190.0L497.8 191.3L498.7 192.6L499.5 193.9L500.3 195.2L501.1 196.5L501.9 197.8L502.7 199.1L503.6 200.4L504.4 201.7L505.2 203.0L505.9 204.3L506.7 205.6L507.5 207.0L508.3 208.3L509.1 209.6L509.9 210.9L510.7 212.2L511.5 213.5L512.3 214.8L513.1 216.1L513.9 217.4L514.7 218.7L515.6 220.0L516.4 221.2L517.3 222.5L518.2 223.8L519.0 225.0L519.9 226.3L520.8 227.5L521.7 228.8L522.6 230.0L523.5 231.2L524.4 232.5L525.3 233.7L526.2 234.9L527.1 236.2L528.0 237.4L529.0 238.6L529.9 239.8L530.8 241.1L531.7 242.3L532.7 243.5L533.6 244.7L534.5 245.9L535.4 247.2L536.4 248.4L537.3 249.6L538.2 250.8L539.2 252.0L540.1 253.2L541.0 254.4L542.0 255.7L542.9 256.9L543.9 258.1L544.8 259.3L545.8 260.5L546.7 261.7L547.7 262.9L548.6 264.1L549.6 265.3L550.5 266.5L551.4 267.7L552.4 268.9L553.3 270.1L554.2 271.4L555.1 272.6L556.0 273.9L556.8 275.1L557.7 276.4L558.6 277.6L559.5 278.9L560.4 280.1L561.4 281.3L562.4 282.4L563.4 283.6L564.4 284.7L565.5 285.8L566.5 286.9L567.6 287.9L568.7 289.0L569.9 290.0L571.0 291.1L572.1 292.1L573.3 293.1L574.4 294.2L575.6 295.2L576.8 296.2L577.9 297.2L579.1 298.2L580.2 299.2L581.4 300.2L582.6 301.2L583.7 302.2L584.9 303.1L586.1 304.1L587.3 305.1L588.5 306.0L589.7 307.0L590.9 307.9L592.1 308.9L593.3 309.8L594.5 310.7L595.7 311.7L597.0 312.6L598.2 313.5L599.4 314.5L600.6 315.4L601.8 316.3L603.0 317.3L604.3 318.2L605.5 319.1L606.8 320.0L608.0 320.8L609.3 321.7L610.6 322.5L611.9 323.3L613.2 324.1L614.5 324.9L615.8 325.6L617.2 326.4L618.5 327.1L619.9 327.8L621.3 328.4L622.7 329.1L624.1 329.7L625.5 330.3L626.9 330.9L628.3 331.5" stroke="#0000ff" stroke-width="1.00"/>
</g>
<rect x="67.50" y="13.40" width="9.30" height="346.60" fill="rgba(0,0,0,0.153)"/>
<rect x="295.00" y="13.40" width="106.60" height="346.60" fill="rgba(0,0,0,0.153)"/>
<rect x="619.30" y="13.40" width="9.00" height="346.60" fill="rgba(0,0,0,0.153)"/>
<text x="65.3" y="21.20" text-anchor="end" style="font-family:'Liberation Sans',sans-serif;fill:#000;font-size:23.3px">2.0</text>
<text x="65.3" y="103.80" text-anchor="end" style="font-family:'Liberation Sans',sans-serif;fill:#000;font-size:23.3px">1.5</text>
<text x="65.3" y="186.40" text-anchor="end" style="font-family:'Liberation Sans',sans-serif;fill:#000;font-size:23.3px">1.0</text>
<text x="65.3" y="269.00" text-anchor="end" style="font-family:'Liberation Sans',sans-serif;fill:#000;font-size:23.3px">0.5</text>
<text x="65.3" y="351.60" text-anchor="end" style="font-family:'Liberation Sans',sans-serif;fill:#000;font-size:23.3px">0.0</text>
<text x="67.60" y="384.4" text-anchor="middle" style="font-family:'Liberation Sans',sans-serif;fill:#000;font-size:23.3px">−1.0</text>
<text x="207.75" y="384.4" text-anchor="middle" style="font-family:'Liberation Sans',sans-serif;fill:#000;font-size:23.3px">−0.5</text>
<text x="347.90" y="384.4" text-anchor="middle" style="font-family:'Liberation Sans',sans-serif;fill:#000;font-size:23.3px">0.0</text>
<text x="488.05" y="384.4" text-anchor="middle" style="font-family:'Liberation Sans',sans-serif;fill:#000;font-size:23.3px">0.5</text>
<text x="628.20" y="384.4" text-anchor="middle" style="font-family:'Liberation Sans',sans-serif;fill:#000;font-size:23.3px">1.0</text>
<text x="348" y="416.5" text-anchor="middle" style="font-family:'Liberation Sans',sans-serif;fill:#000;font-size:23.3px">x</text>
<text transform="translate(22.3,187) rotate(-90)" text-anchor="middle" style="font-family:'Liberation Sans',sans-serif;fill:#000;font-size:24px">Δq(x,<tspan font-style="italic">μ</tspan>)/<tspan font-style="italic">g</tspan><tspan font-style="italic" font-size="17" dy="5">A</tspan></text>
<text x="184.2" y="38" style="font-family:'Liberation Sans',sans-serif;fill:#000;font-size:23.3px">a</text>
<text x="218.2" y="38" style="font-family:'Liberation Sans',sans-serif;fill:#000;font-size:23.3px">0</text>
<path d="M198.8 31.3 H216 M209.6 25.2 Q212.2 29.3 216.8 31.3 Q212.2 33.3 209.6 37.4" fill="none" stroke="#000" stroke-width="1.85" stroke-linecap="butt" stroke-linejoin="miter"/>
<line x1="95.2" y1="64.7" x2="112.2" y2="64.7" stroke="#0000ff" stroke-width="1.3"/>
<line x1="95.2" y1="105.7" x2="112.2" y2="105.7" stroke="#ff0000" stroke-width="1.3"/>
<text x="123.2" y="67.5" style="font-family:'Liberation Sans',sans-serif;fill:#000;font-size:24.4px">NLO</text>
<text x="123.2" y="108.3" style="font-family:'Liberation Sans',sans-serif;fill:#000;font-size:24.4px">(NLO+LRR)×RGR</text>
</svg>
</body></html>
